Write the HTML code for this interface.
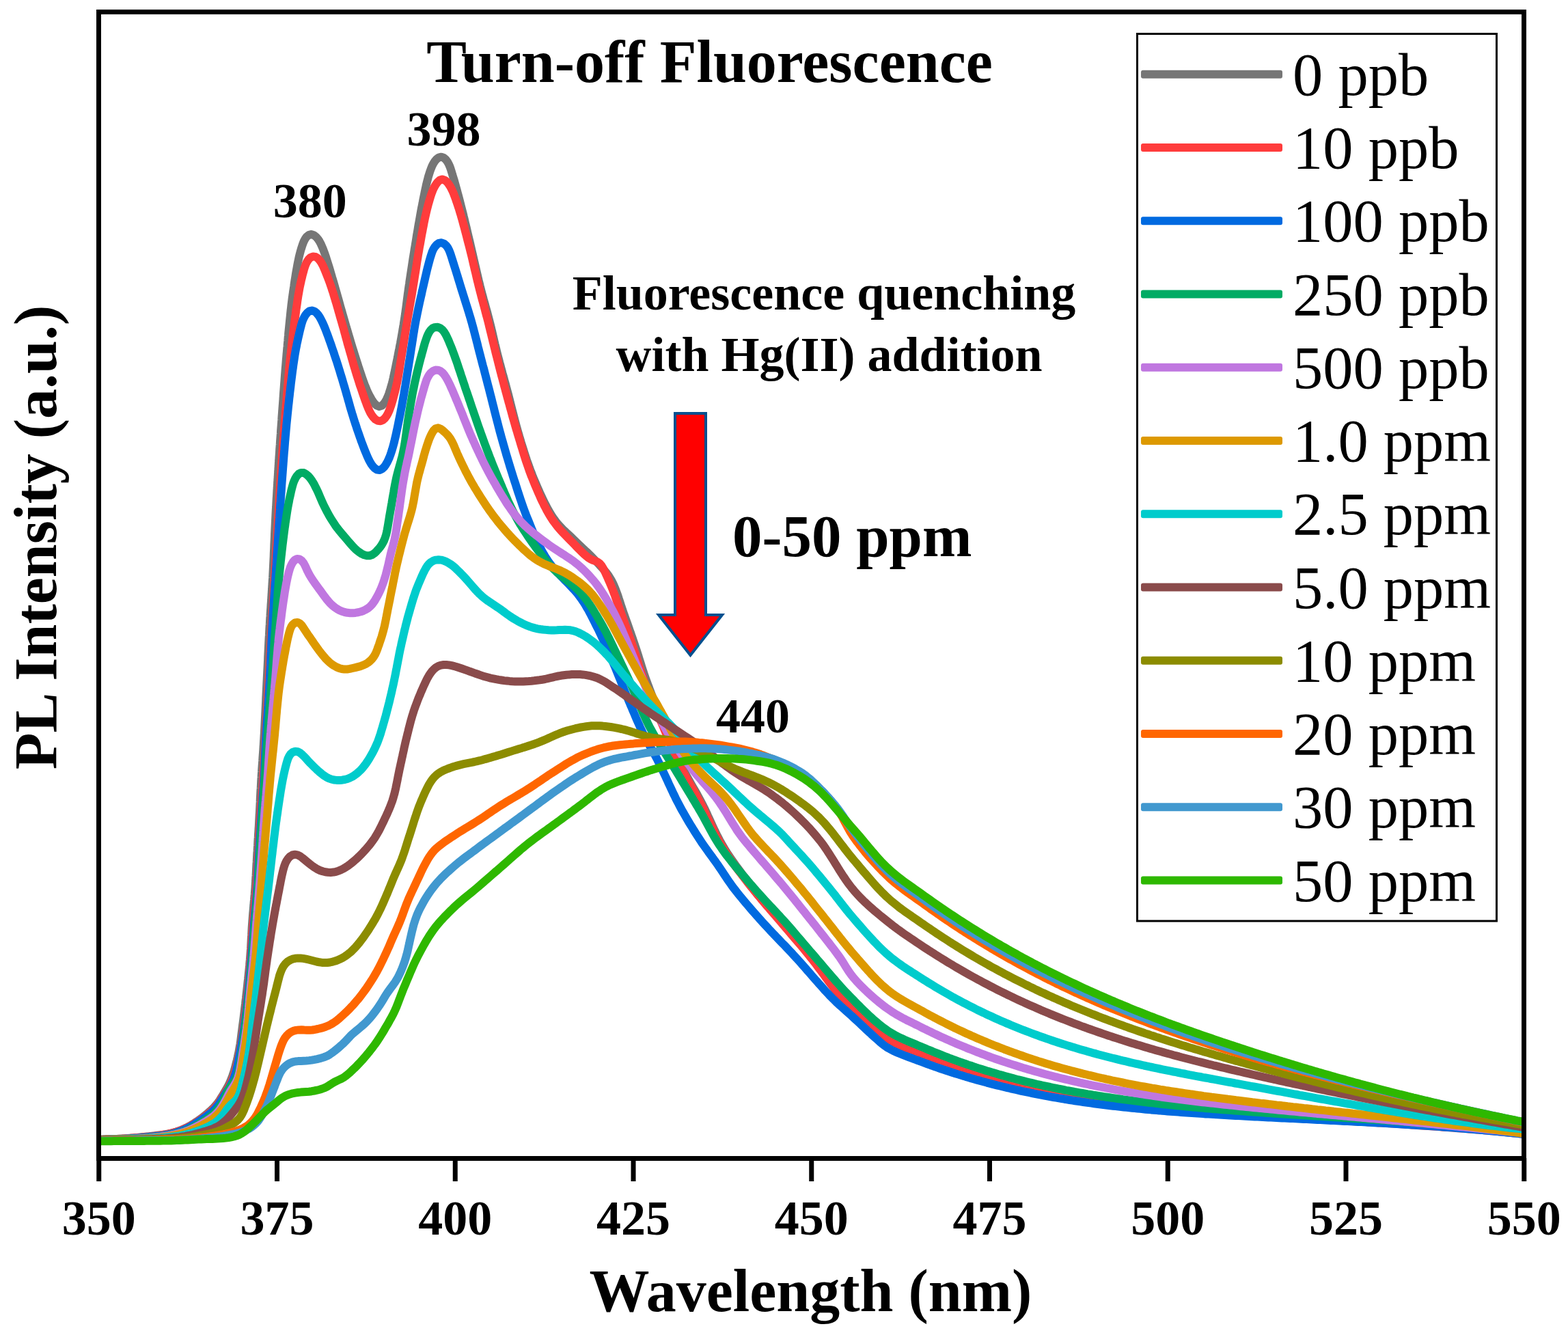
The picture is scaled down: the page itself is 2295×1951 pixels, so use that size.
<!DOCTYPE html>
<html><head><meta charset="utf-8"><title>Turn-off Fluorescence</title>
<style>
html,body{margin:0;padding:0;background:#fff;}
svg{display:block;}
text{font-family:'Liberation Serif','Times New Roman',serif;}
.b{font-weight:bold;}
</style></head><body>
<svg xmlns="http://www.w3.org/2000/svg" width="2295" height="1951" viewBox="0 0 2295 1951">
<rect x="0" y="0" width="2295" height="1951" fill="#fff"/>

<g fill="none" stroke-width="12" stroke-linejoin="round" stroke-linecap="butt" clip-path="url(#plotclip)">
<defs><clipPath id="plotclip"><rect x="144.75" y="17.5" width="2086" height="1678"/></clipPath></defs>
<path stroke="#767676" d="M146.7,1667.9 150.7,1667.7 154.7,1667.6 158.7,1667.4 162.7,1667.2 166.7,1667.1 170.7,1666.9 174.7,1666.7 178.7,1666.5 182.7,1666.3 186.7,1666.0 190.7,1665.7 194.6,1665.4 198.6,1665.1 202.6,1664.7 206.6,1664.3 210.6,1663.9 214.6,1663.5 218.5,1663.1 222.5,1662.6 226.5,1662.2 230.5,1661.7 234.4,1661.2 238.4,1660.7 242.3,1660.1 246.3,1659.4 250.2,1658.6 254.1,1657.6 257.9,1656.5 261.7,1655.2 265.4,1653.8 269.1,1652.2 272.7,1650.5 276.3,1648.7 279.8,1646.7 283.2,1644.6 286.6,1642.4 289.9,1640.2 293.1,1637.9 296.3,1635.5 299.5,1633.0 302.6,1630.5 305.6,1627.9 308.6,1625.2 311.5,1622.5 314.2,1619.6 316.8,1616.5 319.3,1613.4 321.6,1610.1 323.7,1606.7 325.8,1603.3 327.9,1599.9 329.9,1596.4 331.9,1593.0 333.9,1589.5 335.7,1585.9 337.3,1582.3 338.8,1578.6 340.2,1574.8 341.5,1571.0 342.7,1567.2 343.8,1563.3 344.8,1559.5 345.8,1555.6 346.8,1551.7 347.7,1547.8 348.5,1543.9 349.4,1540.0 350.1,1536.1 350.8,1532.1 351.5,1528.2 352.1,1524.2 352.6,1520.3 353.1,1516.3 353.6,1512.3 354.1,1508.4 354.6,1504.4 355.1,1500.4 355.7,1496.5 356.2,1492.5 356.7,1488.5 357.2,1484.6 357.7,1480.6 358.1,1476.6 358.6,1472.7 359.1,1468.7 359.5,1464.7 360.0,1460.7 360.4,1456.8 360.9,1452.8 361.3,1448.8 361.8,1444.8 362.2,1440.9 362.6,1436.9 363.1,1432.9 363.5,1428.9 363.9,1424.9 364.3,1421.0 364.7,1417.0 365.1,1413.0 365.4,1409.0 365.8,1405.0 366.1,1401.0 366.4,1397.1 366.7,1393.1 367.0,1389.1 367.2,1385.1 367.4,1381.1 367.6,1377.1 367.8,1373.1 368.1,1369.1 368.3,1365.1 368.5,1361.1 368.7,1357.1 369.0,1353.1 369.3,1349.1 369.6,1345.2 369.9,1341.2 370.2,1337.2 370.6,1333.2 370.9,1329.2 371.3,1325.2 371.6,1321.2 372.0,1317.3 372.3,1313.3 372.7,1309.3 373.0,1305.3 373.3,1301.3 373.6,1297.3 373.8,1293.3 374.1,1289.3 374.3,1285.3 374.6,1281.4 374.8,1277.4 375.0,1273.4 375.2,1269.4 375.4,1265.4 375.7,1261.4 375.9,1257.4 376.1,1253.4 376.3,1249.4 376.6,1245.4 376.8,1241.4 377.1,1237.4 377.3,1233.4 377.5,1229.4 377.8,1225.4 378.0,1221.5 378.3,1217.5 378.5,1213.5 378.8,1209.5 379.0,1205.5 379.2,1201.5 379.4,1197.5 379.6,1193.5 379.9,1189.5 380.1,1185.5 380.3,1181.5 380.5,1177.5 380.7,1173.5 380.8,1169.5 381.0,1165.5 381.2,1161.5 381.4,1157.5 381.7,1153.6 381.9,1149.6 382.1,1145.6 382.3,1141.6 382.6,1137.6 382.8,1133.6 383.1,1129.6 383.3,1125.6 383.6,1121.6 383.9,1117.6 384.2,1113.6 384.4,1109.6 384.7,1105.7 385.0,1101.7 385.3,1097.7 385.5,1093.7 385.8,1089.7 386.0,1085.7 386.3,1081.7 386.5,1077.7 386.8,1073.7 387.0,1069.7 387.2,1065.7 387.4,1061.7 387.6,1057.7 387.8,1053.7 388.0,1049.7 388.2,1045.8 388.4,1041.8 388.6,1037.8 388.8,1033.8 389.0,1029.8 389.2,1025.8 389.3,1021.8 389.5,1017.8 389.7,1013.8 389.9,1009.8 390.1,1005.8 390.3,1001.8 390.5,997.8 390.7,993.8 390.9,989.8 391.1,985.8 391.3,981.8 391.5,977.8 391.7,973.8 391.9,969.8 392.1,965.8 392.2,961.9 392.4,957.9 392.6,953.9 392.8,949.9 393.0,945.9 393.2,941.9 393.4,937.9 393.6,933.9 393.9,929.9 394.1,925.9 394.3,921.9 394.5,917.9 394.8,913.9 395.0,909.9 395.2,905.9 395.5,901.9 395.7,897.9 396.0,894.0 396.3,890.0 396.5,886.0 396.8,882.0 397.1,878.0 397.3,874.0 397.6,870.0 397.8,866.0 398.1,862.0 398.3,858.0 398.6,854.0 398.8,850.0 399.1,846.1 399.3,842.1 399.5,838.1 399.7,834.1 399.9,830.1 400.1,826.1 400.3,822.1 400.5,818.1 400.7,814.1 400.8,810.1 401.0,806.1 401.2,802.1 401.3,798.1 401.5,794.1 401.7,790.1 401.9,786.1 402.0,782.1 402.2,778.1 402.4,774.1 402.6,770.1 402.8,766.1 403.0,762.1 403.2,758.2 403.4,754.2 403.6,750.2 403.8,746.2 404.1,742.2 404.3,738.2 404.5,734.2 404.7,730.2 405.0,726.2 405.2,722.2 405.4,718.2 405.7,714.2 405.9,710.2 406.2,706.2 406.4,702.2 406.7,698.3 406.9,694.3 407.2,690.3 407.4,686.3 407.7,682.3 407.9,678.3 408.2,674.3 408.4,670.3 408.7,666.3 409.0,662.3 409.2,658.3 409.5,654.3 409.8,650.4 410.0,646.4 410.3,642.4 410.6,638.4 410.9,634.4 411.1,630.4 411.4,626.4 411.7,622.4 412.0,618.4 412.3,614.4 412.5,610.4 412.8,606.5 413.1,602.5 413.4,598.5 413.7,594.5 414.0,590.5 414.3,586.5 414.6,582.5 414.8,578.5 415.1,574.5 415.4,570.6 415.7,566.6 416.0,562.6 416.3,558.6 416.6,554.6 416.9,550.6 417.2,546.6 417.5,542.6 417.8,538.6 418.2,534.7 418.5,530.7 418.8,526.7 419.2,522.7 419.5,518.7 419.9,514.7 420.2,510.7 420.6,506.8 420.9,502.8 421.3,498.8 421.6,494.8 422.0,490.8 422.3,486.8 422.7,482.9 423.1,478.9 423.5,474.9 423.9,470.9 424.3,466.9 424.7,463.0 425.1,459.0 425.5,455.0 426.0,451.0 426.4,447.1 426.9,443.1 427.4,439.1 427.9,435.1 428.5,431.2 429.0,427.2 429.6,423.3 430.2,419.3 430.7,415.3 431.3,411.4 432.0,407.4 432.6,403.5 433.2,399.5 433.9,395.6 434.6,391.7 435.3,387.7 436.1,383.8 436.9,379.9 437.7,376.0 438.7,372.1 439.7,368.2 440.8,364.4 442.0,360.6 443.3,356.8 444.8,353.1 446.7,349.5 449.0,346.3 452.1,343.8 456.0,343.0 459.7,344.4 462.8,346.9 465.4,349.9 467.6,353.2 469.5,356.8 471.1,360.4 472.7,364.1 474.1,367.8 475.5,371.6 476.8,375.4 478.0,379.2 479.2,383.0 480.4,386.8 481.6,390.6 482.8,394.5 483.9,398.3 485.0,402.1 486.1,406.0 487.3,409.8 488.4,413.7 489.5,417.5 490.6,421.4 491.7,425.2 492.8,429.0 493.9,432.9 495.0,436.7 496.1,440.6 497.1,444.4 498.2,448.3 499.3,452.1 500.4,456.0 501.5,459.8 502.6,463.7 503.7,467.5 504.8,471.4 505.9,475.2 507.0,479.1 508.2,482.9 509.3,486.7 510.4,490.6 511.6,494.4 512.7,498.2 513.8,502.1 515.0,505.9 516.2,509.7 517.4,513.5 518.6,517.4 519.8,521.2 521.0,525.0 522.2,528.8 523.4,532.6 524.6,536.4 525.9,540.2 527.1,544.0 528.4,547.8 529.7,551.6 531.0,555.4 532.3,559.2 533.7,562.9 535.2,566.6 536.7,570.3 538.3,574.0 540.1,577.6 541.9,581.1 543.9,584.6 546.1,587.9 548.6,591.1 551.6,593.7 555.3,595.0 559.0,593.6 561.9,590.8 564.1,587.5 566.0,584.0 567.6,580.4 569.1,576.6 570.3,572.8 571.5,569.0 572.6,565.2 573.7,561.3 574.7,557.4 575.6,553.5 576.4,549.6 577.3,545.7 578.1,541.8 578.9,537.9 579.7,534.0 580.5,530.0 581.3,526.1 582.1,522.2 582.8,518.3 583.6,514.3 584.4,510.4 585.1,506.5 585.9,502.6 586.6,498.6 587.3,494.7 588.0,490.8 588.7,486.8 589.4,482.9 590.0,478.9 590.7,475.0 591.3,471.0 591.9,467.1 592.5,463.1 593.1,459.2 593.6,455.2 594.2,451.2 594.7,447.3 595.2,443.3 595.7,439.3 596.2,435.4 596.7,431.4 597.3,427.4 597.8,423.5 598.4,419.5 599.0,415.6 599.5,411.6 600.1,407.6 600.7,403.7 601.3,399.7 601.9,395.8 602.5,391.8 603.1,387.9 603.7,383.9 604.3,380.0 604.9,376.0 605.6,372.1 606.2,368.1 606.8,364.2 607.5,360.2 608.1,356.3 608.8,352.3 609.4,348.4 610.0,344.4 610.7,340.5 611.4,336.5 612.0,332.6 612.7,328.6 613.4,324.7 614.1,320.8 614.8,316.8 615.5,312.9 616.2,308.9 616.9,305.0 617.7,301.1 618.5,297.2 619.2,293.2 620.0,289.3 620.8,285.4 621.6,281.5 622.4,277.6 623.3,273.6 624.1,269.7 625.1,265.9 626.1,262.0 627.1,258.1 628.3,254.3 629.5,250.5 630.9,246.7 632.4,243.0 634.2,239.5 636.4,236.1 638.9,233.0 642.1,230.6 645.9,229.7 649.6,231.0 652.6,233.6 655.0,236.8 656.9,240.3 658.5,244.0 659.8,247.8 661.0,251.6 662.1,255.4 663.3,259.2 664.5,263.1 665.6,266.9 666.7,270.8 667.7,274.6 668.8,278.5 669.8,282.3 670.9,286.2 671.9,290.1 672.9,293.9 673.9,297.8 674.9,301.7 675.9,305.5 676.9,309.4 677.9,313.3 678.8,317.2 679.8,321.1 680.7,325.0 681.6,328.9 682.6,332.7 683.5,336.6 684.4,340.5 685.3,344.4 686.2,348.3 687.2,352.2 688.1,356.1 689.0,360.0 689.9,363.9 690.8,367.8 691.7,371.7 692.6,375.6 693.5,379.5 694.4,383.4 695.3,387.3 696.2,391.2 697.1,395.1 698.0,399.0 698.9,402.9 699.8,406.8 700.7,410.7 701.7,414.5 702.6,418.4 703.6,422.3 704.6,426.2 705.6,430.0 706.7,433.9 707.7,437.8 708.8,441.6 709.9,445.5 710.9,449.3 712.0,453.2 713.1,457.0 714.1,460.9 715.1,464.8 716.1,468.6 717.1,472.5 718.1,476.4 719.0,480.3 720.0,484.2 720.9,488.1 721.8,492.0 722.7,495.9 723.6,499.8 724.5,503.7 725.5,507.5 726.4,511.4 727.3,515.3 728.3,519.2 729.3,523.1 730.3,526.9 731.3,530.8 732.4,534.7 733.4,538.5 734.5,542.4 735.5,546.3 736.6,550.1 737.6,554.0 738.7,557.8 739.8,561.7 740.8,565.5 741.8,569.4 742.9,573.3 743.9,577.1 744.9,581.0 745.9,584.9 746.8,588.8 747.8,592.6 748.8,596.5 749.8,600.4 750.8,604.3 751.8,608.2 752.8,612.0 753.8,615.9 754.8,619.8 755.8,623.6 756.9,627.5 758.0,631.3 759.1,635.2 760.2,639.0 761.4,642.8 762.5,646.7 763.7,650.5 764.9,654.3 766.1,658.1 767.3,662.0 768.5,665.8 769.8,669.6 771.0,673.4 772.3,677.1 773.7,680.9 775.0,684.7 776.4,688.4 777.9,692.1 779.3,695.9 780.8,699.6 782.4,703.3 783.9,706.9 785.5,710.6 787.1,714.3 788.7,718.0 790.3,721.6 792.0,725.3 793.7,728.9 795.4,732.5 797.2,736.1 799.0,739.6 800.9,743.2 802.8,746.7 804.8,750.2 806.9,753.6 809.0,756.9 811.3,760.2 813.7,763.4 816.2,766.5 818.9,769.5 821.6,772.4 824.4,775.3 827.3,778.0 830.2,780.8 833.2,783.5 836.1,786.2 839.0,789.0 841.8,791.8 844.7,794.6 847.6,797.3 850.5,800.1 853.4,802.8 856.3,805.6 859.3,808.3 862.1,811.1 865.0,813.9 867.8,816.7 870.6,819.6 873.3,822.5 876.1,825.4 878.8,828.3 881.5,831.3 884.2,834.3 886.7,837.3 889.2,840.5 891.5,843.8 893.6,847.2 895.6,850.6 897.4,854.2 899.0,857.9 900.6,861.6 902.0,865.3 903.4,869.1 904.7,872.8 905.9,876.6 907.2,880.4 908.4,884.2 909.6,888.0 910.9,891.8 912.2,895.6 913.5,899.4 914.9,903.2 916.2,906.9 917.6,910.7 918.9,914.5 920.2,918.2 921.5,922.0 922.9,925.8 924.2,929.6 925.5,933.3 926.8,937.1 928.1,940.9 929.4,944.7 930.6,948.5 931.9,952.3 933.1,956.1 934.3,959.9 935.5,963.7 936.7,967.6 937.9,971.4 939.1,975.2 940.3,979.0 941.5,982.8 942.8,986.6 944.1,990.4 945.4,994.2 946.8,997.9 948.2,1001.7 949.6,1005.4 951.0,1009.2 952.4,1012.9 953.8,1016.6 955.3,1020.4 956.7,1024.1 958.2,1027.8 959.6,1031.6 961.1,1035.3 962.6,1039.0 964.0,1042.7 965.5,1046.4 967.0,1050.1 968.5,1053.8 970.0,1057.6 971.5,1061.3 973.0,1065.0 974.6,1068.7 976.1,1072.4 977.6,1076.0 979.2,1079.7 980.7,1083.4 982.3,1087.1 983.9,1090.8 985.5,1094.4 987.1,1098.1 988.7,1101.8 990.3,1105.4 991.9,1109.1 993.6,1112.7 995.3,1116.3 997.0,1120.0 998.8,1123.5 1000.5,1127.1 1002.4,1130.7 1004.2,1134.2 1006.1,1137.7 1008.1,1141.2 1010.0,1144.7 1012.0,1148.2 1014.0,1151.7 1016.0,1155.1 1018.0,1158.6 1020.0,1162.1 1021.9,1165.6 1023.8,1169.1 1025.7,1172.6 1027.6,1176.2 1029.4,1179.7 1031.1,1183.3 1032.9,1186.9 1034.6,1190.6 1036.2,1194.2 1037.9,1197.8 1039.6,1201.5 1041.2,1205.1 1042.9,1208.7 1044.6,1212.4 1046.3,1216.0 1048.1,1219.6 1049.8,1223.2 1051.7,1226.7 1053.5,1230.3 1055.5,1233.8 1057.4,1237.2 1059.5,1240.7 1061.6,1244.1 1063.7,1247.5 1065.9,1250.8 1068.1,1254.1 1070.4,1257.4 1072.7,1260.7 1075.0,1264.0 1077.3,1267.2 1079.7,1270.4 1082.1,1273.6 1084.5,1276.8 1086.9,1280.0 1089.4,1283.2 1091.8,1286.3 1094.3,1289.5 1096.7,1292.7 1099.2,1295.8 1101.7,1298.9 1104.2,1302.1 1106.7,1305.2 1109.2,1308.3 1111.7,1311.4 1114.3,1314.5 1116.9,1317.5 1119.5,1320.6 1122.1,1323.6 1124.7,1326.6 1127.3,1329.7 1129.9,1332.7 1132.5,1335.7 1135.1,1338.7 1137.8,1341.8 1140.4,1344.8 1143.0,1347.8 1145.6,1350.9 1148.1,1353.9 1150.7,1357.0 1153.3,1360.0 1155.9,1363.1 1158.6,1366.1 1161.2,1369.1 1163.8,1372.2 1166.4,1375.2 1169.0,1378.2 1171.5,1381.3 1174.1,1384.4 1176.7,1387.4 1179.2,1390.5 1181.8,1393.6 1184.3,1396.7 1186.8,1399.8 1189.3,1402.9 1191.8,1406.1 1194.2,1409.3 1196.6,1412.5 1199.0,1415.7 1201.4,1418.9 1203.8,1422.1 1206.1,1425.3 1208.5,1428.5 1210.9,1431.8 1213.3,1435.0 1215.6,1438.2 1218.0,1441.4 1220.4,1444.6 1222.8,1447.8 1225.3,1451.0 1227.7,1454.1 1230.3,1457.2 1232.8,1460.3 1235.4,1463.3 1238.1,1466.3 1240.8,1469.3 1243.5,1472.2 1246.4,1475.0 1249.2,1477.8 1252.1,1480.6 1255.0,1483.3 1257.9,1486.1 1260.8,1488.8 1263.7,1491.6 1266.7,1494.3 1269.6,1497.0 1272.6,1499.7 1275.6,1502.3 1278.6,1504.9 1281.7,1507.5 1284.8,1510.0 1287.9,1512.5 1291.1,1514.9 1294.4,1517.2 1297.7,1519.5 1301.1,1521.6 1304.5,1523.6 1308.0,1525.5 1311.6,1527.3 1315.2,1529.1 1318.9,1530.7 1322.5,1532.3 1326.3,1533.8 1330.0,1535.2 1333.7,1536.7 1337.4,1538.1 1341.2,1539.5 1344.9,1540.9 1348.7,1542.4 1352.4,1543.8 1356.1,1545.3 1359.8,1546.8 1363.6,1548.2 1367.3,1549.6 1371.0,1551.0 1374.8,1552.4 1378.6,1553.8 1382.3,1555.1 1386.1,1556.5 1389.9,1557.8 1393.6,1559.1 1397.4,1560.4 1401.2,1561.7 1405.0,1562.9 1408.8,1564.2 1412.6,1565.4 1416.4,1566.6 1420.3,1567.8 1424.1,1569.0 1427.9,1570.1 1431.7,1571.3 1435.6,1572.4 1439.4,1573.5 1443.3,1574.6 1447.1,1575.7 1451.0,1576.8 1454.8,1577.9 1458.7,1578.9 1462.5,1579.9 1466.4,1581.0 1470.3,1582.0 1474.2,1582.9 1478.0,1583.9 1481.9,1584.9 1485.8,1585.8 1489.7,1586.7 1493.6,1587.7 1497.5,1588.6 1501.4,1589.4 1505.3,1590.3 1509.2,1591.2 1513.1,1592.0 1517.0,1592.9 1520.9,1593.7 1524.9,1594.5 1528.8,1595.3 1532.7,1596.1 1536.6,1596.9 1540.5,1597.6 1544.5,1598.4 1548.4,1599.1 1552.3,1599.8 1556.3,1600.5 1560.2,1601.2 1564.2,1601.9 1568.1,1602.6 1572.0,1603.3 1576.0,1603.9 1579.9,1604.6 1583.9,1605.2 1587.8,1605.8 1591.8,1606.5 1595.7,1607.1 1599.7,1607.7 1603.7,1608.3 1607.6,1608.8 1611.6,1609.4 1615.5,1610.0 1619.5,1610.5 1623.5,1611.1 1627.4,1611.6 1631.4,1612.1 1635.4,1612.6 1639.3,1613.1 1643.3,1613.6 1647.3,1614.1 1651.2,1614.6 1655.2,1615.1 1659.2,1615.6 1663.1,1616.0 1667.1,1616.5 1671.1,1616.9 1675.1,1617.4 1679.0,1617.8 1683.0,1618.2 1687.0,1618.7 1691.0,1619.1 1695.0,1619.5 1698.9,1619.9 1702.9,1620.3 1706.9,1620.7 1710.9,1621.1 1714.9,1621.5 1718.8,1621.9 1722.8,1622.3 1726.8,1622.6 1730.8,1623.0 1734.8,1623.4 1738.8,1623.7 1742.7,1624.1 1746.7,1624.4 1750.7,1624.8 1754.7,1625.1 1758.7,1625.5 1762.7,1625.8 1766.6,1626.1 1770.6,1626.5 1774.6,1626.8 1778.6,1627.1 1782.6,1627.4 1786.6,1627.7 1790.6,1628.0 1794.6,1628.4 1798.5,1628.7 1802.5,1629.0 1806.5,1629.3 1810.5,1629.5 1814.5,1629.8 1818.5,1630.1 1822.5,1630.4 1826.5,1630.7 1830.5,1631.0 1834.5,1631.2 1838.4,1631.5 1842.4,1631.8 1846.4,1632.1 1850.4,1632.3 1854.4,1632.6 1858.4,1632.9 1862.4,1633.1 1866.4,1633.4 1870.4,1633.6 1874.4,1633.9 1878.4,1634.1 1882.4,1634.4 1886.3,1634.6 1890.3,1634.9 1894.3,1635.1 1898.3,1635.4 1902.3,1635.6 1906.3,1635.9 1910.3,1636.1 1914.3,1636.4 1918.3,1636.6 1922.3,1636.8 1926.3,1637.1 1930.3,1637.3 1934.3,1637.5 1938.2,1637.8 1942.2,1638.0 1946.2,1638.3 1950.2,1638.5 1954.2,1638.7 1958.2,1639.0 1962.2,1639.2 1966.2,1639.4 1970.2,1639.7 1974.2,1639.9 1978.2,1640.1 1982.2,1640.4 1986.2,1640.6 1990.2,1640.8 1994.2,1641.1 1998.1,1641.3 2002.1,1641.6 2006.1,1641.8 2010.1,1642.0 2014.1,1642.3 2018.1,1642.5 2022.1,1642.8 2026.1,1643.0 2030.1,1643.3 2034.1,1643.5 2038.1,1643.8 2042.1,1644.0 2046.1,1644.3 2050.0,1644.5 2054.0,1644.8 2058.0,1645.0 2062.0,1645.3 2066.0,1645.6 2070.0,1645.8 2074.0,1646.1 2078.0,1646.3 2082.0,1646.6 2086.0,1646.9 2090.0,1647.2 2093.9,1647.4 2097.9,1647.7 2101.9,1648.0 2105.9,1648.3 2109.9,1648.6 2113.9,1648.9 2117.9,1649.2 2121.9,1649.5 2125.9,1649.8 2129.9,1650.1 2133.8,1650.4 2137.8,1650.7 2141.8,1651.0 2145.8,1651.3 2149.8,1651.6 2153.8,1652.0 2157.8,1652.3 2161.8,1652.6 2165.7,1653.0 2169.7,1653.3 2173.7,1653.6 2177.7,1654.0 2181.7,1654.3 2185.7,1654.7 2189.6,1655.1 2193.6,1655.4 2197.6,1655.8 2201.6,1656.2 2205.6,1656.5 2209.6,1656.9 2213.5,1657.3 2217.5,1657.7 2221.5,1658.1 2225.5,1658.5 2227.4,1658.7"/>
<path stroke="#FF3C3C" d="M146.7,1667.9 150.7,1667.7 154.7,1667.6 158.7,1667.4 162.7,1667.2 166.7,1667.0 170.7,1666.9 174.7,1666.7 178.7,1666.5 182.7,1666.2 186.7,1666.0 190.7,1665.8 194.7,1665.5 198.6,1665.2 202.6,1665.0 206.6,1664.7 210.6,1664.3 214.6,1663.9 218.6,1663.5 222.5,1663.1 226.5,1662.6 230.5,1662.1 234.5,1661.6 238.4,1661.0 242.4,1660.4 246.3,1659.6 250.2,1658.8 254.1,1657.8 257.9,1656.7 261.7,1655.5 265.5,1654.1 269.2,1652.6 272.8,1651.0 276.4,1649.2 279.9,1647.3 283.4,1645.2 286.8,1643.1 290.1,1640.9 293.4,1638.7 296.7,1636.3 299.9,1634.0 303.1,1631.5 306.2,1629.0 309.2,1626.4 312.1,1623.7 314.9,1620.8 317.5,1617.7 319.9,1614.5 322.1,1611.2 324.3,1607.8 326.4,1604.5 328.5,1601.1 330.7,1597.7 332.8,1594.3 334.8,1590.9 336.8,1587.4 338.5,1583.8 340.2,1580.1 341.6,1576.4 343.0,1572.6 344.2,1568.8 345.3,1565.0 346.3,1561.1 347.2,1557.2 348.1,1553.3 349.0,1549.4 349.8,1545.5 350.6,1541.6 351.4,1537.7 352.2,1533.7 352.9,1529.8 353.6,1525.9 354.2,1521.9 354.9,1518.0 355.4,1514.0 356.0,1510.0 356.6,1506.1 357.1,1502.1 357.6,1498.2 358.2,1494.2 358.7,1490.2 359.2,1486.3 359.7,1482.3 360.2,1478.3 360.7,1474.4 361.1,1470.4 361.6,1466.4 362.0,1462.4 362.4,1458.4 362.8,1454.5 363.2,1450.5 363.6,1446.5 364.0,1442.5 364.3,1438.5 364.7,1434.6 365.0,1430.6 365.3,1426.6 365.6,1422.6 365.9,1418.6 366.2,1414.6 366.5,1410.6 366.8,1406.6 367.1,1402.6 367.4,1398.7 367.7,1394.7 368.0,1390.7 368.2,1386.7 368.5,1382.7 368.8,1378.7 369.0,1374.7 369.3,1370.7 369.6,1366.7 369.8,1362.7 370.1,1358.8 370.4,1354.8 370.8,1350.8 371.1,1346.8 371.4,1342.8 371.8,1338.8 372.2,1334.8 372.6,1330.9 373.0,1326.9 373.3,1322.9 373.7,1318.9 374.1,1314.9 374.5,1311.0 374.8,1307.0 375.2,1303.0 375.5,1299.0 375.7,1295.0 376.0,1291.0 376.3,1287.0 376.5,1283.0 376.7,1279.0 377.0,1275.0 377.2,1271.0 377.4,1267.1 377.6,1263.1 377.8,1259.1 378.0,1255.1 378.2,1251.1 378.5,1247.1 378.7,1243.1 378.9,1239.1 379.1,1235.1 379.3,1231.1 379.5,1227.1 379.7,1223.1 379.9,1219.1 380.1,1215.1 380.3,1211.1 380.6,1207.1 380.8,1203.1 381.1,1199.1 381.3,1195.2 381.6,1191.2 381.9,1187.2 382.2,1183.2 382.5,1179.2 382.8,1175.2 383.1,1171.2 383.4,1167.2 383.7,1163.2 384.0,1159.3 384.3,1155.3 384.5,1151.3 384.8,1147.3 385.1,1143.3 385.3,1139.3 385.6,1135.3 385.8,1131.3 386.0,1127.3 386.3,1123.3 386.5,1119.3 386.7,1115.3 386.9,1111.3 387.1,1107.4 387.3,1103.4 387.5,1099.4 387.7,1095.4 387.9,1091.4 388.1,1087.4 388.3,1083.4 388.5,1079.4 388.8,1075.4 389.0,1071.4 389.2,1067.4 389.5,1063.4 389.7,1059.4 390.0,1055.4 390.2,1051.4 390.4,1047.4 390.7,1043.5 390.9,1039.5 391.2,1035.5 391.4,1031.5 391.7,1027.5 391.9,1023.5 392.2,1019.5 392.4,1015.5 392.6,1011.5 392.9,1007.5 393.1,1003.5 393.3,999.5 393.5,995.5 393.8,991.5 394.0,987.5 394.2,983.6 394.4,979.6 394.6,975.6 394.8,971.6 395.0,967.6 395.2,963.6 395.4,959.6 395.6,955.6 395.8,951.6 396.0,947.6 396.2,943.6 396.4,939.6 396.7,935.6 396.9,931.6 397.1,927.6 397.3,923.6 397.5,919.6 397.7,915.6 398.0,911.7 398.2,907.7 398.4,903.7 398.7,899.7 398.9,895.7 399.2,891.7 399.4,887.7 399.6,883.7 399.9,879.7 400.1,875.7 400.4,871.7 400.6,867.7 400.9,863.7 401.1,859.7 401.3,855.8 401.6,851.8 401.8,847.8 402.1,843.8 402.3,839.8 402.6,835.8 402.8,831.8 403.0,827.8 403.3,823.8 403.5,819.8 403.7,815.8 404.0,811.8 404.2,807.8 404.5,803.8 404.7,799.9 404.9,795.9 405.2,791.9 405.4,787.9 405.7,783.9 405.9,779.9 406.1,775.9 406.4,771.9 406.6,767.9 406.9,763.9 407.1,759.9 407.3,755.9 407.6,751.9 407.8,748.0 408.1,744.0 408.3,740.0 408.6,736.0 408.8,732.0 409.0,728.0 409.3,724.0 409.5,720.0 409.8,716.0 410.0,712.0 410.3,708.0 410.5,704.0 410.8,700.0 411.0,696.0 411.3,692.1 411.6,688.1 411.8,684.1 412.1,680.1 412.4,676.1 412.7,672.1 412.9,668.1 413.2,664.1 413.5,660.1 413.8,656.1 414.1,652.2 414.4,648.2 414.7,644.2 415.0,640.2 415.3,636.2 415.6,632.2 415.9,628.2 416.2,624.2 416.6,620.3 416.9,616.3 417.2,612.3 417.5,608.3 417.8,604.3 418.2,600.3 418.5,596.3 418.8,592.3 419.2,588.4 419.5,584.4 419.8,580.4 420.1,576.4 420.5,572.4 420.8,568.4 421.1,564.4 421.5,560.5 421.8,556.5 422.2,552.5 422.5,548.5 422.9,544.5 423.2,540.5 423.6,536.6 424.0,532.6 424.4,528.6 424.8,524.6 425.2,520.6 425.7,516.7 426.1,512.7 426.6,508.7 427.0,504.7 427.5,500.8 428.0,496.8 428.4,492.8 428.9,488.8 429.4,484.9 429.9,480.9 430.4,476.9 430.9,473.0 431.4,469.0 431.9,465.0 432.5,461.1 433.0,457.1 433.5,453.1 434.1,449.2 434.7,445.2 435.2,441.3 435.8,437.3 436.4,433.4 437.1,429.4 437.8,425.5 438.5,421.5 439.3,417.6 440.2,413.7 441.0,409.8 442.0,405.9 442.9,402.0 444.0,398.2 445.0,394.3 446.2,390.5 447.6,386.7 449.3,383.1 451.5,379.8 454.3,377.0 458.0,375.4 461.9,375.9 465.2,378.1 467.9,381.0 470.2,384.3 472.1,387.8 473.8,391.4 475.3,395.1 476.8,398.8 478.3,402.5 479.8,406.3 481.2,410.0 482.6,413.8 483.9,417.5 485.2,421.3 486.4,425.1 487.7,428.9 488.8,432.8 490.0,436.6 491.1,440.4 492.3,444.2 493.4,448.1 494.5,451.9 495.6,455.8 496.7,459.6 497.8,463.5 498.9,467.3 500.0,471.2 501.1,475.0 502.2,478.9 503.3,482.7 504.3,486.6 505.4,490.4 506.4,494.3 507.5,498.1 508.5,502.0 509.6,505.9 510.7,509.7 511.8,513.6 512.9,517.4 514.0,521.2 515.1,525.1 516.2,528.9 517.3,532.8 518.4,536.6 519.6,540.4 520.7,544.3 521.9,548.1 523.1,551.9 524.3,555.7 525.5,559.6 526.7,563.4 528.0,567.1 529.3,570.9 530.6,574.7 531.9,578.5 533.2,582.3 534.5,586.0 535.9,589.8 537.3,593.6 538.8,597.3 540.4,600.9 542.2,604.5 544.3,607.9 546.7,611.1 549.5,613.9 553.0,615.9 556.9,616.3 560.6,614.7 563.5,612.0 565.8,608.8 567.8,605.3 569.5,601.6 570.9,597.9 572.2,594.1 573.4,590.3 574.5,586.5 575.6,582.6 576.6,578.8 577.6,574.9 578.6,571.0 579.6,567.1 580.4,563.2 581.3,559.3 582.0,555.4 582.8,551.4 583.5,547.5 584.1,543.6 584.8,539.6 585.4,535.7 586.0,531.7 586.6,527.8 587.3,523.8 587.9,519.9 588.6,515.9 589.2,512.0 589.9,508.0 590.5,504.1 591.2,500.1 591.8,496.2 592.4,492.2 593.0,488.3 593.7,484.3 594.3,480.4 594.9,476.4 595.6,472.5 596.3,468.5 596.9,464.6 597.6,460.7 598.3,456.7 599.0,452.8 599.6,448.8 600.3,444.9 601.0,440.9 601.7,437.0 602.4,433.1 603.1,429.1 603.7,425.2 604.4,421.2 605.0,417.3 605.7,413.3 606.3,409.4 606.9,405.4 607.5,401.5 608.2,397.5 608.8,393.6 609.4,389.6 610.0,385.7 610.6,381.7 611.3,377.8 611.9,373.8 612.6,369.9 613.3,365.9 613.9,362.0 614.7,358.1 615.4,354.1 616.1,350.2 616.8,346.3 617.5,342.3 618.3,338.4 619.0,334.5 619.8,330.5 620.5,326.6 621.3,322.7 622.1,318.8 623.0,314.9 623.9,311.0 624.8,307.1 625.8,303.2 626.8,299.3 627.9,295.5 629.0,291.6 630.2,287.8 631.4,284.0 632.8,280.3 634.3,276.6 636.1,273.0 638.2,269.6 640.6,266.4 643.6,263.7 647.3,262.4 651.0,263.6 654.1,266.2 656.6,269.3 658.8,272.6 660.7,276.1 662.4,279.7 664.0,283.4 665.4,287.2 666.8,290.9 668.1,294.7 669.4,298.5 670.6,302.3 671.9,306.1 673.0,309.9 674.2,313.7 675.3,317.6 676.4,321.4 677.5,325.3 678.5,329.1 679.6,333.0 680.6,336.9 681.6,340.7 682.6,344.6 683.6,348.5 684.6,352.4 685.6,356.2 686.6,360.1 687.6,364.0 688.6,367.9 689.5,371.7 690.5,375.6 691.4,379.5 692.3,383.4 693.2,387.3 694.1,391.2 695.0,395.1 696.0,399.0 696.9,402.9 697.8,406.8 698.7,410.7 699.7,414.6 700.6,418.4 701.6,422.3 702.6,426.2 703.6,430.1 704.6,433.9 705.6,437.8 706.7,441.7 707.7,445.5 708.8,449.4 709.8,453.3 710.8,457.1 711.8,461.0 712.9,464.9 713.9,468.7 714.9,472.6 715.8,476.5 716.8,480.4 717.7,484.3 718.7,488.1 719.6,492.0 720.6,495.9 721.5,499.8 722.5,503.7 723.4,507.6 724.4,511.5 725.3,515.3 726.3,519.2 727.3,523.1 728.3,527.0 729.3,530.9 730.2,534.7 731.2,538.6 732.2,542.5 733.2,546.3 734.2,550.2 735.3,554.1 736.3,558.0 737.3,561.8 738.3,565.7 739.4,569.5 740.4,573.4 741.5,577.3 742.5,581.1 743.6,585.0 744.6,588.9 745.7,592.7 746.7,596.6 747.8,600.4 748.9,604.3 749.9,608.1 751.0,612.0 752.1,615.8 753.2,619.7 754.3,623.5 755.4,627.4 756.6,631.2 757.7,635.0 758.9,638.9 760.0,642.7 761.2,646.5 762.3,650.3 763.5,654.2 764.7,658.0 765.8,661.8 767.0,665.6 768.2,669.5 769.4,673.3 770.7,677.1 772.0,680.9 773.3,684.6 774.6,688.4 776.0,692.2 777.4,695.9 778.9,699.6 780.4,703.3 781.9,707.0 783.4,710.7 785.0,714.4 786.6,718.1 788.2,721.8 789.8,725.4 791.4,729.1 793.1,732.7 794.9,736.3 796.6,739.9 798.5,743.4 800.3,747.0 802.3,750.5 804.3,753.9 806.4,757.3 808.6,760.7 810.9,764.0 813.3,767.2 815.7,770.3 818.3,773.4 821.0,776.4 823.7,779.3 826.4,782.2 829.2,785.1 832.0,787.9 834.8,790.8 837.6,793.7 840.4,796.5 843.1,799.4 845.9,802.3 848.7,805.1 851.6,807.9 854.5,810.7 857.5,813.4 860.6,815.9 863.9,818.1 867.5,819.8 871.3,821.1 875.0,822.7 878.1,825.1 880.7,828.2 882.7,831.6 884.6,835.2 886.3,838.8 887.9,842.4 889.6,846.1 891.2,849.8 892.8,853.4 894.3,857.1 895.8,860.8 897.3,864.6 898.7,868.3 900.1,872.0 901.4,875.8 902.8,879.6 904.1,883.3 905.4,887.1 906.8,890.9 908.1,894.7 909.4,898.4 910.8,902.2 912.1,906.0 913.5,909.7 914.8,913.5 916.2,917.3 917.5,921.0 918.8,924.8 920.1,928.6 921.5,932.4 922.8,936.1 924.1,939.9 925.4,943.7 926.6,947.5 927.9,951.3 929.2,955.1 930.4,958.9 931.6,962.7 932.8,966.5 934.0,970.4 935.2,974.2 936.4,978.0 937.6,981.8 938.8,985.6 940.1,989.4 941.4,993.2 942.7,997.0 944.1,1000.7 945.5,1004.4 947.0,1008.2 948.5,1011.9 950.0,1015.6 951.5,1019.3 953.1,1023.0 954.6,1026.6 956.2,1030.3 957.8,1034.0 959.4,1037.7 961.0,1041.3 962.6,1045.0 964.2,1048.7 965.8,1052.3 967.4,1056.0 969.0,1059.7 970.6,1063.3 972.1,1067.0 973.7,1070.7 975.2,1074.4 976.7,1078.1 978.3,1081.8 979.8,1085.5 981.3,1089.2 982.9,1092.9 984.4,1096.6 986.0,1100.2 987.6,1103.9 989.2,1107.6 990.9,1111.2 992.6,1114.8 994.3,1118.4 996.0,1122.0 997.8,1125.6 999.7,1129.2 1001.6,1132.7 1003.5,1136.2 1005.4,1139.7 1007.3,1143.2 1009.3,1146.7 1011.3,1150.2 1013.2,1153.7 1015.2,1157.1 1017.2,1160.6 1019.1,1164.1 1021.0,1167.6 1022.9,1171.2 1024.8,1174.7 1026.6,1178.2 1028.4,1181.8 1030.2,1185.4 1031.9,1189.0 1033.6,1192.6 1035.3,1196.2 1037.0,1199.9 1038.7,1203.5 1040.4,1207.1 1042.1,1210.7 1043.9,1214.3 1045.6,1217.9 1047.4,1221.5 1049.2,1225.1 1051.1,1228.6 1053.0,1232.1 1055.0,1235.6 1057.0,1239.1 1059.1,1242.5 1061.2,1245.9 1063.4,1249.2 1065.6,1252.6 1067.8,1255.9 1070.1,1259.2 1072.4,1262.4 1074.8,1265.7 1077.1,1268.9 1079.5,1272.1 1081.9,1275.3 1084.3,1278.5 1086.7,1281.7 1089.2,1284.8 1091.6,1288.0 1094.1,1291.2 1096.5,1294.3 1099.0,1297.5 1101.5,1300.6 1104.0,1303.7 1106.5,1306.8 1109.0,1309.9 1111.6,1313.0 1114.1,1316.1 1116.7,1319.1 1119.3,1322.2 1121.9,1325.2 1124.6,1328.2 1127.2,1331.3 1129.8,1334.3 1132.4,1337.3 1135.0,1340.3 1137.6,1343.4 1140.2,1346.4 1142.8,1349.5 1145.4,1352.5 1148.0,1355.5 1150.6,1358.6 1153.2,1361.6 1155.8,1364.7 1158.4,1367.7 1161.0,1370.7 1163.6,1373.8 1166.2,1376.8 1168.8,1379.9 1171.4,1382.9 1174.0,1386.0 1176.5,1389.0 1179.1,1392.1 1181.6,1395.2 1184.1,1398.3 1186.6,1401.5 1189.1,1404.6 1191.6,1407.8 1194.0,1410.9 1196.4,1414.1 1198.8,1417.3 1201.2,1420.5 1203.6,1423.8 1206.0,1427.0 1208.3,1430.2 1210.7,1433.4 1213.1,1436.6 1215.5,1439.8 1217.9,1443.0 1220.3,1446.2 1222.7,1449.4 1225.1,1452.6 1227.6,1455.7 1230.1,1458.9 1232.6,1461.9 1235.2,1465.0 1237.8,1468.1 1240.4,1471.1 1243.1,1474.0 1245.9,1476.9 1248.7,1479.7 1251.6,1482.5 1254.5,1485.2 1257.5,1488.0 1260.4,1490.7 1263.4,1493.3 1266.4,1496.0 1269.4,1498.6 1272.4,1501.2 1275.5,1503.8 1278.6,1506.3 1281.7,1508.8 1284.9,1511.3 1288.1,1513.7 1291.3,1516.0 1294.6,1518.3 1298.0,1520.5 1301.4,1522.6 1304.8,1524.6 1308.4,1526.5 1311.9,1528.2 1315.6,1529.9 1319.2,1531.6 1322.9,1533.1 1326.6,1534.6 1330.3,1536.1 1334.1,1537.6 1337.8,1539.0 1341.5,1540.4 1345.3,1541.9 1349.0,1543.3 1352.7,1544.8 1356.4,1546.2 1360.2,1547.7 1363.9,1549.1 1367.6,1550.5 1371.4,1551.9 1375.1,1553.3 1378.9,1554.7 1382.7,1556.0 1386.4,1557.4 1390.2,1558.7 1394.0,1560.0 1397.8,1561.3 1401.6,1562.6 1405.4,1563.8 1409.2,1565.1 1413.0,1566.3 1416.8,1567.5 1420.6,1568.7 1424.4,1569.9 1428.2,1571.0 1432.1,1572.2 1435.9,1573.3 1439.8,1574.4 1443.6,1575.5 1447.4,1576.6 1451.3,1577.7 1455.2,1578.8 1459.0,1579.8 1462.9,1580.8 1466.8,1581.8 1470.6,1582.8 1474.5,1583.8 1478.4,1584.8 1482.3,1585.7 1486.2,1586.7 1490.0,1587.6 1493.9,1588.5 1497.8,1589.4 1501.7,1590.3 1505.6,1591.2 1509.5,1592.1 1513.5,1592.9 1517.4,1593.7 1521.3,1594.6 1525.2,1595.4 1529.1,1596.2 1533.0,1597.0 1537.0,1597.7 1540.9,1598.5 1544.8,1599.2 1548.8,1600.0 1552.7,1600.7 1556.6,1601.4 1560.6,1602.1 1564.5,1602.8 1568.4,1603.5 1572.4,1604.1 1576.3,1604.8 1580.3,1605.4 1584.2,1606.1 1588.2,1606.7 1592.1,1607.3 1596.1,1607.9 1600.0,1608.5 1604.0,1609.1 1608.0,1609.7 1611.9,1610.3 1615.9,1610.8 1619.8,1611.4 1623.8,1611.9 1627.8,1612.4 1631.7,1613.0 1635.7,1613.5 1639.7,1614.0 1643.6,1614.5 1647.6,1615.0 1651.6,1615.5 1655.6,1615.9 1659.5,1616.4 1663.5,1616.9 1667.5,1617.3 1671.4,1617.8 1675.4,1618.2 1679.4,1618.7 1683.4,1619.1 1687.4,1619.5 1691.3,1619.9 1695.3,1620.3 1699.3,1620.7 1703.3,1621.2 1707.2,1621.6 1711.2,1621.9 1715.2,1622.3 1719.2,1622.7 1723.2,1623.1 1727.2,1623.5 1731.1,1623.8 1735.1,1624.2 1739.1,1624.6 1743.1,1624.9 1747.1,1625.3 1751.1,1625.6 1755.0,1626.0 1759.0,1626.3 1763.0,1626.6 1767.0,1627.0 1771.0,1627.3 1775.0,1627.6 1779.0,1627.9 1783.0,1628.2 1786.9,1628.6 1790.9,1628.9 1794.9,1629.2 1798.9,1629.5 1802.9,1629.8 1806.9,1630.1 1810.9,1630.4 1814.9,1630.7 1818.8,1630.9 1822.8,1631.2 1826.8,1631.5 1830.8,1631.8 1834.8,1632.1 1838.8,1632.3 1842.8,1632.6 1846.8,1632.9 1850.8,1633.2 1854.8,1633.4 1858.8,1633.7 1862.7,1633.9 1866.7,1634.2 1870.7,1634.5 1874.7,1634.7 1878.7,1635.0 1882.7,1635.2 1886.7,1635.5 1890.7,1635.7 1894.7,1636.0 1898.7,1636.2 1902.7,1636.5 1906.7,1636.7 1910.7,1636.9 1914.6,1637.2 1918.6,1637.4 1922.6,1637.7 1926.6,1637.9 1930.6,1638.1 1934.6,1638.4 1938.6,1638.6 1942.6,1638.8 1946.6,1639.1 1950.6,1639.3 1954.6,1639.6 1958.6,1639.8 1962.6,1640.0 1966.6,1640.3 1970.5,1640.5 1974.5,1640.7 1978.5,1641.0 1982.5,1641.2 1986.5,1641.4 1990.5,1641.7 1994.5,1641.9 1998.5,1642.1 2002.5,1642.4 2006.5,1642.6 2010.5,1642.9 2014.5,1643.1 2018.5,1643.4 2022.5,1643.6 2026.4,1643.8 2030.4,1644.1 2034.4,1644.3 2038.4,1644.6 2042.4,1644.8 2046.4,1645.1 2050.4,1645.3 2054.4,1645.6 2058.4,1645.9 2062.4,1646.1 2066.4,1646.4 2070.4,1646.6 2074.3,1646.9 2078.3,1647.2 2082.3,1647.4 2086.3,1647.7 2090.3,1648.0 2094.3,1648.3 2098.3,1648.5 2102.3,1648.8 2106.3,1649.1 2110.3,1649.4 2114.3,1649.7 2118.2,1650.0 2122.2,1650.3 2126.2,1650.6 2130.2,1650.9 2134.2,1651.2 2138.2,1651.5 2142.2,1651.8 2146.2,1652.1 2150.1,1652.5 2154.1,1652.8 2158.1,1653.1 2162.1,1653.4 2166.1,1653.8 2170.1,1654.1 2174.1,1654.5 2178.0,1654.8 2182.0,1655.2 2186.0,1655.5 2190.0,1655.9 2194.0,1656.3 2198.0,1656.6 2201.9,1657.0 2205.9,1657.4 2209.9,1657.8 2213.9,1658.2 2217.9,1658.6 2221.9,1659.0 2225.8,1659.4 2227.2,1659.5"/>
<path stroke="#006AE0" d="M146.7,1667.9 150.7,1667.8 154.7,1667.7 158.7,1667.6 162.7,1667.4 166.7,1667.3 170.7,1667.2 174.7,1667.0 178.7,1666.9 182.7,1666.7 186.7,1666.5 190.7,1666.3 194.7,1666.0 198.7,1665.7 202.7,1665.5 206.6,1665.1 210.6,1664.8 214.6,1664.4 218.6,1664.0 222.6,1663.6 226.6,1663.2 230.5,1662.8 234.5,1662.4 238.5,1661.9 242.4,1661.3 246.4,1660.6 250.3,1659.8 254.2,1658.9 258.0,1657.8 261.8,1656.5 265.6,1655.1 269.3,1653.6 272.9,1651.9 276.5,1650.1 280.0,1648.2 283.4,1646.2 286.8,1644.0 290.2,1641.9 293.5,1639.6 296.8,1637.4 300.1,1635.1 303.3,1632.8 306.5,1630.3 309.6,1627.8 312.6,1625.1 315.3,1622.3 317.9,1619.2 320.3,1616.0 322.5,1612.6 324.6,1609.3 326.8,1605.9 328.9,1602.5 331.1,1599.2 333.3,1595.8 335.4,1592.4 337.3,1588.9 339.2,1585.4 340.9,1581.7 342.4,1578.0 343.7,1574.3 344.9,1570.4 346.0,1566.6 346.9,1562.7 347.8,1558.8 348.6,1554.9 349.4,1551.0 350.2,1547.0 351.0,1543.1 351.8,1539.2 352.5,1535.3 353.3,1531.3 354.0,1527.4 354.6,1523.4 355.3,1519.5 355.9,1515.5 356.5,1511.6 357.1,1507.6 357.7,1503.7 358.2,1499.7 358.8,1495.8 359.3,1491.8 359.8,1487.8 360.3,1483.8 360.8,1479.9 361.2,1475.9 361.7,1471.9 362.1,1468.0 362.5,1464.0 363.0,1460.0 363.4,1456.0 363.8,1452.0 364.2,1448.1 364.6,1444.1 364.9,1440.1 365.3,1436.1 365.7,1432.1 366.0,1428.1 366.3,1424.2 366.7,1420.2 367.0,1416.2 367.3,1412.2 367.6,1408.2 368.0,1404.2 368.3,1400.2 368.6,1396.2 368.9,1392.3 369.2,1388.3 369.5,1384.3 369.8,1380.3 370.1,1376.3 370.4,1372.3 370.7,1368.3 371.0,1364.3 371.3,1360.4 371.6,1356.4 371.9,1352.4 372.2,1348.4 372.6,1344.4 373.0,1340.4 373.3,1336.4 373.7,1332.5 374.1,1328.5 374.5,1324.5 374.8,1320.5 375.2,1316.5 375.6,1312.5 375.9,1308.6 376.2,1304.6 376.5,1300.6 376.8,1296.6 377.1,1292.6 377.3,1288.6 377.5,1284.6 377.7,1280.6 377.9,1276.6 378.1,1272.6 378.3,1268.6 378.5,1264.6 378.7,1260.6 378.9,1256.6 379.1,1252.6 379.3,1248.7 379.5,1244.7 379.7,1240.7 380.0,1236.7 380.2,1232.7 380.5,1228.7 380.7,1224.7 381.0,1220.7 381.2,1216.7 381.5,1212.7 381.7,1208.7 382.0,1204.7 382.3,1200.7 382.5,1196.8 382.8,1192.8 383.1,1188.8 383.4,1184.8 383.7,1180.8 384.0,1176.8 384.3,1172.8 384.5,1168.8 384.8,1164.8 385.1,1160.9 385.4,1156.9 385.7,1152.9 385.9,1148.9 386.2,1144.9 386.4,1140.9 386.7,1136.9 386.9,1132.9 387.1,1128.9 387.3,1124.9 387.4,1120.9 387.6,1116.9 387.8,1112.9 388.0,1108.9 388.1,1104.9 388.3,1100.9 388.5,1096.9 388.7,1092.9 388.8,1089.0 389.0,1085.0 389.3,1081.0 389.5,1077.0 389.7,1073.0 390.0,1069.0 390.2,1065.0 390.5,1061.0 390.7,1057.0 391.0,1053.0 391.3,1049.0 391.6,1045.0 391.8,1041.0 392.1,1037.1 392.4,1033.1 392.6,1029.1 392.9,1025.1 393.2,1021.1 393.4,1017.1 393.7,1013.1 394.0,1009.1 394.2,1005.1 394.4,1001.1 394.7,997.1 394.9,993.1 395.1,989.1 395.3,985.2 395.5,981.2 395.7,977.2 395.9,973.2 396.0,969.2 396.2,965.2 396.4,961.2 396.6,957.2 396.8,953.2 396.9,949.2 397.1,945.2 397.3,941.2 397.5,937.2 397.7,933.2 397.9,929.2 398.1,925.2 398.3,921.2 398.6,917.2 398.8,913.2 399.0,909.2 399.3,905.3 399.5,901.3 399.8,897.3 400.0,893.3 400.3,889.3 400.6,885.3 400.8,881.3 401.1,877.3 401.4,873.3 401.6,869.3 401.9,865.3 402.2,861.3 402.4,857.4 402.7,853.4 403.0,849.4 403.2,845.4 403.5,841.4 403.8,837.4 404.0,833.4 404.3,829.4 404.6,825.4 404.8,821.4 405.1,817.4 405.3,813.5 405.6,809.5 405.9,805.5 406.1,801.5 406.4,797.5 406.7,793.5 406.9,789.5 407.2,785.5 407.5,781.5 407.7,777.5 408.0,773.5 408.3,769.5 408.5,765.6 408.8,761.6 409.1,757.6 409.3,753.6 409.6,749.6 409.9,745.6 410.1,741.6 410.4,737.6 410.7,733.6 410.9,729.6 411.2,725.6 411.5,721.7 411.8,717.7 412.0,713.7 412.3,709.7 412.6,705.7 412.9,701.7 413.2,697.7 413.5,693.7 413.8,689.7 414.1,685.8 414.4,681.8 414.7,677.8 415.0,673.8 415.3,669.8 415.6,665.8 415.9,661.8 416.3,657.8 416.6,653.9 416.9,649.9 417.2,645.9 417.6,641.9 417.9,637.9 418.3,633.9 418.6,629.9 419.0,626.0 419.3,622.0 419.7,618.0 420.1,614.0 420.5,610.0 420.9,606.0 421.3,602.1 421.7,598.1 422.1,594.1 422.6,590.1 423.0,586.2 423.4,582.2 423.9,578.2 424.3,574.2 424.8,570.3 425.3,566.3 425.7,562.3 426.2,558.3 426.7,554.4 427.2,550.4 427.7,546.4 428.2,542.5 428.8,538.5 429.3,534.5 429.9,530.6 430.5,526.6 431.1,522.7 431.7,518.7 432.4,514.8 433.1,510.8 433.9,506.9 434.6,503.0 435.5,499.1 436.3,495.2 437.2,491.3 438.1,487.4 439.0,483.5 440.0,479.6 441.0,475.7 442.1,471.9 443.4,468.1 445.1,464.5 447.1,461.0 449.6,457.9 452.7,455.4 456.5,454.5 460.3,455.7 463.4,458.2 466.0,461.2 468.2,464.6 470.1,468.1 471.9,471.7 473.5,475.3 475.1,479.0 476.6,482.7 478.0,486.5 479.4,490.2 480.8,494.0 482.1,497.7 483.5,501.5 484.8,505.3 486.1,509.1 487.4,512.9 488.7,516.6 489.9,520.4 491.2,524.2 492.5,528.0 493.7,531.8 494.9,535.6 496.1,539.5 497.3,543.3 498.4,547.1 499.6,550.9 500.8,554.8 501.9,558.6 503.0,562.4 504.2,566.3 505.3,570.1 506.4,573.9 507.5,577.8 508.6,581.6 509.7,585.5 510.8,589.3 511.8,593.2 512.9,597.0 514.1,600.9 515.2,604.7 516.4,608.5 517.6,612.4 518.8,616.2 520.0,620.0 521.3,623.8 522.5,627.6 523.8,631.4 525.1,635.1 526.4,638.9 527.8,642.7 529.1,646.5 530.5,650.2 531.9,653.9 533.4,657.7 534.9,661.4 536.4,665.1 538.0,668.8 539.6,672.4 541.5,676.0 543.5,679.4 545.9,682.6 548.7,685.5 552.0,687.6 555.9,688.0 559.4,686.2 562.3,683.4 564.6,680.2 566.7,676.7 568.4,673.2 570.0,669.5 571.4,665.7 572.7,661.9 573.9,658.1 575.0,654.3 576.1,650.4 577.1,646.6 578.0,642.7 578.9,638.8 579.8,634.9 580.6,631.0 581.5,627.0 582.3,623.1 583.1,619.2 583.9,615.3 584.7,611.4 585.5,607.5 586.3,603.5 587.0,599.6 587.8,595.7 588.5,591.7 589.2,587.8 589.9,583.9 590.6,579.9 591.3,576.0 591.9,572.0 592.6,568.1 593.3,564.2 593.9,560.2 594.6,556.3 595.2,552.3 595.9,548.4 596.5,544.4 597.1,540.5 597.8,536.5 598.4,532.6 599.0,528.6 599.7,524.7 600.3,520.7 600.9,516.8 601.5,512.8 602.1,508.9 602.8,504.9 603.4,500.9 604.0,497.0 604.6,493.0 605.2,489.1 605.9,485.1 606.5,481.2 607.2,477.3 607.9,473.3 608.6,469.4 609.4,465.5 610.2,461.5 611.0,457.6 611.8,453.7 612.6,449.8 613.5,445.9 614.3,442.0 615.2,438.1 616.1,434.2 617.0,430.3 617.8,426.4 618.7,422.5 619.6,418.6 620.5,414.7 621.4,410.8 622.3,406.9 623.2,403.0 624.1,399.1 625.0,395.2 626.0,391.3 627.0,387.4 628.0,383.6 629.1,379.7 630.2,375.9 631.4,372.1 632.7,368.3 634.4,364.6 636.5,361.2 639.1,358.2 642.3,355.9 646.2,355.3 649.9,356.6 652.9,359.2 655.3,362.4 657.2,366.0 658.7,369.7 660.0,373.5 661.2,377.3 662.4,381.1 663.6,384.9 664.8,388.7 666.0,392.5 667.2,396.3 668.4,400.2 669.6,404.0 670.7,407.8 671.9,411.6 673.1,415.5 674.2,419.3 675.4,423.1 676.6,426.9 677.8,430.7 679.0,434.6 680.2,438.4 681.4,442.2 682.6,446.0 683.8,449.8 685.0,453.6 686.2,457.5 687.3,461.3 688.5,465.1 689.6,469.0 690.7,472.8 691.7,476.7 692.8,480.5 693.8,484.4 694.8,488.3 695.8,492.2 696.8,496.0 697.8,499.9 698.8,503.8 699.7,507.7 700.7,511.5 701.7,515.4 702.7,519.3 703.7,523.2 704.7,527.0 705.7,530.9 706.7,534.8 707.8,538.6 708.8,542.5 709.8,546.4 710.8,550.3 711.8,554.1 712.8,558.0 713.8,561.9 714.8,565.7 715.8,569.6 716.8,573.5 717.8,577.4 718.8,581.2 719.7,585.1 720.7,589.0 721.7,592.9 722.7,596.8 723.6,600.6 724.6,604.5 725.6,608.4 726.6,612.3 727.6,616.1 728.6,620.0 729.6,623.9 730.6,627.8 731.6,631.6 732.7,635.5 733.7,639.3 734.8,643.2 735.9,647.0 737.0,650.9 738.1,654.7 739.2,658.6 740.3,662.4 741.4,666.3 742.6,670.1 743.7,673.9 744.9,677.8 746.0,681.6 747.2,685.4 748.4,689.2 749.6,693.0 750.8,696.9 752.0,700.7 753.2,704.5 754.5,708.3 755.7,712.1 756.9,715.9 758.1,719.7 759.4,723.5 760.6,727.3 761.9,731.1 763.2,734.9 764.5,738.7 765.8,742.4 767.2,746.2 768.6,750.0 770.0,753.7 771.5,757.4 773.0,761.1 774.5,764.8 776.0,768.5 777.5,772.2 779.0,775.9 780.6,779.6 782.2,783.3 783.8,787.0 785.4,790.6 787.1,794.2 788.8,797.8 790.6,801.4 792.5,805.0 794.4,808.5 796.4,811.9 798.4,815.4 800.6,818.7 802.8,822.0 805.2,825.3 807.7,828.4 810.2,831.5 812.9,834.5 815.5,837.5 818.3,840.4 821.0,843.3 823.8,846.1 826.6,849.0 829.4,851.8 832.2,854.7 835.0,857.6 837.8,860.5 840.5,863.4 843.1,866.4 845.7,869.5 848.1,872.7 850.5,875.9 852.8,879.2 855.0,882.5 857.1,885.9 859.1,889.4 861.1,892.8 863.0,896.4 864.9,899.9 866.7,903.4 868.5,907.0 870.3,910.6 872.1,914.2 873.9,917.8 875.7,921.3 877.4,924.9 879.1,928.5 880.8,932.2 882.5,935.8 884.2,939.4 885.8,943.1 887.4,946.7 889.0,950.4 890.6,954.1 892.2,957.7 893.8,961.4 895.4,965.1 897.0,968.8 898.5,972.4 900.1,976.1 901.6,979.8 903.1,983.5 904.6,987.2 906.1,990.9 907.6,994.6 909.1,998.4 910.6,1002.1 912.1,1005.8 913.6,1009.5 915.1,1013.2 916.6,1016.9 918.2,1020.6 919.7,1024.3 921.3,1028.0 922.8,1031.7 924.4,1035.3 925.9,1039.0 927.5,1042.7 929.1,1046.4 930.6,1050.1 932.2,1053.7 933.9,1057.4 935.5,1061.0 937.1,1064.7 938.8,1068.3 940.5,1071.9 942.3,1075.5 944.1,1079.1 946.0,1082.6 947.9,1086.1 949.8,1089.6 951.8,1093.1 953.8,1096.6 955.7,1100.1 957.7,1103.6 959.6,1107.1 961.5,1110.6 963.3,1114.2 965.1,1117.7 966.9,1121.3 968.6,1124.9 970.3,1128.6 972.0,1132.2 973.7,1135.8 975.4,1139.4 977.1,1143.1 978.7,1146.7 980.4,1150.3 982.1,1153.9 983.8,1157.6 985.5,1161.2 987.3,1164.8 989.0,1168.4 990.8,1171.9 992.7,1175.5 994.5,1179.0 996.4,1182.6 998.3,1186.1 1000.3,1189.6 1002.3,1193.0 1004.3,1196.5 1006.3,1200.0 1008.3,1203.4 1010.4,1206.8 1012.5,1210.2 1014.6,1213.6 1016.7,1217.0 1018.8,1220.4 1021.0,1223.8 1023.2,1227.1 1025.4,1230.5 1027.6,1233.8 1029.9,1237.1 1032.2,1240.4 1034.5,1243.6 1036.8,1246.9 1039.2,1250.1 1041.6,1253.3 1043.9,1256.6 1046.3,1259.8 1048.6,1263.1 1050.9,1266.3 1053.1,1269.6 1055.4,1272.9 1057.6,1276.3 1059.8,1279.6 1062.0,1282.9 1064.2,1286.3 1066.5,1289.6 1068.8,1292.8 1071.1,1296.1 1073.5,1299.3 1076.0,1302.5 1078.4,1305.6 1080.9,1308.7 1083.4,1311.9 1086.0,1314.9 1088.5,1318.0 1091.1,1321.1 1093.7,1324.1 1096.3,1327.2 1098.9,1330.2 1101.5,1333.2 1104.2,1336.2 1106.8,1339.2 1109.5,1342.2 1112.1,1345.2 1114.8,1348.2 1117.5,1351.2 1120.2,1354.1 1122.9,1357.1 1125.6,1360.0 1128.3,1362.9 1131.1,1365.8 1133.8,1368.7 1136.6,1371.6 1139.4,1374.5 1142.1,1377.4 1144.9,1380.3 1147.7,1383.1 1150.5,1386.0 1153.2,1388.9 1156.0,1391.8 1158.7,1394.7 1161.4,1397.7 1164.1,1400.6 1166.8,1403.6 1169.5,1406.5 1172.2,1409.5 1174.8,1412.5 1177.5,1415.5 1180.1,1418.5 1182.7,1421.6 1185.4,1424.6 1188.0,1427.6 1190.6,1430.6 1193.2,1433.6 1195.9,1436.6 1198.5,1439.6 1201.2,1442.6 1203.9,1445.6 1206.5,1448.6 1209.2,1451.5 1212.0,1454.4 1214.7,1457.3 1217.5,1460.2 1220.4,1463.0 1223.2,1465.8 1226.1,1468.5 1229.1,1471.3 1232.0,1473.9 1235.0,1476.6 1238.0,1479.3 1241.0,1481.9 1244.0,1484.6 1247.0,1487.3 1249.9,1490.0 1252.9,1492.7 1255.8,1495.4 1258.7,1498.1 1261.6,1500.9 1264.5,1503.6 1267.4,1506.4 1270.3,1509.1 1273.3,1511.8 1276.2,1514.5 1279.2,1517.2 1282.2,1519.9 1285.2,1522.5 1288.2,1525.2 1291.2,1527.8 1294.4,1530.2 1297.6,1532.5 1301.1,1534.6 1304.6,1536.5 1308.2,1538.3 1311.8,1539.9 1315.5,1541.5 1319.2,1543.0 1322.9,1544.5 1326.6,1545.9 1330.4,1547.3 1334.1,1548.7 1337.9,1550.1 1341.6,1551.5 1345.4,1552.8 1349.1,1554.2 1352.9,1555.6 1356.7,1557.0 1360.4,1558.4 1364.2,1559.7 1367.9,1561.1 1371.7,1562.4 1375.5,1563.7 1379.3,1565.0 1383.1,1566.2 1386.9,1567.5 1390.7,1568.7 1394.5,1570.0 1398.3,1571.2 1402.1,1572.4 1405.9,1573.6 1409.8,1574.7 1413.6,1575.9 1417.4,1577.0 1421.3,1578.2 1425.1,1579.3 1429.0,1580.4 1432.8,1581.4 1436.7,1582.5 1440.5,1583.5 1444.4,1584.6 1448.3,1585.6 1452.1,1586.6 1456.0,1587.6 1459.9,1588.6 1463.8,1589.5 1467.6,1590.5 1471.5,1591.4 1475.4,1592.3 1479.3,1593.3 1483.2,1594.1 1487.1,1595.0 1491.0,1595.9 1494.9,1596.8 1498.9,1597.6 1502.8,1598.4 1506.7,1599.2 1510.6,1600.0 1514.5,1600.8 1518.4,1601.6 1522.4,1602.4 1526.3,1603.1 1530.2,1603.9 1534.2,1604.6 1538.1,1605.3 1542.0,1606.0 1546.0,1606.7 1549.9,1607.4 1553.9,1608.0 1557.8,1608.7 1561.8,1609.3 1565.7,1610.0 1569.7,1610.6 1573.6,1611.2 1577.6,1611.8 1581.5,1612.4 1585.5,1613.0 1589.4,1613.5 1593.4,1614.1 1597.4,1614.6 1601.3,1615.2 1605.3,1615.7 1609.3,1616.2 1613.2,1616.7 1617.2,1617.2 1621.2,1617.7 1625.1,1618.2 1629.1,1618.7 1633.1,1619.1 1637.1,1619.6 1641.0,1620.0 1645.0,1620.5 1649.0,1620.9 1653.0,1621.3 1656.9,1621.7 1660.9,1622.1 1664.9,1622.5 1668.9,1622.9 1672.9,1623.3 1676.8,1623.7 1680.8,1624.0 1684.8,1624.4 1688.8,1624.7 1692.8,1625.1 1696.8,1625.4 1700.8,1625.8 1704.7,1626.1 1708.7,1626.4 1712.7,1626.7 1716.7,1627.0 1720.7,1627.3 1724.7,1627.6 1728.7,1627.9 1732.7,1628.2 1736.6,1628.5 1740.6,1628.8 1744.6,1629.0 1748.6,1629.3 1752.6,1629.6 1756.6,1629.8 1760.6,1630.1 1764.6,1630.4 1768.6,1630.6 1772.6,1630.8 1776.6,1631.1 1780.6,1631.3 1784.6,1631.5 1788.5,1631.8 1792.5,1632.0 1796.5,1632.2 1800.5,1632.5 1804.5,1632.7 1808.5,1632.9 1812.5,1633.1 1816.5,1633.3 1820.5,1633.5 1824.5,1633.8 1828.5,1634.0 1832.5,1634.2 1836.5,1634.4 1840.5,1634.6 1844.5,1634.8 1848.5,1635.0 1852.5,1635.2 1856.4,1635.4 1860.4,1635.6 1864.4,1635.8 1868.4,1636.0 1872.4,1636.2 1876.4,1636.4 1880.4,1636.6 1884.4,1636.8 1888.4,1637.0 1892.4,1637.1 1896.4,1637.3 1900.4,1637.5 1904.4,1637.7 1908.4,1637.9 1912.4,1638.1 1916.4,1638.3 1920.4,1638.5 1924.4,1638.7 1928.4,1638.9 1932.4,1639.1 1936.4,1639.3 1940.4,1639.5 1944.3,1639.7 1948.3,1639.9 1952.3,1640.1 1956.3,1640.3 1960.3,1640.5 1964.3,1640.7 1968.3,1640.9 1972.3,1641.1 1976.3,1641.3 1980.3,1641.5 1984.3,1641.7 1988.3,1641.9 1992.3,1642.1 1996.3,1642.3 2000.3,1642.5 2004.3,1642.7 2008.3,1642.9 2012.3,1643.2 2016.2,1643.4 2020.2,1643.6 2024.2,1643.8 2028.2,1644.0 2032.2,1644.3 2036.2,1644.5 2040.2,1644.7 2044.2,1645.0 2048.2,1645.2 2052.2,1645.4 2056.2,1645.7 2060.2,1645.9 2064.2,1646.2 2068.2,1646.4 2072.2,1646.7 2076.1,1646.9 2080.1,1647.2 2084.1,1647.5 2088.1,1647.7 2092.1,1648.0 2096.1,1648.3 2100.1,1648.6 2104.1,1648.8 2108.1,1649.1 2112.1,1649.4 2116.0,1649.7 2120.0,1650.0 2124.0,1650.3 2128.0,1650.6 2132.0,1650.9 2136.0,1651.2 2140.0,1651.5 2144.0,1651.9 2148.0,1652.2 2151.9,1652.5 2155.9,1652.9 2159.9,1653.2 2163.9,1653.6 2167.9,1653.9 2171.9,1654.3 2175.8,1654.6 2179.8,1655.0 2183.8,1655.3 2187.8,1655.7 2191.8,1656.1 2195.8,1656.5 2199.7,1656.9 2203.7,1657.3 2207.7,1657.7 2211.7,1658.1 2215.7,1658.5 2219.6,1658.9 2223.6,1659.3 2227.6,1659.8 2228.0,1659.8"/>
<path stroke="#00AB64" d="M146.7,1668.0 150.7,1667.9 154.7,1667.8 158.7,1667.7 162.7,1667.6 166.7,1667.6 170.7,1667.5 174.7,1667.4 178.7,1667.3 182.7,1667.1 186.7,1667.0 190.7,1666.8 194.7,1666.6 198.7,1666.4 202.7,1666.2 206.7,1666.0 210.7,1665.7 214.7,1665.4 218.6,1665.0 222.6,1664.6 226.6,1664.2 230.6,1663.8 234.6,1663.4 238.5,1662.9 242.5,1662.3 246.4,1661.7 250.4,1660.9 254.3,1660.1 258.2,1659.2 262.0,1658.2 265.9,1657.1 269.7,1655.8 273.4,1654.3 277.0,1652.7 280.6,1650.9 284.2,1649.1 287.7,1647.1 291.1,1645.1 294.5,1643.0 297.9,1640.9 301.2,1638.7 304.5,1636.4 307.7,1634.0 310.9,1631.5 313.8,1628.8 316.6,1626.0 319.2,1622.9 321.6,1619.7 323.8,1616.4 325.9,1612.9 327.8,1609.4 329.5,1605.8 331.1,1602.2 332.8,1598.5 334.6,1594.9 336.6,1591.5 338.9,1588.2 341.4,1585.1 343.8,1581.9 345.8,1578.4 347.4,1574.8 348.6,1570.9 349.5,1567.1 350.4,1563.2 351.1,1559.2 351.8,1555.3 352.5,1551.3 353.1,1547.4 353.7,1543.4 354.4,1539.5 355.0,1535.5 355.6,1531.6 356.1,1527.6 356.6,1523.6 357.1,1519.7 357.5,1515.7 358.0,1511.7 358.4,1507.8 358.9,1503.8 359.3,1499.8 359.8,1495.8 360.3,1491.9 360.8,1487.9 361.3,1483.9 361.8,1480.0 362.3,1476.0 362.7,1472.0 363.2,1468.0 363.7,1464.1 364.1,1460.1 364.5,1456.1 365.0,1452.1 365.4,1448.2 365.8,1444.2 366.1,1440.2 366.5,1436.2 366.8,1432.2 367.2,1428.2 367.5,1424.2 367.8,1420.3 368.1,1416.3 368.4,1412.3 368.7,1408.3 369.1,1404.3 369.4,1400.3 369.7,1396.3 370.0,1392.3 370.3,1388.4 370.6,1384.4 370.9,1380.4 371.2,1376.4 371.5,1372.4 371.9,1368.4 372.2,1364.4 372.5,1360.4 372.8,1356.5 373.1,1352.5 373.4,1348.5 373.8,1344.5 374.1,1340.5 374.4,1336.5 374.8,1332.5 375.1,1328.6 375.5,1324.6 375.8,1320.6 376.2,1316.6 376.5,1312.6 376.8,1308.6 377.1,1304.6 377.4,1300.7 377.7,1296.7 378.0,1292.7 378.2,1288.7 378.5,1284.7 378.7,1280.7 378.9,1276.7 379.1,1272.7 379.4,1268.7 379.6,1264.7 379.8,1260.7 380.0,1256.7 380.2,1252.7 380.5,1248.7 380.7,1244.7 380.9,1240.8 381.2,1236.8 381.4,1232.8 381.6,1228.8 381.9,1224.8 382.1,1220.8 382.4,1216.8 382.6,1212.8 382.8,1208.8 383.1,1204.8 383.4,1200.8 383.6,1196.8 383.9,1192.8 384.2,1188.9 384.4,1184.9 384.7,1180.9 385.0,1176.9 385.3,1172.9 385.6,1168.9 385.8,1164.9 386.1,1160.9 386.4,1156.9 386.7,1152.9 387.0,1149.0 387.3,1145.0 387.5,1141.0 387.8,1137.0 388.1,1133.0 388.3,1129.0 388.6,1125.0 388.8,1121.0 389.1,1117.0 389.3,1113.0 389.6,1109.0 389.8,1105.0 390.1,1101.1 390.4,1097.1 390.6,1093.1 390.9,1089.1 391.2,1085.1 391.4,1081.1 391.7,1077.1 392.0,1073.1 392.3,1069.1 392.6,1065.1 392.9,1061.2 393.2,1057.2 393.5,1053.2 393.8,1049.2 394.1,1045.2 394.4,1041.2 394.7,1037.2 395.0,1033.2 395.3,1029.2 395.6,1025.3 395.9,1021.3 396.2,1017.3 396.5,1013.3 396.8,1009.3 397.1,1005.3 397.4,1001.3 397.7,997.3 398.0,993.3 398.3,989.4 398.5,985.4 398.8,981.4 399.1,977.4 399.4,973.4 399.7,969.4 399.9,965.4 400.2,961.4 400.5,957.4 400.8,953.4 401.0,949.5 401.3,945.5 401.6,941.5 401.9,937.5 402.1,933.5 402.4,929.5 402.7,925.5 403.0,921.5 403.3,917.5 403.6,913.5 403.8,909.5 404.1,905.6 404.4,901.6 404.6,897.6 404.9,893.6 405.2,889.6 405.4,885.6 405.7,881.6 406.0,877.6 406.3,873.6 406.5,869.6 406.8,865.7 407.1,861.7 407.5,857.7 407.8,853.7 408.1,849.7 408.5,845.7 408.8,841.7 409.2,837.8 409.6,833.8 410.0,829.8 410.4,825.8 410.8,821.8 411.3,817.9 411.7,813.9 412.2,809.9 412.6,805.9 413.1,802.0 413.5,798.0 414.0,794.0 414.5,790.0 415.0,786.1 415.5,782.1 416.0,778.1 416.5,774.2 417.1,770.2 417.6,766.2 418.2,762.3 418.8,758.3 419.4,754.4 420.0,750.4 420.6,746.5 421.3,742.5 422.0,738.6 422.8,734.7 423.5,730.7 424.4,726.8 425.3,722.9 426.1,719.0 427.1,715.1 428.1,711.3 429.2,707.4 430.6,703.7 432.3,700.1 434.4,696.7 437.1,693.7 440.6,691.9 444.5,692.1 448.0,694.0 451.1,696.6 453.7,699.5 456.1,702.8 458.2,706.1 460.2,709.6 462.0,713.2 463.8,716.8 465.5,720.4 467.1,724.1 468.6,727.7 470.2,731.4 471.8,735.1 473.5,738.7 475.2,742.3 477.1,745.9 478.9,749.4 480.8,752.9 482.8,756.4 484.9,759.8 487.0,763.2 489.2,766.6 491.4,769.9 493.8,773.1 496.3,776.2 498.8,779.3 501.4,782.4 504.0,785.4 506.6,788.4 509.2,791.5 511.8,794.5 514.4,797.5 517.1,800.5 519.9,803.4 522.9,806.0 526.1,808.4 529.5,810.6 533.1,812.3 536.9,813.3 540.9,813.3 544.7,812.0 548.0,809.8 550.9,807.1 553.6,804.1 556.2,801.0 558.5,797.8 560.5,794.3 562.3,790.7 563.7,787.0 564.9,783.2 565.9,779.3 566.7,775.4 567.4,771.5 568.1,767.5 568.7,763.6 569.4,759.6 570.0,755.7 570.7,751.7 571.4,747.8 572.1,743.9 572.8,739.9 573.5,736.0 574.1,732.0 574.8,728.1 575.5,724.1 576.2,720.2 576.8,716.3 577.6,712.3 578.3,708.4 579.1,704.5 579.9,700.6 580.8,696.7 581.8,692.8 582.8,688.9 583.9,685.1 585.0,681.2 586.1,677.4 587.1,673.5 588.2,669.6 589.1,665.8 590.0,661.9 590.8,657.9 591.6,654.0 592.3,650.1 592.9,646.1 593.5,642.2 594.0,638.2 594.6,634.2 595.1,630.3 595.6,626.3 596.2,622.4 596.7,618.4 597.3,614.4 597.9,610.5 598.6,606.5 599.2,602.6 599.9,598.6 600.5,594.7 601.2,590.7 601.9,586.8 602.6,582.9 603.3,578.9 604.0,575.0 604.8,571.1 605.6,567.2 606.4,563.2 607.2,559.3 608.1,555.4 609.0,551.5 609.9,547.6 610.8,543.7 611.8,539.8 612.7,536.0 613.7,532.1 614.7,528.2 615.7,524.3 616.8,520.5 617.8,516.6 618.9,512.8 619.9,508.9 621.0,505.0 622.1,501.2 623.4,497.4 624.7,493.6 626.2,489.9 628.0,486.4 630.3,483.1 633.2,480.4 636.9,478.9 640.8,478.8 644.6,480.3 647.7,482.8 650.1,485.9 652.2,489.3 654.0,492.9 655.7,496.5 657.3,500.2 658.8,503.9 660.3,507.6 661.8,511.3 663.2,515.1 664.6,518.8 665.9,522.6 667.3,526.4 668.6,530.1 669.9,533.9 671.1,537.7 672.4,541.5 673.7,545.3 674.9,549.1 676.2,552.9 677.4,556.7 678.7,560.5 680.0,564.3 681.2,568.1 682.5,571.9 683.8,575.6 685.1,579.4 686.4,583.2 687.7,587.0 688.9,590.8 690.2,594.6 691.5,598.4 692.8,602.2 694.1,606.0 695.4,609.7 696.7,613.5 698.0,617.3 699.3,621.1 700.6,624.9 701.9,628.6 703.3,632.4 704.6,636.2 706.0,639.9 707.4,643.7 708.7,647.4 710.1,651.2 711.5,654.9 712.9,658.7 714.4,662.4 715.8,666.2 717.2,669.9 718.7,673.6 720.1,677.3 721.6,681.1 723.1,684.8 724.6,688.5 726.1,692.2 727.7,695.9 729.2,699.6 730.8,703.2 732.3,706.9 733.9,710.6 735.4,714.3 737.0,718.0 738.5,721.7 740.1,725.3 741.7,729.0 743.3,732.7 745.0,736.3 746.7,739.9 748.4,743.5 750.2,747.1 752.0,750.7 753.9,754.2 755.8,757.7 757.8,761.2 759.8,764.7 761.8,768.1 764.0,771.5 766.1,774.9 768.3,778.2 770.5,781.6 772.7,784.9 775.0,788.2 777.2,791.5 779.5,794.7 781.9,798.0 784.2,801.2 786.6,804.5 789.0,807.7 791.4,810.9 793.8,814.0 796.3,817.2 798.8,820.3 801.4,823.4 804.0,826.4 806.7,829.3 809.5,832.2 812.4,834.9 815.3,837.7 818.3,840.3 821.4,842.9 824.5,845.4 827.6,847.9 830.8,850.4 833.9,852.9 837.0,855.4 840.0,858.0 843.0,860.7 845.9,863.4 848.7,866.3 851.4,869.3 853.9,872.3 856.4,875.5 858.8,878.7 861.1,881.9 863.4,885.2 865.6,888.6 867.7,892.0 869.8,895.4 871.9,898.8 874.0,902.2 876.0,905.7 878.0,909.1 880.0,912.6 882.0,916.1 883.9,919.6 885.8,923.1 887.6,926.6 889.4,930.2 891.2,933.8 893.0,937.4 894.7,941.0 896.5,944.6 898.2,948.2 899.9,951.8 901.6,955.4 903.3,959.0 905.1,962.6 906.8,966.2 908.5,969.8 910.3,973.5 912.0,977.1 913.7,980.7 915.4,984.3 917.1,987.9 918.8,991.5 920.5,995.2 922.2,998.8 923.8,1002.4 925.5,1006.1 927.1,1009.8 928.6,1013.4 930.2,1017.1 931.7,1020.8 933.2,1024.5 934.8,1028.2 936.3,1031.9 937.8,1035.6 939.4,1039.3 940.9,1043.0 942.5,1046.6 944.2,1050.3 945.8,1053.9 947.6,1057.5 949.3,1061.1 951.2,1064.7 953.1,1068.2 955.0,1071.7 957.0,1075.2 959.0,1078.6 961.0,1082.1 963.1,1085.5 965.1,1088.9 967.2,1092.3 969.3,1095.7 971.5,1099.1 973.6,1102.5 975.7,1105.9 977.8,1109.3 979.9,1112.7 982.1,1116.1 984.2,1119.5 986.2,1122.9 988.3,1126.3 990.4,1129.8 992.4,1133.2 994.5,1136.6 996.6,1140.0 998.6,1143.5 1000.7,1146.9 1002.8,1150.3 1004.8,1153.7 1006.9,1157.2 1009.0,1160.6 1011.0,1164.0 1013.1,1167.4 1015.1,1170.9 1017.2,1174.3 1019.2,1177.8 1021.3,1181.2 1023.3,1184.6 1025.3,1188.1 1027.3,1191.6 1029.3,1195.1 1031.2,1198.6 1033.1,1202.1 1035.0,1205.6 1036.9,1209.1 1038.8,1212.7 1040.7,1216.2 1042.6,1219.7 1044.6,1223.2 1046.6,1226.6 1048.6,1230.0 1050.8,1233.4 1052.9,1236.8 1055.2,1240.1 1057.4,1243.4 1059.8,1246.7 1062.1,1249.9 1064.5,1253.1 1067.0,1256.2 1069.5,1259.4 1071.9,1262.5 1074.5,1265.6 1077.0,1268.7 1079.6,1271.8 1082.1,1274.9 1084.7,1277.9 1087.3,1281.0 1089.9,1284.0 1092.5,1287.0 1095.1,1290.1 1097.7,1293.1 1100.4,1296.1 1103.0,1299.1 1105.6,1302.2 1108.2,1305.2 1110.9,1308.1 1113.6,1311.1 1116.3,1314.1 1119.0,1317.0 1121.7,1320.0 1124.4,1322.9 1127.2,1325.8 1129.9,1328.7 1132.6,1331.6 1135.4,1334.6 1138.1,1337.5 1140.8,1340.4 1143.5,1343.4 1146.2,1346.3 1148.9,1349.3 1151.5,1352.3 1154.2,1355.3 1156.8,1358.3 1159.4,1361.3 1162.0,1364.4 1164.6,1367.4 1167.2,1370.5 1169.8,1373.5 1172.4,1376.5 1175.0,1379.6 1177.6,1382.6 1180.2,1385.7 1182.8,1388.7 1185.4,1391.8 1188.0,1394.8 1190.6,1397.8 1193.2,1400.8 1195.8,1403.9 1198.5,1406.9 1201.1,1409.9 1203.7,1413.0 1206.2,1416.0 1208.8,1419.1 1211.4,1422.1 1214.0,1425.2 1216.6,1428.2 1219.3,1431.2 1221.9,1434.2 1224.5,1437.3 1227.2,1440.3 1229.8,1443.2 1232.5,1446.2 1235.2,1449.2 1237.9,1452.1 1240.7,1455.0 1243.5,1457.9 1246.2,1460.7 1249.1,1463.6 1251.9,1466.4 1254.7,1469.3 1257.5,1472.1 1260.3,1474.9 1263.2,1477.7 1266.0,1480.5 1268.9,1483.3 1271.8,1486.1 1274.8,1488.8 1277.7,1491.5 1280.7,1494.1 1283.8,1496.7 1286.8,1499.3 1290.0,1501.8 1293.1,1504.2 1296.4,1506.5 1299.7,1508.8 1303.0,1511.0 1306.5,1513.0 1309.9,1515.0 1313.5,1516.9 1317.1,1518.6 1320.7,1520.3 1324.3,1522.0 1328.0,1523.6 1331.7,1525.1 1335.4,1526.6 1339.1,1528.1 1342.8,1529.7 1346.5,1531.2 1350.2,1532.8 1353.9,1534.3 1357.6,1535.9 1361.2,1537.4 1364.9,1538.9 1368.6,1540.5 1372.4,1541.9 1376.1,1543.4 1379.8,1544.9 1383.5,1546.3 1387.3,1547.7 1391.0,1549.2 1394.8,1550.6 1398.5,1551.9 1402.3,1553.3 1406.0,1554.6 1409.8,1556.0 1413.6,1557.3 1417.4,1558.6 1421.2,1559.8 1425.0,1561.1 1428.8,1562.4 1432.6,1563.6 1436.4,1564.8 1440.2,1566.0 1444.0,1567.2 1447.8,1568.3 1451.7,1569.5 1455.5,1570.6 1459.4,1571.8 1463.2,1572.9 1467.0,1573.9 1470.9,1575.0 1474.8,1576.1 1478.6,1577.1 1482.5,1578.1 1486.4,1579.2 1490.2,1580.2 1494.1,1581.1 1498.0,1582.1 1501.9,1583.1 1505.8,1584.0 1509.6,1584.9 1513.5,1585.9 1517.4,1586.8 1521.3,1587.6 1525.2,1588.5 1529.2,1589.4 1533.1,1590.2 1537.0,1591.0 1540.9,1591.9 1544.8,1592.7 1548.7,1593.5 1552.7,1594.2 1556.6,1595.0 1560.5,1595.8 1564.4,1596.5 1568.4,1597.2 1572.3,1598.0 1576.2,1598.7 1580.2,1599.4 1584.1,1600.0 1588.1,1600.7 1592.0,1601.4 1596.0,1602.0 1599.9,1602.7 1603.9,1603.3 1607.8,1603.9 1611.8,1604.5 1615.7,1605.1 1619.7,1605.7 1623.6,1606.3 1627.6,1606.9 1631.5,1607.4 1635.5,1608.0 1639.5,1608.5 1643.4,1609.1 1647.4,1609.6 1651.4,1610.1 1655.3,1610.6 1659.3,1611.1 1663.3,1611.6 1667.2,1612.1 1671.2,1612.6 1675.2,1613.1 1679.2,1613.5 1683.1,1614.0 1687.1,1614.4 1691.1,1614.9 1695.1,1615.3 1699.0,1615.7 1703.0,1616.2 1707.0,1616.6 1711.0,1617.0 1714.9,1617.4 1718.9,1617.8 1722.9,1618.2 1726.9,1618.6 1730.9,1619.0 1734.9,1619.4 1738.8,1619.7 1742.8,1620.1 1746.8,1620.5 1750.8,1620.8 1754.8,1621.2 1758.8,1621.5 1762.7,1621.9 1766.7,1622.2 1770.7,1622.6 1774.7,1622.9 1778.7,1623.2 1782.7,1623.6 1786.7,1623.9 1790.6,1624.2 1794.6,1624.5 1798.6,1624.8 1802.6,1625.1 1806.6,1625.5 1810.6,1625.8 1814.6,1626.0 1818.6,1626.3 1822.5,1626.6 1826.5,1626.9 1830.5,1627.2 1834.5,1627.5 1838.5,1627.8 1842.5,1628.0 1846.5,1628.3 1850.5,1628.6 1854.5,1628.9 1858.5,1629.1 1862.5,1629.4 1866.4,1629.7 1870.4,1629.9 1874.4,1630.2 1878.4,1630.5 1882.4,1630.7 1886.4,1631.0 1890.4,1631.2 1894.4,1631.5 1898.4,1631.7 1902.4,1632.0 1906.4,1632.2 1910.4,1632.5 1914.3,1632.7 1918.3,1633.0 1922.3,1633.2 1926.3,1633.5 1930.3,1633.7 1934.3,1634.0 1938.3,1634.2 1942.3,1634.5 1946.3,1634.7 1950.3,1635.0 1954.3,1635.2 1958.3,1635.5 1962.3,1635.7 1966.2,1636.0 1970.2,1636.2 1974.2,1636.5 1978.2,1636.7 1982.2,1637.0 1986.2,1637.2 1990.2,1637.5 1994.2,1637.7 1998.2,1638.0 2002.2,1638.2 2006.2,1638.5 2010.2,1638.8 2014.1,1639.0 2018.1,1639.3 2022.1,1639.6 2026.1,1639.8 2030.1,1640.1 2034.1,1640.4 2038.1,1640.6 2042.1,1640.9 2046.1,1641.2 2050.1,1641.5 2054.1,1641.8 2058.0,1642.1 2062.0,1642.4 2066.0,1642.7 2070.0,1643.0 2074.0,1643.3 2078.0,1643.6 2082.0,1643.9 2086.0,1644.2 2090.0,1644.5 2093.9,1644.8 2097.9,1645.1 2101.9,1645.5 2105.9,1645.8 2109.9,1646.1 2113.9,1646.5 2117.9,1646.8 2121.8,1647.2 2125.8,1647.5 2129.8,1647.9 2133.8,1648.2 2137.8,1648.6 2141.8,1649.0 2145.7,1649.4 2149.7,1649.7 2153.7,1650.1 2157.7,1650.5 2161.7,1650.9 2165.6,1651.3 2169.6,1651.7 2173.6,1652.2 2177.6,1652.6 2181.6,1653.0 2185.5,1653.4 2189.5,1653.9 2193.5,1654.3 2197.5,1654.8 2201.4,1655.2 2205.4,1655.7 2209.4,1656.1 2213.3,1656.6 2217.3,1657.1 2221.3,1657.6 2225.3,1658.1 2229.0,1658.6"/>
<path stroke="#C077E0" d="M146.7,1668.0 150.7,1667.9 154.7,1667.8 158.7,1667.7 162.7,1667.6 166.7,1667.5 170.7,1667.4 174.7,1667.4 178.7,1667.2 182.7,1667.1 186.7,1667.0 190.7,1666.9 194.7,1666.7 198.7,1666.6 202.7,1666.5 206.7,1666.3 210.7,1666.1 214.7,1665.8 218.7,1665.5 222.7,1665.1 226.6,1664.7 230.6,1664.3 234.6,1663.9 238.5,1663.3 242.5,1662.8 246.5,1662.2 250.4,1661.5 254.3,1660.7 258.2,1659.8 262.1,1658.9 266.0,1657.8 269.8,1656.6 273.6,1655.3 277.3,1653.8 280.9,1652.2 284.5,1650.4 288.1,1648.6 291.6,1646.7 295.1,1644.8 298.6,1642.8 302.0,1640.8 305.4,1638.6 308.7,1636.4 311.9,1634.0 315.0,1631.4 317.8,1628.6 320.4,1625.6 322.9,1622.4 325.1,1619.1 327.2,1615.7 329.2,1612.2 331.1,1608.7 332.9,1605.1 334.7,1601.5 336.6,1598.0 338.7,1594.6 340.9,1591.3 343.1,1587.9 345.1,1584.5 346.9,1580.9 348.4,1577.2 349.5,1573.4 350.5,1569.5 351.3,1565.6 352.1,1561.6 352.7,1557.7 353.4,1553.7 354.0,1549.8 354.6,1545.8 355.2,1541.9 355.9,1537.9 356.5,1534.0 357.2,1530.0 357.8,1526.1 358.4,1522.1 359.0,1518.2 359.6,1514.2 360.1,1510.3 360.7,1506.3 361.2,1502.3 361.7,1498.4 362.1,1494.4 362.6,1490.4 363.0,1486.4 363.4,1482.4 363.7,1478.5 364.1,1474.5 364.4,1470.5 364.8,1466.5 365.1,1462.5 365.5,1458.5 365.9,1454.6 366.3,1450.6 366.6,1446.6 367.0,1442.6 367.4,1438.6 367.9,1434.7 368.3,1430.7 368.7,1426.7 369.1,1422.7 369.5,1418.7 369.9,1414.8 370.3,1410.8 370.7,1406.8 371.0,1402.8 371.4,1398.8 371.7,1394.9 372.1,1390.9 372.4,1386.9 372.7,1382.9 373.0,1378.9 373.4,1374.9 373.7,1370.9 374.0,1366.9 374.3,1363.0 374.6,1359.0 374.9,1355.0 375.2,1351.0 375.6,1347.0 375.9,1343.0 376.2,1339.0 376.6,1335.0 376.9,1331.1 377.2,1327.1 377.6,1323.1 377.9,1319.1 378.3,1315.1 378.6,1311.1 378.9,1307.1 379.2,1303.2 379.6,1299.2 379.9,1295.2 380.2,1291.2 380.5,1287.2 380.8,1283.2 381.1,1279.2 381.4,1275.2 381.7,1271.3 382.0,1267.3 382.3,1263.3 382.6,1259.3 382.9,1255.3 383.2,1251.3 383.5,1247.3 383.7,1243.3 384.0,1239.3 384.2,1235.3 384.5,1231.4 384.7,1227.4 385.0,1223.4 385.2,1219.4 385.5,1215.4 385.7,1211.4 386.0,1207.4 386.3,1203.4 386.6,1199.4 386.9,1195.4 387.2,1191.4 387.5,1187.5 387.8,1183.5 388.2,1179.5 388.5,1175.5 388.9,1171.5 389.2,1167.5 389.6,1163.5 389.9,1159.6 390.2,1155.6 390.6,1151.6 390.9,1147.6 391.2,1143.6 391.5,1139.6 391.8,1135.6 392.1,1131.6 392.4,1127.7 392.6,1123.7 392.9,1119.7 393.1,1115.7 393.4,1111.7 393.6,1107.7 393.9,1103.7 394.1,1099.7 394.4,1095.7 394.7,1091.7 394.9,1087.7 395.2,1083.7 395.5,1079.8 395.8,1075.8 396.2,1071.8 396.5,1067.8 396.8,1063.8 397.2,1059.8 397.5,1055.8 397.9,1051.9 398.2,1047.9 398.6,1043.9 398.9,1039.9 399.3,1035.9 399.6,1031.9 400.0,1028.0 400.4,1024.0 400.7,1020.0 401.1,1016.0 401.4,1012.0 401.8,1008.0 402.1,1004.0 402.5,1000.1 402.8,996.1 403.2,992.1 403.5,988.1 403.8,984.1 404.1,980.1 404.4,976.1 404.7,972.2 405.0,968.2 405.3,964.2 405.6,960.2 406.0,956.2 406.3,952.2 406.6,948.2 407.0,944.2 407.4,940.3 407.7,936.3 408.1,932.3 408.6,928.3 409.0,924.3 409.5,920.4 409.9,916.4 410.4,912.4 410.9,908.5 411.5,904.5 412.0,900.5 412.5,896.6 413.0,892.6 413.6,888.6 414.1,884.7 414.7,880.7 415.3,876.8 415.9,872.8 416.5,868.9 417.1,864.9 417.8,861.0 418.5,857.0 419.2,853.1 420.0,849.2 420.8,845.3 421.7,841.4 422.7,837.5 423.8,833.6 425.1,829.8 426.7,826.2 428.7,822.7 431.3,819.7 434.8,818.0 438.7,818.5 441.9,820.9 444.4,824.0 446.3,827.5 448.0,831.1 449.6,834.8 451.4,838.4 453.3,841.9 455.4,845.3 457.6,848.7 459.8,852.0 462.1,855.2 464.5,858.5 466.8,861.7 469.2,864.9 471.6,868.2 473.9,871.4 476.3,874.6 478.7,877.8 481.3,880.8 484.1,883.8 487.0,886.5 490.1,889.0 493.4,891.2 496.9,893.2 500.5,894.8 504.4,896.0 508.3,896.8 512.3,897.2 516.3,897.2 520.2,896.9 524.2,896.3 528.1,895.3 531.8,894.0 535.4,892.2 538.8,890.1 541.9,887.5 544.6,884.6 547.0,881.4 549.2,878.1 551.2,874.6 553.1,871.1 554.9,867.5 556.6,863.9 558.2,860.2 559.6,856.5 561.0,852.7 562.3,848.9 563.5,845.1 564.6,841.3 565.6,837.4 566.6,833.5 567.6,829.6 568.5,825.8 569.4,821.9 570.2,818.0 571.1,814.1 572.0,810.2 573.0,806.3 574.1,802.4 575.2,798.6 576.2,794.7 577.2,790.8 578.0,786.9 578.8,783.0 579.5,779.1 580.1,775.1 580.7,771.1 581.2,767.2 581.8,763.2 582.4,759.3 583.0,755.3 583.5,751.4 584.1,747.4 584.7,743.4 585.2,739.5 585.7,735.5 586.3,731.5 586.8,727.6 587.4,723.6 587.9,719.7 588.5,715.7 589.1,711.7 589.7,707.8 590.4,703.8 591.1,699.9 591.8,696.0 592.5,692.0 593.3,688.1 594.1,684.2 595.0,680.3 595.8,676.4 596.7,672.5 597.6,668.6 598.4,664.7 599.2,660.7 600.0,656.8 600.8,652.9 601.6,649.0 602.4,645.1 603.2,641.1 603.9,637.2 604.7,633.3 605.5,629.4 606.3,625.4 607.1,621.5 607.9,617.6 608.8,613.7 609.7,609.8 610.6,605.9 611.5,602.0 612.4,598.1 613.4,594.2 614.4,590.4 615.4,586.5 616.4,582.6 617.5,578.8 618.6,574.9 619.7,571.1 620.8,567.2 621.9,563.4 623.1,559.6 624.4,555.8 626.1,552.2 628.1,548.7 630.6,545.6 633.7,543.1 637.4,541.6 641.4,541.7 645.0,543.3 648.1,545.9 650.6,548.9 652.8,552.3 654.8,555.8 656.6,559.3 658.4,562.9 660.0,566.5 661.7,570.2 663.3,573.9 664.8,577.5 666.4,581.2 667.9,584.9 669.5,588.6 671.0,592.3 672.5,596.0 674.0,599.7 675.6,603.4 677.1,607.1 678.5,610.8 680.0,614.6 681.5,618.3 683.0,622.0 684.5,625.7 686.0,629.4 687.5,633.1 689.1,636.8 690.7,640.4 692.3,644.1 694.0,647.7 695.7,651.4 697.3,655.0 699.0,658.6 700.7,662.2 702.4,665.9 704.2,669.5 705.9,673.1 707.7,676.7 709.5,680.2 711.3,683.8 713.1,687.3 715.0,690.9 716.9,694.4 718.8,697.9 720.8,701.4 722.8,704.9 724.8,708.3 726.7,711.8 728.8,715.3 730.8,718.7 732.8,722.2 734.9,725.6 737.0,729.0 739.1,732.4 741.2,735.8 743.4,739.1 745.7,742.4 748.0,745.7 750.3,748.9 752.7,752.1 755.2,755.3 757.8,758.3 760.4,761.3 763.1,764.3 765.9,767.1 768.8,769.9 771.8,772.6 774.8,775.2 777.8,777.8 780.9,780.4 784.0,782.9 787.2,785.3 790.4,787.7 793.6,790.2 796.8,792.6 800.0,794.9 803.2,797.3 806.5,799.6 809.8,801.9 813.1,804.1 816.5,806.3 819.8,808.4 823.2,810.6 826.6,812.7 829.9,814.9 833.3,817.1 836.5,819.4 839.8,821.7 843.0,824.2 846.1,826.7 849.1,829.3 852.0,832.0 854.9,834.8 857.7,837.6 860.5,840.5 863.2,843.4 865.9,846.4 868.5,849.4 871.1,852.5 873.5,855.7 875.9,858.9 878.2,862.2 880.4,865.5 882.6,868.9 884.7,872.3 886.8,875.7 888.8,879.2 890.7,882.6 892.7,886.1 894.6,889.7 896.4,893.2 898.3,896.7 900.1,900.3 901.9,903.9 903.6,907.5 905.4,911.1 907.0,914.7 908.6,918.4 910.3,922.0 911.8,925.7 913.4,929.4 915.0,933.1 916.5,936.8 918.1,940.4 919.6,944.1 921.2,947.8 922.7,951.5 924.3,955.2 925.8,958.9 927.3,962.6 928.8,966.3 930.3,970.0 931.8,973.7 933.3,977.4 934.9,981.1 936.4,984.8 937.9,988.5 939.5,992.2 941.0,995.9 942.5,999.6 944.0,1003.3 945.5,1007.0 947.1,1010.7 948.6,1014.4 950.1,1018.1 951.7,1021.8 953.3,1025.4 954.9,1029.1 956.6,1032.7 958.3,1036.4 960.0,1040.0 961.8,1043.5 963.6,1047.1 965.4,1050.7 967.3,1054.2 969.2,1057.7 971.1,1061.2 973.0,1064.7 975.0,1068.2 977.0,1071.7 979.0,1075.1 981.1,1078.6 983.2,1082.0 985.3,1085.4 987.4,1088.8 989.5,1092.2 991.7,1095.5 993.9,1098.9 996.1,1102.2 998.4,1105.5 1000.7,1108.8 1003.0,1112.0 1005.3,1115.3 1007.7,1118.5 1010.1,1121.7 1012.5,1124.9 1014.9,1128.1 1017.4,1131.2 1020.0,1134.3 1022.6,1137.3 1025.2,1140.3 1027.8,1143.4 1030.5,1146.4 1033.1,1149.4 1035.7,1152.4 1038.3,1155.4 1040.9,1158.5 1043.4,1161.6 1045.9,1164.7 1048.4,1167.9 1050.7,1171.1 1053.0,1174.4 1055.3,1177.7 1057.5,1181.0 1059.6,1184.4 1061.8,1187.8 1063.9,1191.2 1066.0,1194.6 1068.0,1198.0 1070.1,1201.4 1072.2,1204.8 1074.3,1208.2 1076.5,1211.6 1078.6,1215.0 1080.9,1218.3 1083.2,1221.5 1085.6,1224.8 1088.0,1227.9 1090.5,1231.0 1093.1,1234.1 1095.7,1237.2 1098.2,1240.3 1100.8,1243.3 1103.4,1246.4 1106.0,1249.4 1108.6,1252.4 1111.2,1255.5 1113.8,1258.5 1116.4,1261.5 1119.1,1264.5 1121.7,1267.6 1124.3,1270.6 1126.9,1273.6 1129.5,1276.6 1132.1,1279.7 1134.7,1282.7 1137.3,1285.8 1139.9,1288.8 1142.5,1291.9 1145.1,1294.9 1147.6,1298.0 1150.2,1301.1 1152.7,1304.2 1155.2,1307.3 1157.8,1310.4 1160.3,1313.5 1162.8,1316.6 1165.3,1319.7 1167.8,1322.8 1170.3,1325.9 1172.8,1329.1 1175.3,1332.2 1177.8,1335.3 1180.3,1338.4 1182.8,1341.6 1185.3,1344.7 1187.8,1347.8 1190.3,1351.0 1192.8,1354.1 1195.2,1357.2 1197.7,1360.4 1200.2,1363.5 1202.7,1366.7 1205.2,1369.8 1207.6,1372.9 1210.1,1376.1 1212.6,1379.2 1215.0,1382.4 1217.5,1385.6 1219.9,1388.7 1222.3,1391.9 1224.7,1395.1 1227.1,1398.4 1229.4,1401.6 1231.6,1404.9 1233.8,1408.3 1235.9,1411.7 1238.0,1415.1 1240.2,1418.5 1242.4,1421.8 1244.7,1425.1 1247.1,1428.3 1249.6,1431.4 1252.2,1434.4 1254.9,1437.4 1257.7,1440.3 1260.4,1443.1 1263.3,1446.0 1266.1,1448.7 1269.0,1451.5 1272.0,1454.2 1274.9,1456.9 1277.9,1459.5 1281.0,1462.2 1284.0,1464.7 1287.1,1467.3 1290.3,1469.8 1293.4,1472.2 1296.6,1474.6 1299.9,1476.9 1303.2,1479.2 1306.5,1481.4 1309.9,1483.5 1313.3,1485.6 1316.8,1487.5 1320.3,1489.5 1323.9,1491.3 1327.4,1493.2 1331.0,1494.9 1334.6,1496.7 1338.2,1498.5 1341.8,1500.2 1345.4,1502.0 1348.9,1503.8 1352.5,1505.6 1356.1,1507.3 1359.7,1509.1 1363.3,1510.8 1366.9,1512.6 1370.5,1514.3 1374.1,1516.0 1377.8,1517.7 1381.4,1519.3 1385.1,1521.0 1388.7,1522.6 1392.4,1524.2 1396.0,1525.8 1399.7,1527.4 1403.4,1529.0 1407.1,1530.5 1410.8,1532.0 1414.5,1533.6 1418.2,1535.1 1421.9,1536.5 1425.6,1538.0 1429.3,1539.5 1433.1,1540.9 1436.8,1542.3 1440.6,1543.7 1444.3,1545.1 1448.1,1546.5 1451.8,1547.8 1455.6,1549.2 1459.4,1550.5 1463.2,1551.8 1466.9,1553.1 1470.7,1554.4 1474.5,1555.6 1478.3,1556.9 1482.1,1558.1 1485.9,1559.3 1489.8,1560.5 1493.6,1561.7 1497.4,1562.9 1501.2,1564.0 1505.1,1565.2 1508.9,1566.3 1512.8,1567.4 1516.6,1568.5 1520.5,1569.6 1524.3,1570.6 1528.2,1571.7 1532.0,1572.7 1535.9,1573.8 1539.8,1574.8 1543.6,1575.8 1547.5,1576.7 1551.4,1577.7 1555.3,1578.7 1559.2,1579.6 1563.1,1580.5 1567.0,1581.4 1570.9,1582.3 1574.8,1583.2 1578.7,1584.1 1582.6,1585.0 1586.5,1585.8 1590.4,1586.6 1594.3,1587.5 1598.2,1588.3 1602.1,1589.1 1606.1,1589.9 1610.0,1590.7 1613.9,1591.4 1617.8,1592.2 1621.8,1592.9 1625.7,1593.6 1629.6,1594.4 1633.6,1595.1 1637.5,1595.8 1641.5,1596.5 1645.4,1597.1 1649.3,1597.8 1653.3,1598.5 1657.2,1599.1 1661.2,1599.8 1665.1,1600.4 1669.1,1601.0 1673.0,1601.6 1677.0,1602.2 1680.9,1602.8 1684.9,1603.4 1688.9,1604.0 1692.8,1604.5 1696.8,1605.1 1700.7,1605.7 1704.7,1606.2 1708.7,1606.8 1712.6,1607.3 1716.6,1607.8 1720.6,1608.3 1724.5,1608.8 1728.5,1609.3 1732.5,1609.8 1736.4,1610.3 1740.4,1610.8 1744.4,1611.3 1748.4,1611.8 1752.3,1612.2 1756.3,1612.7 1760.3,1613.2 1764.2,1613.6 1768.2,1614.1 1772.2,1614.5 1776.2,1614.9 1780.1,1615.4 1784.1,1615.8 1788.1,1616.2 1792.1,1616.7 1796.1,1617.1 1800.0,1617.5 1804.0,1617.9 1808.0,1618.3 1812.0,1618.7 1815.9,1619.2 1819.9,1619.6 1823.9,1620.0 1827.9,1620.4 1831.9,1620.8 1835.8,1621.2 1839.8,1621.6 1843.8,1621.9 1847.8,1622.3 1851.8,1622.7 1855.8,1623.1 1859.7,1623.5 1863.7,1623.9 1867.7,1624.3 1871.7,1624.7 1875.7,1625.0 1879.6,1625.4 1883.6,1625.8 1887.6,1626.2 1891.6,1626.5 1895.6,1626.9 1899.6,1627.3 1903.5,1627.7 1907.5,1628.0 1911.5,1628.4 1915.5,1628.8 1919.5,1629.1 1923.5,1629.5 1927.4,1629.9 1931.4,1630.2 1935.4,1630.6 1939.4,1630.9 1943.4,1631.3 1947.4,1631.7 1951.3,1632.0 1955.3,1632.4 1959.3,1632.8 1963.3,1633.1 1967.3,1633.5 1971.3,1633.8 1975.2,1634.2 1979.2,1634.5 1983.2,1634.9 1987.2,1635.3 1991.2,1635.6 1995.2,1636.0 1999.1,1636.3 2003.1,1636.7 2007.1,1637.0 2011.1,1637.4 2015.1,1637.8 2019.1,1638.1 2023.0,1638.5 2027.0,1638.8 2031.0,1639.2 2035.0,1639.6 2039.0,1639.9 2043.0,1640.3 2047.0,1640.6 2050.9,1641.0 2054.9,1641.4 2058.9,1641.7 2062.9,1642.1 2066.9,1642.5 2070.9,1642.8 2074.8,1643.2 2078.8,1643.5 2082.8,1643.9 2086.8,1644.3 2090.8,1644.7 2094.7,1645.0 2098.7,1645.4 2102.7,1645.8 2106.7,1646.2 2110.7,1646.5 2114.7,1646.9 2118.6,1647.3 2122.6,1647.7 2126.6,1648.1 2130.6,1648.4 2134.6,1648.8 2138.6,1649.2 2142.5,1649.6 2146.5,1650.0 2150.5,1650.4 2154.5,1650.8 2158.5,1651.2 2162.4,1651.6 2166.4,1652.0 2170.4,1652.4 2174.4,1652.8 2178.4,1653.2 2182.3,1653.6 2186.3,1654.0 2190.3,1654.4 2194.3,1654.8 2198.2,1655.3 2202.2,1655.7 2206.2,1656.1 2210.2,1656.5 2214.2,1657.0 2218.1,1657.4 2222.1,1657.8 2226.1,1658.3 2228.3,1658.5"/>
<path stroke="#DD9900" d="M146.7,1668.0 150.7,1667.9 154.7,1667.8 158.7,1667.8 162.7,1667.7 166.7,1667.6 170.7,1667.6 174.7,1667.5 178.7,1667.4 182.7,1667.3 186.7,1667.2 190.7,1667.1 194.7,1667.0 198.7,1666.9 202.7,1666.8 206.7,1666.6 210.7,1666.5 214.7,1666.2 218.7,1666.0 222.7,1665.7 226.7,1665.4 230.6,1665.0 234.6,1664.6 238.6,1664.1 242.6,1663.6 246.5,1663.1 250.5,1662.4 254.4,1661.7 258.3,1661.0 262.2,1660.1 266.1,1659.1 270.0,1658.0 273.8,1656.8 277.5,1655.4 281.2,1653.9 284.9,1652.3 288.5,1650.7 292.1,1648.9 295.7,1647.0 299.2,1645.1 302.7,1643.2 306.1,1641.1 309.4,1638.9 312.7,1636.5 315.7,1633.9 318.6,1631.1 321.2,1628.2 323.7,1625.0 326.0,1621.8 328.2,1618.4 330.3,1615.0 332.3,1611.5 334.2,1608.0 336.2,1604.5 338.2,1601.1 340.2,1597.6 342.3,1594.2 344.3,1590.8 346.2,1587.2 347.9,1583.6 349.4,1579.9 350.7,1576.1 351.8,1572.3 352.7,1568.4 353.5,1564.5 354.2,1560.5 354.9,1556.6 355.5,1552.6 356.1,1548.7 356.8,1544.7 357.4,1540.8 358.0,1536.8 358.7,1532.9 359.3,1528.9 359.9,1525.0 360.4,1521.0 361.0,1517.0 361.5,1513.1 362.0,1509.1 362.6,1505.2 363.0,1501.2 363.5,1497.2 364.0,1493.2 364.4,1489.3 364.8,1485.3 365.2,1481.3 365.6,1477.3 366.0,1473.3 366.4,1469.4 366.7,1465.4 367.1,1461.4 367.5,1457.4 367.9,1453.4 368.4,1449.5 368.8,1445.5 369.3,1441.5 369.8,1437.5 370.3,1433.6 370.7,1429.6 371.2,1425.6 371.7,1421.7 372.2,1417.7 372.7,1413.7 373.1,1409.7 373.6,1405.8 374.0,1401.8 374.4,1397.8 374.8,1393.8 375.1,1389.8 375.5,1385.9 375.8,1381.9 376.1,1377.9 376.4,1373.9 376.7,1369.9 377.0,1365.9 377.3,1361.9 377.6,1357.9 377.9,1353.9 378.2,1350.0 378.5,1346.0 378.9,1342.0 379.2,1338.0 379.5,1334.0 379.9,1330.0 380.2,1326.0 380.6,1322.1 380.9,1318.1 381.2,1314.1 381.6,1310.1 381.9,1306.1 382.2,1302.1 382.5,1298.1 382.9,1294.2 383.2,1290.2 383.5,1286.2 383.8,1282.2 384.1,1278.2 384.4,1274.2 384.6,1270.2 384.9,1266.2 385.2,1262.2 385.6,1258.3 385.9,1254.3 386.2,1250.3 386.5,1246.3 386.8,1242.3 387.2,1238.3 387.5,1234.3 387.9,1230.3 388.2,1226.4 388.6,1222.4 388.9,1218.4 389.3,1214.4 389.6,1210.4 389.9,1206.4 390.3,1202.5 390.6,1198.5 391.0,1194.5 391.3,1190.5 391.6,1186.5 391.9,1182.5 392.3,1178.5 392.6,1174.5 392.9,1170.6 393.2,1166.6 393.5,1162.6 393.9,1158.6 394.2,1154.6 394.6,1150.6 394.9,1146.6 395.3,1142.7 395.6,1138.7 396.0,1134.7 396.4,1130.7 396.8,1126.7 397.2,1122.8 397.6,1118.8 398.0,1114.8 398.4,1110.8 398.8,1106.8 399.2,1102.9 399.7,1098.9 400.1,1094.9 400.5,1090.9 400.9,1086.9 401.3,1083.0 401.7,1079.0 402.1,1075.0 402.4,1071.0 402.8,1067.0 403.2,1063.1 403.5,1059.1 403.8,1055.1 404.2,1051.1 404.5,1047.1 404.9,1043.1 405.2,1039.1 405.6,1035.2 406.0,1031.2 406.4,1027.2 406.8,1023.2 407.2,1019.2 407.6,1015.3 408.1,1011.3 408.6,1007.3 409.1,1003.4 409.7,999.4 410.3,995.4 410.9,991.5 411.5,987.5 412.1,983.6 412.8,979.6 413.4,975.7 414.1,971.7 414.7,967.8 415.4,963.9 416.1,959.9 416.9,956.0 417.6,952.1 418.3,948.1 419.1,944.2 419.9,940.3 420.7,936.4 421.6,932.5 422.6,928.6 423.6,924.7 424.8,920.9 426.4,917.2 428.6,913.9 431.7,911.5 435.6,910.9 439.1,912.6 441.9,915.5 444.1,918.8 446.3,922.2 448.5,925.6 450.7,928.9 453.0,932.1 455.3,935.4 457.6,938.7 459.8,942.0 462.1,945.3 464.4,948.5 466.8,951.8 469.2,954.9 471.7,958.1 474.3,961.2 476.9,964.2 479.7,967.0 482.6,969.8 485.8,972.2 489.1,974.4 492.6,976.4 496.3,977.9 500.1,979.0 504.1,979.6 508.1,979.5 512.0,978.9 515.9,978.0 519.8,977.1 523.7,976.1 527.6,975.1 531.3,973.7 535.0,972.1 538.4,970.0 541.5,967.5 544.3,964.7 546.8,961.5 548.9,958.1 550.6,954.5 552.1,950.8 553.4,947.0 554.8,943.3 556.0,939.5 557.3,935.7 558.6,931.9 559.7,928.0 560.8,924.2 561.8,920.3 562.8,916.4 563.6,912.5 564.4,908.6 565.2,904.7 565.9,900.8 566.7,896.8 567.4,892.9 568.2,889.0 569.0,885.1 569.8,881.1 570.6,877.2 571.3,873.3 572.1,869.4 572.9,865.4 573.7,861.5 574.5,857.6 575.2,853.7 576.0,849.7 576.8,845.8 577.6,841.9 578.3,838.0 579.2,834.1 580.0,830.1 580.9,826.2 581.8,822.3 582.7,818.5 583.6,814.6 584.6,810.7 585.6,806.8 586.5,802.9 587.5,799.0 588.5,795.2 589.5,791.3 590.5,787.4 591.5,783.6 592.6,779.7 593.8,775.9 594.9,772.0 596.1,768.2 597.3,764.4 598.5,760.6 599.7,756.8 600.8,752.9 601.9,749.1 602.9,745.2 603.8,741.3 604.6,737.4 605.4,733.5 606.1,729.5 606.7,725.6 607.4,721.6 608.1,717.7 608.8,713.8 609.5,709.8 610.2,705.9 611.1,702.0 612.0,698.1 613.0,694.2 614.1,690.4 615.1,686.5 616.2,682.7 617.3,678.8 618.4,674.9 619.4,671.1 620.4,667.2 621.5,663.4 622.6,659.5 623.8,655.7 625.0,651.9 626.3,648.1 627.6,644.3 629.1,640.6 630.7,637.0 632.6,633.4 634.7,630.0 637.5,627.2 641.3,626.2 645.0,627.7 648.1,630.1 651.1,632.7 654.0,635.5 656.6,638.5 659.0,641.8 661.0,645.2 662.8,648.8 664.5,652.4 666.0,656.1 667.6,659.8 669.1,663.5 670.8,667.1 672.4,670.8 674.1,674.4 675.8,678.0 677.6,681.6 679.4,685.2 681.1,688.8 683.0,692.3 684.8,695.9 686.7,699.4 688.6,702.9 690.6,706.4 692.6,709.8 694.6,713.3 696.7,716.7 698.8,720.1 700.9,723.5 703.0,726.9 705.2,730.3 707.4,733.6 709.6,737.0 711.8,740.3 714.1,743.6 716.3,746.9 718.7,750.1 721.0,753.4 723.4,756.6 725.9,759.7 728.3,762.9 730.8,766.0 733.4,769.1 736.0,772.2 738.6,775.2 741.2,778.2 743.8,781.2 746.5,784.1 749.3,787.1 752.0,790.0 754.8,792.8 757.7,795.6 760.5,798.5 763.4,801.3 766.3,804.0 769.2,806.7 772.2,809.4 775.2,812.0 778.4,814.5 781.6,816.8 784.9,819.1 788.3,821.2 791.8,823.1 795.4,824.9 799.0,826.5 802.7,828.1 806.4,829.6 810.2,831.0 813.9,832.5 817.6,834.0 821.2,835.6 824.9,837.4 828.4,839.2 831.9,841.2 835.3,843.3 838.6,845.5 841.9,847.8 845.2,850.1 848.4,852.5 851.5,855.0 854.5,857.6 857.5,860.3 860.4,863.0 863.2,865.9 865.9,868.9 868.4,871.9 870.9,875.1 873.3,878.3 875.6,881.6 877.8,884.9 880.0,888.2 882.2,891.6 884.3,895.0 886.4,898.4 888.6,901.8 890.6,905.2 892.7,908.6 894.6,912.1 896.6,915.6 898.5,919.1 900.4,922.6 902.3,926.1 904.2,929.7 906.1,933.2 908.0,936.7 909.9,940.2 911.8,943.7 913.7,947.2 915.7,950.7 917.6,954.2 919.5,957.7 921.5,961.2 923.4,964.8 925.3,968.3 927.3,971.8 929.2,975.3 931.2,978.7 933.1,982.2 935.1,985.7 937.1,989.2 939.0,992.7 941.1,996.1 943.1,999.6 945.1,1003.0 947.1,1006.5 949.2,1009.9 951.2,1013.3 953.3,1016.8 955.3,1020.2 957.3,1023.7 959.4,1027.1 961.4,1030.6 963.4,1034.0 965.3,1037.5 967.3,1041.0 969.2,1044.5 971.2,1048.0 973.1,1051.5 975.0,1055.0 976.9,1058.6 978.8,1062.1 980.6,1065.6 982.5,1069.2 984.4,1072.7 986.2,1076.3 988.1,1079.8 990.0,1083.3 992.0,1086.8 994.0,1090.3 996.0,1093.7 998.2,1097.1 1000.4,1100.4 1002.7,1103.7 1005.1,1106.9 1007.5,1110.0 1010.1,1113.1 1012.6,1116.2 1015.3,1119.2 1017.9,1122.2 1020.6,1125.2 1023.3,1128.1 1026.0,1131.0 1028.8,1133.9 1031.6,1136.8 1034.5,1139.6 1037.4,1142.3 1040.3,1145.1 1043.2,1147.8 1046.1,1150.6 1049.0,1153.3 1051.8,1156.1 1054.6,1159.0 1057.4,1161.9 1060.1,1164.8 1062.7,1167.9 1065.3,1170.9 1067.7,1174.1 1070.2,1177.3 1072.5,1180.5 1074.9,1183.7 1077.2,1187.0 1079.4,1190.3 1081.7,1193.6 1084.0,1196.9 1086.2,1200.2 1088.5,1203.5 1090.8,1206.8 1093.1,1210.1 1095.4,1213.3 1097.8,1216.5 1100.2,1219.7 1102.8,1222.8 1105.4,1225.8 1108.0,1228.8 1110.7,1231.8 1113.4,1234.7 1116.2,1237.6 1118.9,1240.5 1121.7,1243.4 1124.4,1246.3 1127.2,1249.2 1130.0,1252.1 1132.8,1255.0 1135.5,1257.9 1138.2,1260.8 1140.9,1263.8 1143.5,1266.8 1146.2,1269.8 1148.8,1272.8 1151.4,1275.8 1154.1,1278.8 1156.7,1281.9 1159.3,1284.9 1161.9,1287.9 1164.4,1291.0 1167.0,1294.1 1169.6,1297.1 1172.2,1300.2 1174.7,1303.3 1177.2,1306.4 1179.8,1309.5 1182.3,1312.6 1184.8,1315.7 1187.3,1318.8 1189.8,1322.0 1192.2,1325.1 1194.7,1328.2 1197.2,1331.4 1199.7,1334.5 1202.2,1337.6 1204.7,1340.8 1207.2,1343.9 1209.7,1347.0 1212.2,1350.2 1214.6,1353.3 1217.1,1356.5 1219.6,1359.6 1222.0,1362.8 1224.5,1365.9 1227.0,1369.0 1229.4,1372.2 1231.9,1375.3 1234.4,1378.4 1236.9,1381.5 1239.5,1384.7 1242.0,1387.7 1244.6,1390.8 1247.1,1393.9 1249.7,1396.9 1252.4,1399.9 1255.0,1403.0 1257.6,1406.0 1260.2,1409.0 1262.9,1412.0 1265.5,1415.0 1268.2,1418.0 1270.8,1421.0 1273.5,1423.9 1276.2,1426.9 1279.0,1429.8 1281.7,1432.7 1284.5,1435.5 1287.4,1438.3 1290.3,1441.1 1293.3,1443.8 1296.3,1446.4 1299.4,1449.0 1302.5,1451.4 1305.7,1453.8 1309.0,1456.1 1312.3,1458.4 1315.7,1460.5 1319.1,1462.6 1322.5,1464.6 1326.0,1466.6 1329.5,1468.6 1333.0,1470.5 1336.5,1472.4 1340.0,1474.4 1343.5,1476.3 1347.0,1478.2 1350.5,1480.1 1354.0,1482.1 1357.5,1484.0 1361.0,1485.9 1364.6,1487.8 1368.1,1489.7 1371.6,1491.5 1375.2,1493.4 1378.7,1495.2 1382.3,1497.0 1385.9,1498.8 1389.5,1500.6 1393.0,1502.4 1396.6,1504.2 1400.2,1505.9 1403.8,1507.6 1407.5,1509.3 1411.1,1511.0 1414.7,1512.7 1418.4,1514.3 1422.0,1516.0 1425.7,1517.6 1429.3,1519.2 1433.0,1520.8 1436.7,1522.3 1440.4,1523.9 1444.1,1525.4 1447.8,1527.0 1451.5,1528.5 1455.2,1530.0 1458.9,1531.4 1462.6,1532.9 1466.4,1534.3 1470.1,1535.8 1473.8,1537.2 1477.6,1538.6 1481.3,1539.9 1485.1,1541.3 1488.9,1542.6 1492.6,1544.0 1496.4,1545.3 1500.2,1546.6 1504.0,1547.9 1507.8,1549.1 1511.6,1550.4 1515.4,1551.6 1519.2,1552.9 1523.0,1554.1 1526.8,1555.2 1530.7,1556.4 1534.5,1557.6 1538.3,1558.7 1542.2,1559.9 1546.0,1561.0 1549.8,1562.1 1553.7,1563.2 1557.5,1564.2 1561.4,1565.3 1565.3,1566.3 1569.1,1567.4 1573.0,1568.4 1576.9,1569.4 1580.7,1570.4 1584.6,1571.4 1588.5,1572.3 1592.4,1573.3 1596.3,1574.2 1600.2,1575.1 1604.1,1576.1 1608.0,1577.0 1611.9,1577.9 1615.8,1578.7 1619.7,1579.6 1623.6,1580.4 1627.5,1581.3 1631.4,1582.1 1635.3,1582.9 1639.2,1583.7 1643.2,1584.5 1647.1,1585.3 1651.0,1586.1 1654.9,1586.8 1658.9,1587.6 1662.8,1588.3 1666.7,1589.1 1670.7,1589.8 1674.6,1590.5 1678.5,1591.2 1682.5,1591.9 1686.4,1592.6 1690.4,1593.2 1694.3,1593.9 1698.2,1594.6 1702.2,1595.2 1706.1,1595.9 1710.1,1596.5 1714.0,1597.1 1718.0,1597.7 1721.9,1598.3 1725.9,1598.9 1729.9,1599.5 1733.8,1600.1 1737.8,1600.7 1741.7,1601.3 1745.7,1601.8 1749.6,1602.4 1753.6,1603.0 1757.6,1603.5 1761.5,1604.1 1765.5,1604.6 1769.5,1605.1 1773.4,1605.7 1777.4,1606.2 1781.4,1606.7 1785.3,1607.2 1789.3,1607.7 1793.3,1608.2 1797.2,1608.8 1801.2,1609.3 1805.2,1609.8 1809.1,1610.3 1813.1,1610.7 1817.1,1611.2 1821.0,1611.7 1825.0,1612.2 1829.0,1612.7 1833.0,1613.2 1836.9,1613.6 1840.9,1614.1 1844.9,1614.6 1848.8,1615.0 1852.8,1615.5 1856.8,1616.0 1860.8,1616.4 1864.7,1616.9 1868.7,1617.4 1872.7,1617.8 1876.7,1618.3 1880.6,1618.7 1884.6,1619.2 1888.6,1619.6 1892.6,1620.1 1896.5,1620.5 1900.5,1621.0 1904.5,1621.4 1908.5,1621.9 1912.4,1622.3 1916.4,1622.7 1920.4,1623.2 1924.4,1623.6 1928.3,1624.1 1932.3,1624.5 1936.3,1624.9 1940.3,1625.4 1944.2,1625.8 1948.2,1626.2 1952.2,1626.7 1956.2,1627.1 1960.1,1627.5 1964.1,1628.0 1968.1,1628.4 1972.1,1628.8 1976.1,1629.2 1980.0,1629.7 1984.0,1630.1 1988.0,1630.5 1992.0,1631.0 1995.9,1631.4 1999.9,1631.8 2003.9,1632.3 2007.9,1632.7 2011.8,1633.1 2015.8,1633.6 2019.8,1634.0 2023.8,1634.4 2027.8,1634.9 2031.7,1635.3 2035.7,1635.7 2039.7,1636.2 2043.7,1636.6 2047.6,1637.0 2051.6,1637.5 2055.6,1637.9 2059.6,1638.3 2063.5,1638.8 2067.5,1639.2 2071.5,1639.7 2075.5,1640.1 2079.4,1640.6 2083.4,1641.0 2087.4,1641.4 2091.4,1641.9 2095.3,1642.3 2099.3,1642.8 2103.3,1643.3 2107.3,1643.7 2111.2,1644.2 2115.2,1644.6 2119.2,1645.1 2123.2,1645.6 2127.1,1646.0 2131.1,1646.5 2135.1,1647.0 2139.0,1647.4 2143.0,1647.9 2147.0,1648.4 2151.0,1648.9 2154.9,1649.3 2158.9,1649.8 2162.9,1650.3 2166.8,1650.8 2170.8,1651.3 2174.8,1651.8 2178.7,1652.3 2182.7,1652.8 2186.7,1653.3 2190.6,1653.8 2194.6,1654.3 2198.6,1654.8 2202.6,1655.3 2206.5,1655.9 2210.5,1656.4 2214.4,1656.9 2218.4,1657.4 2222.4,1658.0 2226.3,1658.5 2227.6,1658.7"/>
<path stroke="#00CCCC" d="M146.7,1668.0 150.7,1667.9 154.7,1667.9 158.7,1667.9 162.7,1667.8 166.7,1667.8 170.7,1667.7 174.7,1667.7 178.7,1667.6 182.7,1667.6 186.7,1667.5 190.7,1667.4 194.7,1667.3 198.7,1667.2 202.7,1667.1 206.7,1667.0 210.7,1666.9 214.7,1666.7 218.7,1666.5 222.7,1666.3 226.7,1666.0 230.7,1665.8 234.7,1665.5 238.7,1665.2 242.6,1664.8 246.6,1664.4 250.6,1664.0 254.6,1663.5 258.5,1663.0 262.5,1662.3 266.4,1661.6 270.3,1660.8 274.2,1659.9 278.1,1658.9 281.9,1657.8 285.7,1656.5 289.5,1655.2 293.3,1653.8 297.0,1652.3 300.7,1650.8 304.3,1649.1 307.9,1647.3 311.4,1645.3 314.7,1643.2 317.9,1640.8 320.9,1638.1 323.7,1635.3 326.3,1632.2 328.7,1629.0 330.9,1625.7 333.2,1622.4 335.7,1619.3 338.5,1616.4 341.5,1613.8 344.5,1611.1 347.0,1608.1 349.0,1604.6 350.5,1600.9 351.8,1597.1 352.9,1593.3 353.9,1589.4 354.9,1585.5 355.9,1581.6 356.9,1577.8 357.8,1573.9 358.7,1570.0 359.6,1566.1 360.4,1562.2 361.2,1558.2 362.0,1554.3 362.7,1550.4 363.4,1546.4 364.1,1542.5 364.7,1538.5 365.3,1534.6 365.8,1530.6 366.3,1526.7 366.8,1522.7 367.2,1518.7 367.7,1514.7 368.1,1510.7 368.5,1506.8 369.0,1502.8 369.5,1498.8 369.9,1494.9 370.4,1490.9 370.9,1486.9 371.5,1483.0 372.0,1479.0 372.5,1475.0 373.0,1471.1 373.5,1467.1 374.0,1463.1 374.5,1459.1 375.0,1455.2 375.4,1451.2 375.9,1447.2 376.4,1443.3 376.8,1439.3 377.3,1435.3 377.8,1431.3 378.2,1427.4 378.6,1423.4 379.1,1419.4 379.5,1415.4 380.0,1411.5 380.4,1407.5 380.8,1403.5 381.2,1399.5 381.7,1395.6 382.1,1391.6 382.5,1387.6 382.9,1383.6 383.3,1379.6 383.8,1375.7 384.2,1371.7 384.6,1367.7 385.0,1363.7 385.4,1359.7 385.9,1355.8 386.3,1351.8 386.8,1347.8 387.2,1343.8 387.7,1339.9 388.2,1335.9 388.7,1331.9 389.2,1328.0 389.6,1324.0 390.1,1320.0 390.6,1316.1 391.1,1312.1 391.6,1308.1 392.1,1304.1 392.6,1300.2 393.0,1296.2 393.5,1292.2 394.0,1288.3 394.4,1284.3 394.9,1280.3 395.3,1276.3 395.8,1272.4 396.3,1268.4 396.7,1264.4 397.2,1260.4 397.6,1256.5 398.1,1252.5 398.6,1248.5 399.0,1244.6 399.5,1240.6 400.0,1236.6 400.5,1232.6 400.9,1228.7 401.4,1224.7 401.9,1220.7 402.4,1216.8 402.9,1212.8 403.4,1208.8 403.9,1204.9 404.5,1200.9 405.0,1196.9 405.6,1193.0 406.2,1189.0 406.7,1185.0 407.3,1181.1 407.9,1177.1 408.5,1173.2 409.1,1169.2 409.7,1165.3 410.3,1161.3 410.9,1157.4 411.6,1153.4 412.3,1149.5 413.0,1145.5 413.7,1141.6 414.5,1137.7 415.3,1133.8 416.2,1129.9 417.1,1126.0 418.1,1122.1 419.1,1118.2 420.2,1114.4 421.4,1110.6 423.1,1106.9 425.3,1103.6 428.3,1101.0 432.1,1099.7 436.0,1100.2 439.4,1102.1 442.5,1104.7 445.4,1107.5 448.1,1110.4 450.8,1113.4 453.5,1116.3 456.3,1119.2 459.1,1122.0 462.0,1124.8 464.9,1127.5 467.9,1130.1 471.0,1132.7 474.2,1135.1 477.6,1137.3 481.1,1139.1 484.8,1140.5 488.7,1141.5 492.7,1141.9 496.7,1142.0 500.7,1141.7 504.6,1141.0 508.5,1140.0 512.2,1138.5 515.8,1136.7 519.1,1134.5 522.3,1132.1 525.3,1129.5 528.2,1126.7 530.9,1123.7 533.4,1120.6 535.8,1117.4 538.0,1114.1 540.2,1110.7 542.2,1107.3 544.2,1103.8 546.1,1100.3 547.9,1096.7 549.6,1093.1 551.2,1089.5 552.8,1085.8 554.2,1082.0 555.5,1078.3 556.8,1074.5 557.9,1070.6 559.1,1066.8 560.2,1063.0 561.3,1059.1 562.4,1055.3 563.5,1051.4 564.6,1047.6 565.6,1043.7 566.6,1039.8 567.6,1036.0 568.6,1032.1 569.6,1028.2 570.5,1024.3 571.4,1020.4 572.4,1016.5 573.3,1012.6 574.1,1008.7 575.0,1004.8 575.9,1000.9 576.7,997.0 577.5,993.1 578.3,989.2 579.1,985.2 579.8,981.3 580.6,977.4 581.3,973.5 582.1,969.5 582.8,965.6 583.6,961.7 584.3,957.7 585.1,953.8 585.9,949.9 586.8,946.0 587.6,942.1 588.5,938.2 589.4,934.3 590.3,930.4 591.2,926.5 592.1,922.6 593.1,918.7 594.0,914.8 595.0,910.9 596.0,907.1 597.0,903.2 598.1,899.4 599.2,895.5 600.3,891.7 601.4,887.8 602.5,884.0 603.7,880.1 604.8,876.3 606.1,872.5 607.3,868.7 608.6,864.9 610.0,861.2 611.5,857.5 613.0,853.8 614.6,850.1 616.2,846.4 617.8,842.7 619.4,839.1 621.2,835.5 623.1,832.0 625.2,828.6 627.7,825.5 630.7,822.8 634.1,820.8 638.0,819.6 641.9,819.2 645.9,819.6 649.8,820.7 653.4,822.3 656.9,824.2 660.3,826.4 663.5,828.8 666.5,831.4 669.4,834.2 672.3,837.0 675.1,839.9 677.8,842.7 680.6,845.7 683.3,848.6 685.9,851.6 688.5,854.6 691.1,857.6 693.8,860.7 696.4,863.7 699.1,866.6 701.9,869.4 704.9,872.2 707.9,874.8 711.1,877.2 714.3,879.6 717.6,881.8 721.0,884.0 724.3,886.2 727.6,888.4 730.9,890.7 734.2,893.0 737.4,895.4 740.6,897.8 743.9,900.1 747.1,902.4 750.5,904.6 753.9,906.7 757.3,908.7 760.9,910.6 764.4,912.4 768.1,914.1 771.7,915.7 775.5,917.1 779.3,918.4 783.1,919.4 787.0,920.3 791.0,921.0 794.9,921.5 798.9,921.9 802.9,922.3 806.9,922.4 810.9,922.4 814.9,922.3 818.9,922.1 822.9,921.9 826.9,921.8 830.9,921.9 834.9,922.3 838.8,923.1 842.6,924.3 846.3,925.8 849.9,927.5 853.5,929.4 856.9,931.4 860.3,933.6 863.5,935.9 866.8,938.3 869.9,940.7 872.9,943.3 875.9,946.0 878.8,948.8 881.6,951.6 884.5,954.4 887.2,957.3 890.0,960.2 892.6,963.2 895.2,966.3 897.8,969.4 900.3,972.5 902.8,975.6 905.3,978.7 907.8,981.8 910.3,984.9 912.9,988.0 915.5,991.0 918.1,994.0 920.7,997.1 923.3,1000.1 926.0,1003.1 928.6,1006.1 931.2,1009.2 933.8,1012.2 936.5,1015.2 939.2,1018.1 941.8,1021.1 944.5,1024.1 947.2,1027.0 950.0,1029.9 952.7,1032.8 955.5,1035.7 958.4,1038.5 961.2,1041.3 964.1,1044.1 967.0,1046.9 969.8,1049.7 972.7,1052.5 975.6,1055.3 978.4,1058.1 981.2,1060.9 984.0,1063.8 986.7,1066.7 989.4,1069.7 992.0,1072.7 994.6,1075.8 997.2,1078.8 999.7,1081.9 1002.2,1085.1 1004.7,1088.2 1007.2,1091.3 1009.7,1094.5 1012.2,1097.6 1014.7,1100.7 1017.3,1103.7 1019.9,1106.8 1022.5,1109.7 1025.3,1112.7 1028.0,1115.6 1030.9,1118.4 1033.7,1121.2 1036.6,1124.0 1039.5,1126.7 1042.5,1129.4 1045.4,1132.1 1048.4,1134.7 1051.4,1137.4 1054.4,1140.1 1057.3,1142.8 1060.3,1145.5 1063.2,1148.2 1066.1,1150.9 1069.1,1153.7 1072.0,1156.4 1074.9,1159.2 1077.8,1161.9 1080.7,1164.7 1083.6,1167.4 1086.5,1170.1 1089.4,1172.9 1092.4,1175.6 1095.3,1178.3 1098.3,1181.0 1101.3,1183.6 1104.3,1186.2 1107.4,1188.8 1110.4,1191.4 1113.5,1194.0 1116.6,1196.5 1119.6,1199.1 1122.7,1201.6 1125.8,1204.2 1128.9,1206.8 1131.9,1209.4 1134.9,1212.0 1137.9,1214.7 1140.8,1217.4 1143.7,1220.2 1146.5,1223.1 1149.2,1226.0 1151.9,1228.9 1154.6,1231.9 1157.3,1234.8 1160.0,1237.8 1162.7,1240.7 1165.4,1243.7 1168.2,1246.6 1170.9,1249.5 1173.6,1252.4 1176.3,1255.4 1179.0,1258.4 1181.6,1261.3 1184.3,1264.4 1186.9,1267.4 1189.5,1270.4 1192.1,1273.5 1194.6,1276.6 1197.2,1279.6 1199.8,1282.7 1202.3,1285.8 1204.9,1288.9 1207.4,1292.0 1209.9,1295.0 1212.5,1298.1 1215.0,1301.2 1217.5,1304.4 1220.0,1307.5 1222.5,1310.6 1224.9,1313.8 1227.4,1316.9 1229.8,1320.1 1232.3,1323.3 1234.8,1326.4 1237.2,1329.5 1239.7,1332.7 1242.3,1335.8 1244.8,1338.9 1247.4,1341.9 1250.0,1345.0 1252.6,1348.0 1255.2,1351.0 1257.8,1354.0 1260.5,1357.0 1263.1,1360.1 1265.7,1363.1 1268.4,1366.1 1271.1,1369.0 1273.8,1372.0 1276.5,1374.9 1279.2,1377.8 1282.0,1380.7 1284.8,1383.6 1287.6,1386.4 1290.5,1389.2 1293.4,1392.0 1296.3,1394.7 1299.3,1397.3 1302.3,1399.9 1305.4,1402.5 1308.6,1404.9 1311.8,1407.3 1315.0,1409.7 1318.3,1412.0 1321.6,1414.3 1324.9,1416.5 1328.2,1418.7 1331.6,1420.9 1334.9,1423.1 1338.3,1425.2 1341.7,1427.4 1345.1,1429.5 1348.4,1431.7 1351.8,1433.8 1355.2,1435.9 1358.6,1438.1 1362.0,1440.2 1365.4,1442.2 1368.8,1444.3 1372.3,1446.4 1375.7,1448.4 1379.1,1450.4 1382.6,1452.4 1386.1,1454.4 1389.6,1456.4 1393.0,1458.4 1396.5,1460.3 1400.0,1462.2 1403.6,1464.1 1407.1,1466.0 1410.6,1467.9 1414.2,1469.7 1417.7,1471.6 1421.3,1473.4 1424.9,1475.2 1428.4,1477.0 1432.0,1478.8 1435.6,1480.5 1439.2,1482.2 1442.8,1484.0 1446.5,1485.7 1450.1,1487.3 1453.7,1489.0 1457.4,1490.7 1461.0,1492.3 1464.7,1493.9 1468.4,1495.5 1472.0,1497.1 1475.7,1498.6 1479.4,1500.2 1483.1,1501.7 1486.8,1503.2 1490.5,1504.7 1494.2,1506.2 1497.9,1507.7 1501.7,1509.1 1505.4,1510.5 1509.2,1512.0 1512.9,1513.4 1516.7,1514.7 1520.4,1516.1 1524.2,1517.5 1528.0,1518.8 1531.7,1520.1 1535.5,1521.4 1539.3,1522.7 1543.1,1524.0 1546.9,1525.2 1550.7,1526.5 1554.5,1527.7 1558.3,1528.9 1562.1,1530.1 1565.9,1531.3 1569.8,1532.5 1573.6,1533.6 1577.4,1534.8 1581.3,1535.9 1585.1,1537.0 1588.9,1538.1 1592.8,1539.2 1596.6,1540.3 1600.5,1541.4 1604.4,1542.4 1608.2,1543.5 1612.1,1544.5 1616.0,1545.5 1619.8,1546.5 1623.7,1547.5 1627.6,1548.5 1631.5,1549.4 1635.3,1550.4 1639.2,1551.4 1643.1,1552.3 1647.0,1553.2 1650.9,1554.1 1654.8,1555.1 1658.7,1556.0 1662.6,1556.9 1666.5,1557.7 1670.4,1558.6 1674.3,1559.5 1678.2,1560.3 1682.1,1561.2 1686.0,1562.0 1689.9,1562.8 1693.9,1563.7 1697.8,1564.5 1701.7,1565.3 1705.6,1566.1 1709.5,1566.9 1713.5,1567.7 1717.4,1568.5 1721.3,1569.2 1725.2,1570.0 1729.2,1570.8 1733.1,1571.5 1737.0,1572.3 1740.9,1573.1 1744.9,1573.8 1748.8,1574.6 1752.7,1575.3 1756.7,1576.0 1760.6,1576.8 1764.5,1577.5 1768.4,1578.2 1772.4,1579.0 1776.3,1579.7 1780.3,1580.4 1784.2,1581.1 1788.1,1581.9 1792.1,1582.6 1796.0,1583.3 1799.9,1584.0 1803.9,1584.7 1807.8,1585.5 1811.7,1586.2 1815.7,1586.9 1819.6,1587.6 1823.5,1588.3 1827.5,1589.1 1831.4,1589.8 1835.3,1590.5 1839.3,1591.2 1843.2,1591.9 1847.1,1592.7 1851.1,1593.4 1855.0,1594.1 1858.9,1594.8 1862.9,1595.6 1866.8,1596.3 1870.7,1597.0 1874.7,1597.7 1878.6,1598.4 1882.5,1599.2 1886.5,1599.9 1890.4,1600.6 1894.3,1601.3 1898.3,1602.0 1902.2,1602.8 1906.2,1603.5 1910.1,1604.2 1914.0,1604.9 1918.0,1605.6 1921.9,1606.3 1925.8,1607.1 1929.8,1607.8 1933.7,1608.5 1937.6,1609.2 1941.6,1609.9 1945.5,1610.6 1949.5,1611.3 1953.4,1612.0 1957.3,1612.7 1961.3,1613.4 1965.2,1614.1 1969.1,1614.8 1973.1,1615.5 1977.0,1616.2 1981.0,1616.9 1984.9,1617.6 1988.8,1618.3 1992.8,1618.9 1996.7,1619.6 2000.7,1620.3 2004.6,1621.0 2008.6,1621.6 2012.5,1622.3 2016.4,1623.0 2020.4,1623.6 2024.3,1624.3 2028.3,1625.0 2032.2,1625.6 2036.2,1626.3 2040.1,1626.9 2044.1,1627.6 2048.0,1628.2 2052.0,1628.8 2055.9,1629.5 2059.9,1630.1 2063.8,1630.7 2067.8,1631.3 2071.7,1632.0 2075.7,1632.6 2079.6,1633.2 2083.6,1633.8 2087.5,1634.4 2091.5,1635.0 2095.4,1635.6 2099.4,1636.2 2103.4,1636.8 2107.3,1637.4 2111.3,1637.9 2115.2,1638.5 2119.2,1639.1 2123.1,1639.6 2127.1,1640.2 2131.1,1640.8 2135.0,1641.3 2139.0,1641.9 2143.0,1642.4 2146.9,1642.9 2150.9,1643.4 2154.9,1644.0 2158.8,1644.5 2162.8,1645.0 2166.8,1645.5 2170.7,1646.0 2174.7,1646.5 2178.7,1647.0 2182.6,1647.5 2186.6,1647.9 2190.6,1648.4 2194.6,1648.9 2198.5,1649.3 2202.5,1649.8 2206.5,1650.2 2210.4,1650.7 2214.4,1651.1 2218.4,1651.5 2222.4,1651.9 2226.4,1652.4 2227.7,1652.5"/>
<path stroke="#8A4B4B" d="M146.7,1668.0 150.7,1668.0 154.7,1668.0 158.7,1668.0 162.7,1668.0 166.7,1668.1 170.7,1668.1 174.7,1668.1 178.7,1668.1 182.7,1668.0 186.7,1668.0 190.7,1667.9 194.7,1667.9 198.7,1667.8 202.7,1667.7 206.7,1667.6 210.7,1667.5 214.7,1667.3 218.7,1667.2 222.7,1667.1 226.7,1666.9 230.7,1666.7 234.7,1666.6 238.7,1666.4 242.7,1666.2 246.7,1665.9 250.7,1665.6 254.6,1665.2 258.6,1664.8 262.6,1664.4 266.6,1663.8 270.5,1663.2 274.4,1662.5 278.4,1661.7 282.3,1660.8 286.1,1659.8 290.0,1658.8 293.9,1657.7 297.7,1656.6 301.6,1655.5 305.4,1654.3 309.2,1653.0 312.9,1651.5 316.5,1649.8 320.0,1647.9 323.3,1645.7 326.5,1643.3 329.6,1640.7 332.4,1637.9 335.2,1635.0 337.8,1632.0 340.4,1628.9 342.9,1625.8 345.3,1622.6 347.7,1619.4 349.9,1616.0 351.9,1612.6 353.7,1609.0 355.3,1605.4 356.7,1601.6 358.0,1597.8 359.1,1594.0 360.1,1590.1 361.1,1586.2 362.0,1582.4 363.0,1578.5 363.9,1574.6 364.7,1570.7 365.6,1566.8 366.4,1562.8 367.1,1558.9 367.9,1555.0 368.6,1551.0 369.3,1547.1 370.0,1543.2 370.7,1539.2 371.4,1535.3 372.0,1531.3 372.6,1527.4 373.2,1523.4 373.8,1519.5 374.4,1515.5 375.0,1511.6 375.6,1507.6 376.2,1503.6 376.8,1499.7 377.4,1495.7 378.0,1491.8 378.6,1487.8 379.3,1483.9 379.9,1479.9 380.5,1476.0 381.2,1472.0 381.8,1468.1 382.4,1464.1 383.0,1460.2 383.7,1456.2 384.2,1452.3 384.8,1448.3 385.4,1444.4 386.0,1440.4 386.5,1436.4 387.0,1432.5 387.6,1428.5 388.1,1424.5 388.6,1420.6 389.2,1416.6 389.7,1412.7 390.3,1408.7 390.8,1404.7 391.4,1400.8 392.0,1396.8 392.6,1392.9 393.2,1388.9 393.8,1385.0 394.4,1381.0 395.0,1377.1 395.7,1373.1 396.3,1369.2 396.9,1365.2 397.6,1361.3 398.3,1357.3 398.9,1353.4 399.6,1349.4 400.3,1345.5 401.0,1341.6 401.7,1337.6 402.4,1333.7 403.2,1329.8 403.9,1325.8 404.7,1321.9 405.4,1318.0 406.2,1314.0 406.9,1310.1 407.7,1306.2 408.5,1302.3 409.2,1298.3 410.0,1294.4 410.7,1290.5 411.5,1286.5 412.3,1282.6 413.2,1278.7 414.1,1274.8 415.1,1271.0 416.3,1267.1 417.7,1263.4 419.5,1259.8 421.7,1256.5 424.4,1253.6 427.8,1251.5 431.7,1250.7 435.6,1251.4 439.2,1253.2 442.4,1255.5 445.5,1258.0 448.6,1260.6 451.7,1263.2 454.8,1265.7 458.0,1268.0 461.3,1270.2 464.8,1272.3 468.4,1274.0 472.2,1275.3 476.1,1276.3 480.0,1276.8 484.0,1276.9 488.0,1276.6 491.9,1275.8 495.7,1274.6 499.4,1273.0 503.0,1271.2 506.4,1269.1 509.7,1266.9 512.9,1264.5 516.0,1262.0 519.1,1259.4 522.1,1256.7 525.0,1254.0 527.8,1251.2 530.6,1248.3 533.3,1245.4 536.0,1242.4 538.6,1239.4 541.2,1236.3 543.6,1233.1 546.0,1229.9 548.3,1226.6 550.4,1223.2 552.4,1219.8 554.4,1216.3 556.2,1212.7 558.0,1209.1 559.7,1205.6 561.5,1202.0 563.2,1198.3 564.9,1194.7 566.6,1191.1 568.2,1187.4 569.8,1183.8 571.3,1180.1 572.7,1176.3 574.1,1172.6 575.3,1168.8 576.4,1164.9 577.5,1161.0 578.4,1157.2 579.3,1153.3 580.1,1149.3 580.9,1145.4 581.7,1141.5 582.4,1137.6 583.2,1133.7 584.0,1129.7 584.8,1125.8 585.7,1121.9 586.5,1118.0 587.4,1114.1 588.2,1110.2 589.1,1106.3 589.9,1102.4 590.8,1098.5 591.6,1094.5 592.5,1090.6 593.4,1086.7 594.3,1082.9 595.3,1079.0 596.2,1075.1 597.2,1071.2 598.1,1067.3 599.1,1063.4 600.1,1059.6 601.1,1055.7 602.2,1051.8 603.3,1048.0 604.5,1044.2 605.7,1040.4 607.0,1036.6 608.4,1032.8 609.8,1029.1 611.2,1025.3 612.6,1021.6 614.2,1017.9 615.7,1014.2 617.3,1010.5 618.9,1006.9 620.5,1003.2 622.2,999.6 623.9,996.0 625.7,992.4 627.7,988.9 629.9,985.6 632.3,982.4 635.0,979.5 638.1,976.9 641.6,974.9 645.3,973.6 649.3,973.0 653.3,973.0 657.2,973.4 661.2,974.2 665.1,975.1 668.9,976.3 672.7,977.5 676.5,978.8 680.3,980.1 684.0,981.4 687.8,982.8 691.6,984.1 695.3,985.5 699.1,986.8 702.9,988.1 706.7,989.4 710.5,990.5 714.4,991.6 718.2,992.6 722.2,993.4 726.1,994.2 730.0,994.9 734.0,995.5 737.9,996.1 741.9,996.5 745.9,996.9 749.9,997.2 753.9,997.4 757.9,997.5 761.9,997.5 765.9,997.4 769.9,997.2 773.9,997.0 777.8,996.7 781.8,996.3 785.8,995.8 789.8,995.3 793.7,994.7 797.7,994.0 801.6,993.1 805.5,992.2 809.3,991.3 813.2,990.3 817.1,989.5 821.1,988.8 825.0,988.3 829.0,987.8 833.0,987.4 837.0,987.1 841.0,986.9 845.0,986.9 849.0,987.1 853.0,987.4 856.9,987.9 860.9,988.6 864.8,989.4 868.6,990.5 872.4,991.7 876.2,993.2 879.8,994.9 883.3,996.8 886.8,998.8 890.1,1001.0 893.5,1003.2 896.8,1005.4 900.1,1007.6 903.5,1009.8 906.8,1012.1 910.0,1014.4 913.3,1016.7 916.6,1019.0 919.8,1021.3 923.1,1023.6 926.3,1025.9 929.6,1028.2 932.9,1030.6 936.2,1032.9 939.4,1035.2 942.7,1037.4 946.0,1039.7 949.3,1042.0 952.6,1044.3 955.9,1046.5 959.2,1048.7 962.6,1050.9 965.9,1053.2 969.2,1055.4 972.6,1057.6 975.9,1059.8 979.2,1062.0 982.6,1064.2 985.9,1066.4 989.2,1068.6 992.6,1070.8 995.9,1073.0 999.3,1075.2 1002.6,1077.4 1005.9,1079.6 1009.3,1081.8 1012.6,1084.0 1015.9,1086.3 1019.2,1088.5 1022.5,1090.8 1025.8,1093.1 1029.0,1095.4 1032.2,1097.8 1035.4,1100.2 1038.6,1102.7 1041.8,1105.1 1044.9,1107.6 1048.1,1110.0 1051.3,1112.5 1054.4,1114.9 1057.6,1117.4 1060.8,1119.8 1064.0,1122.2 1067.2,1124.5 1070.5,1126.8 1073.8,1129.1 1077.1,1131.3 1080.5,1133.5 1083.9,1135.6 1087.3,1137.6 1090.8,1139.7 1094.2,1141.7 1097.7,1143.6 1101.2,1145.6 1104.7,1147.6 1108.1,1149.6 1111.6,1151.6 1115.0,1153.6 1118.4,1155.7 1121.8,1157.9 1125.1,1160.1 1128.4,1162.4 1131.6,1164.8 1134.9,1167.1 1138.1,1169.5 1141.2,1172.0 1144.4,1174.4 1147.5,1177.0 1150.6,1179.5 1153.6,1182.1 1156.6,1184.7 1159.6,1187.4 1162.6,1190.1 1165.5,1192.8 1168.4,1195.6 1171.3,1198.4 1174.1,1201.2 1176.9,1204.0 1179.7,1206.9 1182.5,1209.8 1185.2,1212.7 1187.9,1215.7 1190.5,1218.7 1193.1,1221.7 1195.7,1224.8 1198.2,1227.9 1200.7,1231.0 1203.1,1234.2 1205.5,1237.4 1207.8,1240.7 1210.0,1244.0 1212.2,1247.3 1214.4,1250.7 1216.5,1254.1 1218.7,1257.5 1220.8,1260.9 1222.9,1264.3 1225.0,1267.7 1227.1,1271.1 1229.2,1274.5 1231.4,1277.8 1233.5,1281.2 1235.8,1284.5 1238.0,1287.8 1240.3,1291.1 1242.7,1294.3 1245.1,1297.5 1247.6,1300.7 1250.1,1303.7 1252.8,1306.7 1255.5,1309.7 1258.2,1312.6 1261.0,1315.5 1263.8,1318.3 1266.7,1321.0 1269.6,1323.8 1272.6,1326.5 1275.6,1329.1 1278.6,1331.8 1281.7,1334.4 1284.7,1336.9 1287.8,1339.5 1290.9,1342.0 1294.0,1344.5 1297.1,1347.0 1300.2,1349.5 1303.4,1352.0 1306.5,1354.5 1309.7,1356.9 1312.9,1359.3 1316.2,1361.6 1319.4,1364.0 1322.7,1366.3 1326.0,1368.6 1329.3,1370.8 1332.6,1373.1 1335.9,1375.3 1339.2,1377.5 1342.5,1379.8 1345.9,1382.0 1349.2,1384.2 1352.5,1386.4 1355.9,1388.6 1359.2,1390.8 1362.6,1392.9 1365.9,1395.1 1369.3,1397.3 1372.7,1399.4 1376.1,1401.5 1379.5,1403.6 1382.9,1405.7 1386.3,1407.8 1389.7,1409.9 1393.2,1411.9 1396.6,1414.0 1400.0,1416.0 1403.5,1418.0 1407.0,1420.0 1410.4,1422.0 1413.9,1424.0 1417.4,1426.0 1420.9,1427.9 1424.4,1429.9 1427.9,1431.8 1431.4,1433.7 1434.9,1435.6 1438.4,1437.5 1442.0,1439.4 1445.5,1441.2 1449.1,1443.1 1452.6,1444.9 1456.2,1446.8 1459.7,1448.6 1463.3,1450.4 1466.9,1452.1 1470.5,1453.9 1474.1,1455.7 1477.7,1457.4 1481.3,1459.1 1484.9,1460.9 1488.5,1462.6 1492.1,1464.3 1495.8,1465.9 1499.4,1467.6 1503.0,1469.3 1506.7,1470.9 1510.3,1472.5 1514.0,1474.1 1517.7,1475.7 1521.3,1477.3 1525.0,1478.9 1528.7,1480.5 1532.4,1482.0 1536.1,1483.6 1539.8,1485.1 1543.5,1486.6 1547.2,1488.1 1550.9,1489.6 1554.6,1491.1 1558.3,1492.5 1562.1,1494.0 1565.8,1495.4 1569.5,1496.9 1573.3,1498.3 1577.0,1499.7 1580.8,1501.1 1584.5,1502.5 1588.3,1503.8 1592.0,1505.2 1595.8,1506.5 1599.6,1507.9 1603.3,1509.2 1607.1,1510.5 1610.9,1511.8 1614.7,1513.1 1618.5,1514.4 1622.3,1515.7 1626.1,1516.9 1629.9,1518.2 1633.7,1519.4 1637.5,1520.6 1641.3,1521.9 1645.1,1523.1 1648.9,1524.3 1652.7,1525.5 1656.6,1526.7 1660.4,1527.8 1664.2,1529.0 1668.0,1530.1 1671.9,1531.3 1675.7,1532.4 1679.5,1533.5 1683.4,1534.7 1687.2,1535.8 1691.1,1536.9 1694.9,1538.0 1698.8,1539.1 1702.6,1540.1 1706.5,1541.2 1710.3,1542.3 1714.2,1543.3 1718.1,1544.4 1721.9,1545.4 1725.8,1546.4 1729.6,1547.5 1733.5,1548.5 1737.4,1549.5 1741.3,1550.5 1745.1,1551.5 1749.0,1552.5 1752.9,1553.5 1756.8,1554.4 1760.6,1555.4 1764.5,1556.4 1768.4,1557.4 1772.3,1558.3 1776.2,1559.3 1780.1,1560.2 1783.9,1561.1 1787.8,1562.1 1791.7,1563.0 1795.6,1563.9 1799.5,1564.9 1803.4,1565.8 1807.3,1566.7 1811.2,1567.6 1815.1,1568.5 1819.0,1569.4 1822.9,1570.3 1826.8,1571.2 1830.7,1572.1 1834.6,1573.0 1838.5,1573.9 1842.4,1574.8 1846.3,1575.7 1850.2,1576.6 1854.1,1577.4 1858.0,1578.3 1861.9,1579.2 1865.8,1580.0 1869.7,1580.9 1873.6,1581.8 1877.5,1582.6 1881.4,1583.5 1885.3,1584.3 1889.2,1585.2 1893.1,1586.0 1897.1,1586.9 1901.0,1587.7 1904.9,1588.5 1908.8,1589.4 1912.7,1590.2 1916.6,1591.0 1920.5,1591.9 1924.4,1592.7 1928.4,1593.5 1932.3,1594.3 1936.2,1595.1 1940.1,1595.9 1944.0,1596.8 1947.9,1597.6 1951.9,1598.4 1955.8,1599.2 1959.7,1600.0 1963.6,1600.8 1967.5,1601.6 1971.5,1602.3 1975.4,1603.1 1979.3,1603.9 1983.2,1604.7 1987.2,1605.5 1991.1,1606.3 1995.0,1607.0 1998.9,1607.8 2002.8,1608.6 2006.8,1609.4 2010.7,1610.1 2014.6,1610.9 2018.6,1611.6 2022.5,1612.4 2026.4,1613.2 2030.3,1613.9 2034.3,1614.7 2038.2,1615.4 2042.1,1616.2 2046.1,1616.9 2050.0,1617.7 2053.9,1618.4 2057.8,1619.2 2061.8,1619.9 2065.7,1620.6 2069.6,1621.4 2073.6,1622.1 2077.5,1622.8 2081.4,1623.6 2085.4,1624.3 2089.3,1625.0 2093.2,1625.7 2097.2,1626.5 2101.1,1627.2 2105.0,1627.9 2109.0,1628.6 2112.9,1629.3 2116.8,1630.1 2120.8,1630.8 2124.7,1631.5 2128.6,1632.2 2132.6,1632.9 2136.5,1633.6 2140.5,1634.3 2144.4,1635.0 2148.3,1635.7 2152.3,1636.4 2156.2,1637.1 2160.1,1637.8 2164.1,1638.5 2168.0,1639.2 2172.0,1639.9 2175.9,1640.6 2179.8,1641.3 2183.8,1642.0 2187.7,1642.7 2191.7,1643.4 2195.6,1644.1 2199.5,1644.8 2203.5,1645.5 2207.4,1646.1 2211.4,1646.8 2215.3,1647.5 2219.2,1648.2 2223.2,1648.9 2227.1,1649.6 2228.1,1649.7"/>
<path stroke="#8C8C00" d="M146.7,1668.5 150.7,1668.5 154.7,1668.5 158.7,1668.5 162.7,1668.5 166.7,1668.5 170.7,1668.5 174.7,1668.5 178.7,1668.5 182.7,1668.5 186.7,1668.5 190.7,1668.5 194.7,1668.4 198.7,1668.4 202.7,1668.3 206.7,1668.3 210.7,1668.2 214.7,1668.1 218.7,1668.0 222.7,1667.9 226.7,1667.8 230.7,1667.6 234.7,1667.5 238.7,1667.3 242.7,1667.1 246.7,1666.9 250.7,1666.7 254.7,1666.5 258.7,1666.2 262.7,1665.9 266.6,1665.5 270.6,1665.1 274.6,1664.7 278.6,1664.2 282.5,1663.6 286.5,1663.1 290.4,1662.4 294.4,1661.7 298.3,1661.0 302.2,1660.2 306.1,1659.3 310.0,1658.4 313.9,1657.3 317.7,1656.1 321.5,1654.8 325.1,1653.2 328.8,1651.5 332.3,1649.7 335.8,1647.7 339.3,1645.7 342.7,1643.6 345.9,1641.2 348.8,1638.5 351.4,1635.4 353.5,1632.1 355.3,1628.5 357.0,1624.9 358.4,1621.1 359.9,1617.4 361.3,1613.6 362.6,1609.9 364.0,1606.1 365.3,1602.3 366.5,1598.5 367.7,1594.7 368.8,1590.9 369.9,1587.0 371.0,1583.2 372.1,1579.3 373.1,1575.5 374.1,1571.6 375.1,1567.7 376.0,1563.8 376.9,1559.9 377.9,1556.0 378.8,1552.1 379.7,1548.2 380.6,1544.4 381.5,1540.5 382.4,1536.6 383.3,1532.7 384.2,1528.8 385.1,1524.9 386.0,1521.0 386.9,1517.1 387.8,1513.2 388.7,1509.3 389.6,1505.4 390.5,1501.5 391.5,1497.6 392.4,1493.7 393.4,1489.8 394.3,1485.9 395.3,1482.1 396.3,1478.2 397.2,1474.3 398.2,1470.4 399.2,1466.5 400.2,1462.7 401.2,1458.8 402.2,1454.9 403.2,1451.1 404.2,1447.2 405.2,1443.3 406.1,1439.4 407.1,1435.5 408.1,1431.7 409.1,1427.8 410.4,1424.0 411.8,1420.3 413.5,1416.7 415.6,1413.2 418.1,1410.1 421.0,1407.4 424.4,1405.3 428.1,1403.7 432.0,1402.8 436.0,1402.4 439.9,1402.5 443.9,1402.9 447.9,1403.6 451.8,1404.5 455.6,1405.5 459.5,1406.5 463.4,1407.5 467.3,1408.3 471.3,1408.9 475.2,1409.1 479.2,1409.0 483.2,1408.5 487.1,1407.6 490.9,1406.5 494.7,1405.1 498.3,1403.5 501.9,1401.6 505.3,1399.5 508.6,1397.2 511.7,1394.7 514.7,1392.1 517.5,1389.3 520.3,1386.4 522.9,1383.3 525.5,1380.3 527.9,1377.1 530.4,1373.9 532.7,1370.7 535.0,1367.4 537.3,1364.1 539.5,1360.8 541.6,1357.4 543.8,1354.0 545.8,1350.6 547.9,1347.2 549.9,1343.7 551.8,1340.2 553.6,1336.7 555.4,1333.1 557.2,1329.5 558.9,1325.8 560.5,1322.2 562.1,1318.5 563.7,1314.9 565.3,1311.2 566.9,1307.5 568.4,1303.8 569.9,1300.1 571.4,1296.4 572.9,1292.7 574.4,1289.0 575.9,1285.3 577.5,1281.6 579.1,1278.0 580.8,1274.3 582.4,1270.7 584.1,1267.0 585.6,1263.4 587.2,1259.7 588.6,1255.9 589.9,1252.1 591.2,1248.4 592.5,1244.6 593.7,1240.8 594.9,1236.9 596.1,1233.1 597.3,1229.3 598.5,1225.5 599.8,1221.7 601.0,1217.9 602.2,1214.1 603.4,1210.3 604.6,1206.5 605.8,1202.6 607.0,1198.8 608.3,1195.0 609.5,1191.2 610.8,1187.4 612.1,1183.7 613.5,1179.9 615.0,1176.2 616.5,1172.5 618.1,1168.8 619.7,1165.1 621.3,1161.5 623.0,1157.9 624.8,1154.3 626.6,1150.7 628.5,1147.2 630.7,1143.8 633.0,1140.6 635.5,1137.5 638.4,1134.7 641.5,1132.2 644.8,1130.0 648.4,1128.1 652.0,1126.5 655.7,1125.0 659.5,1123.6 663.3,1122.3 667.1,1121.1 670.9,1120.1 674.8,1119.1 678.7,1118.2 682.6,1117.4 686.5,1116.6 690.5,1115.8 694.4,1115.0 698.3,1114.1 702.2,1113.2 706.1,1112.2 709.9,1111.1 713.8,1110.1 717.6,1109.0 721.5,1107.8 725.3,1106.7 729.1,1105.5 732.9,1104.4 736.8,1103.2 740.6,1102.0 744.4,1100.8 748.2,1099.6 752.0,1098.4 755.9,1097.2 759.7,1096.0 763.5,1094.9 767.3,1093.7 771.1,1092.5 774.9,1091.2 778.7,1090.0 782.5,1088.7 786.3,1087.3 790.0,1085.9 793.7,1084.4 797.4,1082.9 801.1,1081.2 804.7,1079.6 808.3,1077.9 812.0,1076.3 815.7,1074.7 819.4,1073.2 823.1,1071.8 826.9,1070.5 830.7,1069.3 834.6,1068.2 838.4,1067.2 842.3,1066.2 846.2,1065.3 850.1,1064.5 854.1,1063.8 858.0,1063.2 862.0,1062.7 866.0,1062.3 870.0,1062.2 874.0,1062.2 878.0,1062.3 882.0,1062.6 885.9,1063.0 889.9,1063.5 893.9,1064.0 897.8,1064.7 901.8,1065.4 905.7,1066.2 909.6,1067.0 913.5,1067.9 917.4,1068.9 921.2,1070.0 925.0,1071.2 928.8,1072.4 932.6,1073.7 936.4,1074.9 940.3,1076.1 944.1,1077.2 948.0,1078.2 951.9,1079.1 955.8,1079.8 959.8,1080.5 963.7,1081.0 967.7,1081.6 971.6,1082.1 975.6,1082.7 979.5,1083.3 983.5,1084.1 987.3,1085.1 991.2,1086.2 995.0,1087.4 998.8,1088.8 1002.5,1090.2 1006.2,1091.7 1009.9,1093.3 1013.6,1094.9 1017.2,1096.5 1020.9,1098.1 1024.5,1099.8 1028.1,1101.5 1031.7,1103.2 1035.3,1105.0 1038.9,1106.8 1042.5,1108.6 1046.0,1110.4 1049.6,1112.3 1053.1,1114.1 1056.6,1116.0 1060.2,1117.8 1063.8,1119.6 1067.4,1121.4 1071.0,1123.1 1074.6,1124.8 1078.3,1126.4 1082.0,1127.9 1085.7,1129.4 1089.4,1130.8 1093.2,1132.2 1096.9,1133.6 1100.7,1135.0 1104.4,1136.4 1108.2,1137.8 1111.9,1139.3 1115.6,1140.8 1119.2,1142.4 1122.9,1144.1 1126.5,1145.8 1130.0,1147.6 1133.6,1149.5 1137.1,1151.4 1140.5,1153.4 1144.0,1155.5 1147.4,1157.6 1150.8,1159.7 1154.1,1161.9 1157.5,1164.1 1160.8,1166.3 1164.1,1168.6 1167.3,1170.9 1170.6,1173.2 1173.8,1175.6 1177.1,1177.9 1180.2,1180.4 1183.4,1182.8 1186.5,1185.4 1189.6,1187.9 1192.6,1190.6 1195.5,1193.3 1198.4,1196.0 1201.2,1198.9 1204.0,1201.8 1206.7,1204.7 1209.3,1207.7 1211.9,1210.8 1214.5,1213.9 1217.0,1217.0 1219.5,1220.1 1221.9,1223.3 1224.4,1226.4 1226.8,1229.6 1229.2,1232.8 1231.6,1236.0 1234.1,1239.1 1236.5,1242.3 1239.0,1245.5 1241.4,1248.6 1243.9,1251.7 1246.5,1254.8 1249.0,1257.9 1251.6,1261.0 1254.2,1264.0 1256.8,1267.1 1259.3,1270.2 1261.9,1273.2 1264.5,1276.3 1267.1,1279.3 1269.7,1282.4 1272.3,1285.4 1274.9,1288.4 1277.5,1291.4 1280.2,1294.4 1282.9,1297.4 1285.6,1300.3 1288.3,1303.2 1291.1,1306.1 1294.0,1308.9 1296.8,1311.7 1299.8,1314.4 1302.8,1317.1 1305.8,1319.7 1308.9,1322.2 1312.0,1324.7 1315.1,1327.2 1318.3,1329.6 1321.6,1332.0 1324.8,1334.3 1328.1,1336.6 1331.4,1338.9 1334.6,1341.2 1337.9,1343.4 1341.2,1345.7 1344.5,1348.0 1347.8,1350.3 1351.1,1352.5 1354.4,1354.8 1357.7,1357.1 1361.0,1359.3 1364.3,1361.6 1367.6,1363.8 1370.9,1366.1 1374.3,1368.3 1377.6,1370.5 1381.0,1372.7 1384.3,1374.8 1387.7,1377.0 1391.0,1379.2 1394.4,1381.3 1397.8,1383.4 1401.2,1385.6 1404.6,1387.7 1408.0,1389.8 1411.4,1391.8 1414.8,1393.9 1418.3,1396.0 1421.7,1398.0 1425.1,1400.1 1428.6,1402.1 1432.1,1404.1 1435.5,1406.1 1439.0,1408.1 1442.5,1410.1 1446.0,1412.0 1449.4,1414.0 1452.9,1415.9 1456.5,1417.8 1460.0,1419.8 1463.5,1421.7 1467.0,1423.5 1470.5,1425.4 1474.1,1427.3 1477.6,1429.1 1481.2,1431.0 1484.7,1432.8 1488.3,1434.6 1491.9,1436.4 1495.4,1438.2 1499.0,1440.0 1502.6,1441.8 1506.2,1443.5 1509.8,1445.3 1513.4,1447.0 1517.0,1448.8 1520.6,1450.5 1524.2,1452.2 1527.9,1453.8 1531.5,1455.5 1535.1,1457.2 1538.8,1458.8 1542.4,1460.5 1546.1,1462.1 1549.7,1463.7 1553.4,1465.3 1557.1,1466.9 1560.7,1468.5 1564.4,1470.1 1568.1,1471.7 1571.8,1473.2 1575.5,1474.8 1579.2,1476.3 1582.9,1477.8 1586.6,1479.3 1590.3,1480.8 1594.0,1482.3 1597.7,1483.8 1601.4,1485.2 1605.2,1486.7 1608.9,1488.2 1612.6,1489.6 1616.4,1491.0 1620.1,1492.4 1623.9,1493.8 1627.6,1495.2 1631.4,1496.6 1635.1,1498.0 1638.9,1499.4 1642.6,1500.7 1646.4,1502.1 1650.2,1503.4 1653.9,1504.8 1657.7,1506.1 1661.5,1507.4 1665.3,1508.7 1669.0,1510.0 1672.8,1511.3 1676.6,1512.6 1680.4,1513.8 1684.2,1515.1 1688.0,1516.3 1691.8,1517.6 1695.6,1518.8 1699.4,1520.1 1703.2,1521.3 1707.0,1522.5 1710.8,1523.7 1714.7,1524.9 1718.5,1526.1 1722.3,1527.3 1726.1,1528.5 1729.9,1529.7 1733.8,1530.8 1737.6,1532.0 1741.4,1533.2 1745.3,1534.3 1749.1,1535.5 1752.9,1536.6 1756.8,1537.7 1760.6,1538.9 1764.4,1540.0 1768.3,1541.1 1772.1,1542.2 1776.0,1543.3 1779.8,1544.4 1783.6,1545.5 1787.5,1546.6 1791.3,1547.7 1795.2,1548.8 1799.0,1549.9 1802.9,1551.0 1806.7,1552.1 1810.6,1553.1 1814.5,1554.2 1818.3,1555.3 1822.2,1556.3 1826.0,1557.4 1829.9,1558.4 1833.7,1559.5 1837.6,1560.5 1841.5,1561.6 1845.3,1562.6 1849.2,1563.7 1853.1,1564.7 1856.9,1565.7 1860.8,1566.8 1864.6,1567.8 1868.5,1568.8 1872.4,1569.8 1876.3,1570.8 1880.1,1571.9 1884.0,1572.9 1887.9,1573.9 1891.7,1574.9 1895.6,1575.9 1899.5,1576.9 1903.4,1577.9 1907.2,1578.8 1911.1,1579.8 1915.0,1580.8 1918.9,1581.8 1922.7,1582.8 1926.6,1583.7 1930.5,1584.7 1934.4,1585.7 1938.3,1586.6 1942.2,1587.6 1946.0,1588.5 1949.9,1589.5 1953.8,1590.4 1957.7,1591.4 1961.6,1592.3 1965.5,1593.2 1969.4,1594.2 1973.3,1595.1 1977.2,1596.0 1981.1,1596.9 1984.9,1597.8 1988.8,1598.7 1992.7,1599.6 1996.6,1600.5 2000.5,1601.4 2004.4,1602.3 2008.3,1603.2 2012.2,1604.1 2016.1,1605.0 2020.0,1605.9 2023.9,1606.7 2027.8,1607.6 2031.8,1608.5 2035.7,1609.3 2039.6,1610.2 2043.5,1611.0 2047.4,1611.9 2051.3,1612.7 2055.2,1613.6 2059.1,1614.4 2063.0,1615.2 2066.9,1616.1 2070.9,1616.9 2074.8,1617.7 2078.7,1618.5 2082.6,1619.3 2086.5,1620.1 2090.4,1620.9 2094.4,1621.7 2098.3,1622.5 2102.2,1623.3 2106.1,1624.1 2110.1,1624.9 2114.0,1625.7 2117.9,1626.4 2121.8,1627.2 2125.8,1628.0 2129.7,1628.7 2133.6,1629.5 2137.5,1630.2 2141.5,1631.0 2145.4,1631.7 2149.3,1632.4 2153.3,1633.2 2157.2,1633.9 2161.1,1634.6 2165.1,1635.3 2169.0,1636.0 2172.9,1636.7 2176.9,1637.4 2180.8,1638.1 2184.8,1638.8 2188.7,1639.5 2192.6,1640.2 2196.6,1640.9 2200.5,1641.5 2204.5,1642.2 2208.4,1642.9 2212.4,1643.5 2216.3,1644.2 2220.3,1644.8 2224.2,1645.5 2228.2,1646.1 2228.6,1646.2"/>
<path stroke="#FF6600" d="M146.7,1669.0 150.7,1669.0 154.7,1669.0 158.7,1669.0 162.7,1669.0 166.7,1669.0 170.7,1669.0 174.7,1669.0 178.7,1669.0 182.7,1669.0 186.7,1669.0 190.7,1669.0 194.7,1668.9 198.7,1668.9 202.7,1668.8 206.7,1668.7 210.7,1668.7 214.7,1668.6 218.7,1668.5 222.7,1668.4 226.7,1668.4 230.7,1668.3 234.7,1668.2 238.7,1668.1 242.7,1668.0 246.7,1667.9 250.7,1667.8 254.7,1667.7 258.7,1667.6 262.7,1667.4 266.7,1667.3 270.7,1667.0 274.7,1666.8 278.7,1666.4 282.7,1666.1 286.6,1665.7 290.6,1665.3 294.6,1664.8 298.6,1664.4 302.5,1663.9 306.5,1663.5 310.5,1663.0 314.4,1662.4 318.4,1661.8 322.3,1661.1 326.3,1660.4 330.2,1659.6 334.1,1658.7 338.0,1657.7 341.8,1656.6 345.6,1655.4 349.4,1654.1 353.1,1652.6 356.7,1650.8 360.2,1648.8 363.4,1646.5 366.5,1643.9 369.2,1641.0 371.8,1637.9 374.1,1634.7 376.2,1631.3 378.1,1627.8 379.9,1624.2 381.7,1620.6 383.3,1617.0 384.9,1613.3 386.5,1609.6 388.0,1605.9 389.4,1602.2 390.8,1598.4 392.1,1594.6 393.4,1590.8 394.6,1587.0 395.7,1583.2 396.9,1579.4 398.0,1575.5 399.1,1571.7 400.2,1567.8 401.3,1564.0 402.4,1560.2 403.6,1556.3 404.7,1552.5 405.8,1548.6 406.9,1544.8 408.1,1541.0 409.3,1537.2 410.6,1533.4 412.0,1529.6 413.5,1525.9 415.2,1522.3 417.2,1518.9 419.7,1515.7 422.5,1512.9 425.8,1510.6 429.4,1508.9 433.3,1507.9 437.2,1507.4 441.2,1507.3 445.2,1507.6 449.2,1507.8 453.2,1507.8 457.2,1507.5 461.1,1506.8 465.1,1506.0 468.9,1505.1 472.8,1504.1 476.6,1502.8 480.3,1501.3 483.9,1499.5 487.3,1497.5 490.7,1495.3 493.8,1492.9 496.9,1490.3 499.9,1487.6 502.9,1484.9 505.8,1482.2 508.6,1479.4 511.5,1476.6 514.2,1473.7 517.0,1470.8 519.6,1467.8 522.2,1464.7 524.8,1461.7 527.3,1458.5 529.7,1455.4 532.1,1452.2 534.5,1448.9 536.8,1445.7 539.0,1442.4 541.2,1439.0 543.4,1435.7 545.5,1432.3 547.6,1428.8 549.6,1425.4 551.6,1421.9 553.5,1418.4 555.3,1414.9 557.2,1411.3 558.9,1407.7 560.7,1404.1 562.4,1400.5 564.1,1396.9 565.8,1393.2 567.4,1389.6 569.1,1385.9 570.7,1382.3 572.2,1378.6 573.8,1374.9 575.4,1371.3 577.0,1367.6 578.7,1364.0 580.4,1360.3 582.0,1356.7 583.6,1353.0 585.2,1349.3 586.7,1345.6 588.1,1341.9 589.5,1338.1 590.8,1334.4 592.2,1330.6 593.6,1326.9 595.0,1323.1 596.5,1319.4 598.0,1315.7 599.6,1312.1 601.3,1308.4 603.0,1304.8 604.7,1301.2 606.4,1297.6 608.1,1293.9 609.8,1290.3 611.5,1286.7 613.2,1283.1 614.9,1279.4 616.6,1275.8 618.3,1272.2 620.1,1268.6 622.0,1265.1 623.9,1261.6 625.9,1258.1 627.9,1254.7 630.2,1251.4 632.6,1248.2 635.2,1245.1 638.0,1242.3 641.0,1239.6 644.1,1237.1 647.3,1234.7 650.5,1232.3 653.8,1230.1 657.1,1227.8 660.4,1225.6 663.7,1223.4 667.1,1221.2 670.4,1219.0 673.8,1216.9 677.2,1214.8 680.7,1212.7 684.1,1210.7 687.5,1208.6 691.0,1206.5 694.4,1204.4 697.7,1202.3 701.1,1200.1 704.4,1197.9 707.8,1195.7 711.1,1193.5 714.4,1191.2 717.7,1189.0 721.0,1186.7 724.3,1184.5 727.7,1182.3 731.0,1180.1 734.4,1177.9 737.8,1175.8 741.2,1173.7 744.6,1171.7 748.0,1169.6 751.5,1167.6 754.9,1165.6 758.4,1163.5 761.8,1161.5 765.3,1159.4 768.7,1157.3 772.1,1155.2 775.4,1153.1 778.8,1150.9 782.1,1148.7 785.4,1146.4 788.7,1144.2 792.1,1142.0 795.4,1139.7 798.7,1137.5 802.0,1135.2 805.3,1133.0 808.7,1130.9 812.1,1128.7 815.4,1126.5 818.8,1124.4 822.2,1122.2 825.5,1120.1 828.9,1117.9 832.3,1115.9 835.8,1113.8 839.3,1111.9 842.8,1110.0 846.3,1108.1 850.0,1106.4 853.6,1104.8 857.3,1103.2 861.0,1101.7 864.7,1100.2 868.5,1098.8 872.2,1097.6 876.1,1096.3 879.9,1095.2 883.8,1094.2 887.7,1093.3 891.6,1092.5 895.5,1091.8 899.5,1091.2 903.4,1090.7 907.4,1090.3 911.4,1089.9 915.4,1089.5 919.4,1089.1 923.3,1088.7 927.3,1088.4 931.3,1088.0 935.3,1087.7 939.3,1087.4 943.3,1087.2 947.3,1086.9 951.3,1086.7 955.3,1086.5 959.3,1086.3 963.3,1086.2 967.3,1086.0 971.2,1085.9 975.2,1085.8 979.2,1085.6 983.2,1085.6 987.2,1085.5 991.2,1085.5 995.2,1085.5 999.2,1085.5 1003.2,1085.6 1007.2,1085.7 1011.2,1085.9 1015.2,1086.2 1019.2,1086.5 1023.2,1086.9 1027.2,1087.2 1031.2,1087.7 1035.1,1088.1 1039.1,1088.6 1043.1,1089.1 1047.0,1089.6 1051.0,1090.2 1055.0,1090.8 1058.9,1091.4 1062.8,1092.1 1066.8,1092.8 1070.7,1093.5 1074.7,1094.2 1078.6,1094.9 1082.5,1095.7 1086.4,1096.6 1090.3,1097.5 1094.2,1098.5 1098.1,1099.5 1101.9,1100.6 1105.7,1101.8 1109.5,1103.0 1113.3,1104.3 1117.1,1105.7 1120.8,1107.1 1124.5,1108.5 1128.3,1110.0 1131.9,1111.6 1135.6,1113.2 1139.3,1114.8 1142.9,1116.5 1146.5,1118.2 1150.1,1120.0 1153.7,1121.8 1157.2,1123.6 1160.8,1125.5 1164.2,1127.4 1167.7,1129.5 1171.1,1131.6 1174.5,1133.7 1177.7,1136.0 1181.0,1138.4 1184.1,1140.8 1187.2,1143.4 1190.3,1146.0 1193.2,1148.7 1196.2,1151.4 1199.1,1154.1 1201.9,1156.9 1204.8,1159.7 1207.6,1162.6 1210.3,1165.5 1213.0,1168.4 1215.7,1171.4 1218.3,1174.5 1220.8,1177.6 1223.2,1180.8 1225.6,1184.0 1227.8,1187.3 1229.9,1190.7 1231.9,1194.2 1233.8,1197.7 1235.6,1201.3 1237.5,1204.8 1239.4,1208.3 1241.3,1211.9 1243.2,1215.3 1245.3,1218.8 1247.4,1222.2 1249.7,1225.5 1252.0,1228.7 1254.3,1232.0 1256.8,1235.1 1259.2,1238.3 1261.7,1241.4 1264.2,1244.6 1266.7,1247.7 1269.3,1250.7 1271.9,1253.8 1274.5,1256.8 1277.2,1259.8 1279.9,1262.8 1282.6,1265.7 1285.3,1268.6 1288.0,1271.5 1290.8,1274.4 1293.7,1277.2 1296.5,1280.0 1299.4,1282.8 1302.3,1285.5 1305.3,1288.2 1308.4,1290.8 1311.4,1293.3 1314.6,1295.8 1317.7,1298.3 1320.9,1300.7 1324.1,1303.1 1327.3,1305.5 1330.6,1307.8 1333.8,1310.1 1337.1,1312.4 1340.4,1314.8 1343.6,1317.1 1346.9,1319.4 1350.1,1321.7 1353.4,1324.1 1356.6,1326.4 1359.9,1328.7 1363.1,1331.1 1366.4,1333.4 1369.7,1335.7 1373.0,1337.9 1376.2,1340.2 1379.5,1342.5 1382.8,1344.7 1386.1,1347.0 1389.5,1349.2 1392.8,1351.5 1396.1,1353.7 1399.5,1355.9 1402.8,1358.1 1406.1,1360.3 1409.5,1362.4 1412.9,1364.6 1416.2,1366.7 1419.6,1368.9 1423.0,1371.0 1426.4,1373.1 1429.8,1375.2 1433.2,1377.3 1436.6,1379.4 1440.0,1381.5 1443.5,1383.6 1446.9,1385.6 1450.3,1387.7 1453.8,1389.7 1457.2,1391.8 1460.7,1393.8 1464.1,1395.8 1467.6,1397.8 1471.1,1399.8 1474.5,1401.7 1478.0,1403.7 1481.5,1405.6 1485.0,1407.6 1488.5,1409.5 1492.0,1411.4 1495.5,1413.3 1499.1,1415.2 1502.6,1417.1 1506.1,1419.0 1509.7,1420.9 1513.2,1422.7 1516.7,1424.6 1520.3,1426.4 1523.9,1428.2 1527.4,1430.1 1531.0,1431.9 1534.6,1433.7 1538.2,1435.4 1541.7,1437.2 1545.3,1439.0 1548.9,1440.7 1552.5,1442.5 1556.1,1444.2 1559.7,1445.9 1563.4,1447.6 1567.0,1449.3 1570.6,1451.0 1574.2,1452.7 1577.9,1454.4 1581.5,1456.1 1585.1,1457.7 1588.8,1459.3 1592.4,1461.0 1596.1,1462.6 1599.8,1464.2 1603.4,1465.8 1607.1,1467.4 1610.8,1469.0 1614.4,1470.6 1618.1,1472.1 1621.8,1473.7 1625.5,1475.2 1629.2,1476.8 1632.9,1478.3 1636.6,1479.8 1640.3,1481.3 1644.0,1482.8 1647.7,1484.3 1651.4,1485.8 1655.1,1487.3 1658.9,1488.7 1662.6,1490.2 1666.3,1491.7 1670.1,1493.1 1673.8,1494.5 1677.5,1495.9 1681.3,1497.4 1685.0,1498.8 1688.8,1500.2 1692.5,1501.5 1696.3,1502.9 1700.0,1504.3 1703.8,1505.7 1707.5,1507.0 1711.3,1508.4 1715.1,1509.7 1718.8,1511.1 1722.6,1512.4 1726.4,1513.7 1730.2,1515.0 1734.0,1516.3 1737.7,1517.6 1741.5,1518.9 1745.3,1520.2 1749.1,1521.5 1752.9,1522.7 1756.7,1524.0 1760.5,1525.3 1764.3,1526.5 1768.1,1527.7 1771.9,1529.0 1775.7,1530.2 1779.5,1531.4 1783.3,1532.6 1787.1,1533.8 1791.0,1535.0 1794.8,1536.2 1798.6,1537.4 1802.4,1538.6 1806.2,1539.8 1810.1,1540.9 1813.9,1542.1 1817.7,1543.3 1821.6,1544.4 1825.4,1545.5 1829.2,1546.7 1833.1,1547.8 1836.9,1548.9 1840.7,1550.0 1844.6,1551.2 1848.4,1552.3 1852.3,1553.4 1856.1,1554.5 1860.0,1555.5 1863.8,1556.6 1867.7,1557.7 1871.5,1558.8 1875.4,1559.8 1879.2,1560.9 1883.1,1562.0 1887.0,1563.0 1890.8,1564.0 1894.7,1565.1 1898.6,1566.1 1902.4,1567.2 1906.3,1568.2 1910.2,1569.2 1914.0,1570.2 1917.9,1571.2 1921.8,1572.2 1925.6,1573.2 1929.5,1574.2 1933.4,1575.2 1937.3,1576.2 1941.1,1577.2 1945.0,1578.2 1948.9,1579.1 1952.8,1580.1 1956.7,1581.1 1960.5,1582.0 1964.4,1583.0 1968.3,1584.0 1972.2,1584.9 1976.1,1585.8 1980.0,1586.8 1983.9,1587.7 1987.7,1588.7 1991.6,1589.6 1995.5,1590.5 1999.4,1591.5 2003.3,1592.4 2007.2,1593.3 2011.1,1594.2 2015.0,1595.1 2018.9,1596.0 2022.8,1597.0 2026.7,1597.9 2030.6,1598.8 2034.5,1599.7 2038.4,1600.6 2042.3,1601.5 2046.2,1602.3 2050.1,1603.2 2054.0,1604.1 2057.9,1605.0 2061.8,1605.9 2065.7,1606.8 2069.6,1607.7 2073.5,1608.5 2077.4,1609.4 2081.3,1610.3 2085.2,1611.2 2089.1,1612.0 2093.0,1612.9 2096.9,1613.8 2100.8,1614.6 2104.7,1615.5 2108.6,1616.4 2112.5,1617.2 2116.4,1618.1 2120.3,1619.0 2124.2,1619.8 2128.1,1620.7 2132.0,1621.5 2136.0,1622.4 2139.9,1623.3 2143.8,1624.1 2147.7,1625.0 2151.6,1625.8 2155.5,1626.7 2159.4,1627.5 2163.3,1628.4 2167.2,1629.3 2171.1,1630.1 2175.0,1631.0 2178.9,1631.8 2182.8,1632.7 2186.7,1633.5 2190.7,1634.4 2194.6,1635.2 2198.5,1636.1 2202.4,1637.0 2206.3,1637.8 2210.2,1638.7 2214.1,1639.5 2218.0,1640.4 2221.9,1641.3 2225.8,1642.1 2228.5,1642.7"/>
<path stroke="#4198CF" d="M146.7,1669.5 150.7,1669.5 154.7,1669.5 158.7,1669.5 162.7,1669.5 166.7,1669.5 170.7,1669.5 174.7,1669.5 178.7,1669.5 182.7,1669.5 186.7,1669.5 190.7,1669.5 194.7,1669.4 198.7,1669.3 202.7,1669.3 206.7,1669.2 210.7,1669.1 214.7,1669.1 218.7,1669.0 222.7,1669.0 226.7,1669.0 230.7,1668.9 234.7,1668.9 238.7,1668.9 242.7,1668.9 246.7,1668.9 250.7,1668.8 254.7,1668.7 258.7,1668.6 262.7,1668.4 266.7,1668.2 270.7,1668.0 274.7,1667.8 278.7,1667.6 282.7,1667.3 286.7,1667.0 290.7,1666.7 294.6,1666.4 298.6,1666.0 302.6,1665.7 306.6,1665.3 310.6,1664.9 314.6,1664.5 318.5,1664.0 322.5,1663.5 326.4,1662.9 330.4,1662.2 334.3,1661.5 338.2,1660.7 342.2,1659.9 346.0,1659.0 349.9,1657.9 353.7,1656.7 357.5,1655.3 361.1,1653.7 364.7,1651.9 368.1,1649.7 371.2,1647.3 374.2,1644.6 376.9,1641.7 379.4,1638.5 381.6,1635.2 383.7,1631.8 385.7,1628.3 387.5,1624.8 389.3,1621.2 391.0,1617.6 392.6,1613.9 394.2,1610.2 395.6,1606.5 397.1,1602.8 398.5,1599.0 399.9,1595.3 401.4,1591.6 402.8,1587.8 404.2,1584.1 405.7,1580.4 407.1,1576.6 408.7,1573.0 410.5,1569.4 412.7,1566.1 415.2,1563.0 418.1,1560.2 421.3,1557.8 424.8,1555.8 428.5,1554.4 432.4,1553.5 436.4,1553.1 440.4,1552.9 444.4,1552.7 448.4,1552.5 452.3,1552.1 456.3,1551.6 460.3,1550.9 464.2,1550.1 468.1,1549.2 471.9,1548.1 475.7,1546.8 479.3,1545.2 482.8,1543.2 486.1,1540.9 489.3,1538.5 492.4,1536.0 495.5,1533.5 498.5,1530.8 501.5,1528.1 504.3,1525.4 507.1,1522.5 509.8,1519.6 512.6,1516.6 515.4,1513.8 518.4,1511.2 521.5,1508.6 524.6,1506.1 527.7,1503.5 530.7,1500.9 533.7,1498.2 536.5,1495.4 539.3,1492.6 542.0,1489.6 544.5,1486.5 547.0,1483.3 549.4,1480.1 551.7,1476.9 554.0,1473.6 556.2,1470.3 558.4,1466.9 560.5,1463.5 562.5,1460.1 564.6,1456.7 566.8,1453.3 569.1,1450.0 571.4,1446.8 573.8,1443.6 576.2,1440.4 578.5,1437.1 580.6,1433.7 582.6,1430.2 584.4,1426.6 586.1,1423.0 587.7,1419.4 589.2,1415.6 590.6,1411.9 592.0,1408.1 593.2,1404.3 594.3,1400.5 595.4,1396.7 596.4,1392.8 597.3,1388.9 598.1,1385.0 599.0,1381.1 599.8,1377.2 600.7,1373.2 601.6,1369.3 602.5,1365.4 603.4,1361.6 604.4,1357.7 605.4,1353.8 606.6,1350.0 607.8,1346.2 609.2,1342.4 610.6,1338.7 612.2,1335.0 613.9,1331.4 615.7,1327.8 617.6,1324.3 619.5,1320.8 621.5,1317.3 623.6,1313.9 625.8,1310.5 628.0,1307.2 630.3,1303.9 632.6,1300.7 635.1,1297.5 637.6,1294.4 640.2,1291.4 642.9,1288.4 645.6,1285.5 648.4,1282.7 651.3,1279.9 654.2,1277.2 657.2,1274.5 660.2,1271.8 663.2,1269.1 666.2,1266.5 669.2,1264.0 672.3,1261.4 675.5,1258.9 678.6,1256.5 681.8,1254.1 685.0,1251.7 688.3,1249.3 691.5,1247.0 694.7,1244.6 697.9,1242.2 701.1,1239.8 704.3,1237.4 707.6,1235.0 710.8,1232.7 714.0,1230.3 717.2,1228.0 720.5,1225.6 723.7,1223.2 726.9,1220.9 730.2,1218.5 733.4,1216.2 736.6,1213.8 739.8,1211.4 743.1,1209.1 746.3,1206.7 749.5,1204.3 752.8,1202.0 756.0,1199.6 759.2,1197.3 762.4,1194.9 765.7,1192.5 768.9,1190.2 772.1,1187.8 775.3,1185.4 778.5,1183.0 781.8,1180.7 785.0,1178.3 788.2,1175.9 791.4,1173.5 794.6,1171.1 797.8,1168.8 801.1,1166.4 804.3,1164.1 807.6,1161.7 810.8,1159.4 814.1,1157.1 817.4,1154.8 820.7,1152.6 824.0,1150.3 827.3,1148.0 830.6,1145.8 833.9,1143.6 837.3,1141.4 840.6,1139.3 844.0,1137.1 847.4,1135.1 850.9,1133.0 854.3,1130.9 857.7,1128.9 861.2,1126.9 864.7,1124.9 868.2,1122.9 871.7,1121.1 875.3,1119.3 878.9,1117.6 882.6,1116.1 886.3,1114.7 890.1,1113.4 894.0,1112.2 897.8,1111.2 901.7,1110.3 905.7,1109.5 909.6,1108.7 913.5,1108.0 917.4,1107.3 921.4,1106.5 925.3,1105.8 929.2,1105.0 933.2,1104.3 937.1,1103.6 941.0,1102.9 945.0,1102.2 948.9,1101.6 952.9,1101.0 956.9,1100.5 960.8,1099.9 964.8,1099.4 968.7,1098.9 972.7,1098.4 976.7,1098.0 980.7,1097.6 984.7,1097.2 988.6,1096.8 992.6,1096.5 996.6,1096.3 1000.6,1096.0 1004.6,1095.9 1008.6,1095.7 1012.6,1095.6 1016.6,1095.4 1020.6,1095.4 1024.6,1095.3 1028.6,1095.3 1032.6,1095.3 1036.6,1095.4 1040.6,1095.5 1044.6,1095.7 1048.6,1096.0 1052.6,1096.2 1056.6,1096.6 1060.5,1097.0 1064.5,1097.4 1068.5,1097.9 1072.5,1098.4 1076.4,1098.9 1080.4,1099.5 1084.3,1100.2 1088.3,1100.8 1092.2,1101.5 1096.1,1102.3 1100.1,1103.0 1104.0,1103.8 1107.9,1104.7 1111.8,1105.5 1115.7,1106.5 1119.6,1107.4 1123.4,1108.5 1127.3,1109.6 1131.1,1110.8 1134.9,1112.1 1138.6,1113.5 1142.3,1115.0 1146.0,1116.5 1149.7,1118.2 1153.3,1119.8 1156.9,1121.6 1160.4,1123.4 1164.0,1125.3 1167.4,1127.3 1170.9,1129.4 1174.2,1131.6 1177.5,1133.9 1180.7,1136.3 1183.8,1138.8 1186.8,1141.4 1189.8,1144.1 1192.7,1146.8 1195.6,1149.6 1198.4,1152.4 1201.2,1155.3 1204.0,1158.1 1206.8,1161.0 1209.5,1164.0 1212.2,1166.9 1214.9,1169.9 1217.5,1172.9 1220.1,1176.0 1222.6,1179.1 1225.1,1182.2 1227.5,1185.4 1229.9,1188.6 1232.2,1191.9 1234.4,1195.2 1236.6,1198.5 1238.9,1201.9 1241.1,1205.2 1243.4,1208.5 1245.7,1211.7 1248.1,1215.0 1250.5,1218.2 1252.9,1221.3 1255.3,1224.5 1257.8,1227.6 1260.3,1230.8 1262.8,1233.9 1265.2,1237.1 1267.8,1240.2 1270.3,1243.3 1272.8,1246.4 1275.4,1249.4 1277.9,1252.5 1280.6,1255.5 1283.2,1258.5 1285.8,1261.5 1288.5,1264.5 1291.3,1267.4 1294.0,1270.3 1296.9,1273.1 1299.7,1275.9 1302.6,1278.7 1305.6,1281.4 1308.6,1284.0 1311.7,1286.5 1314.8,1289.1 1317.9,1291.5 1321.1,1294.0 1324.3,1296.4 1327.5,1298.7 1330.8,1301.1 1334.0,1303.4 1337.3,1305.8 1340.5,1308.1 1343.8,1310.4 1347.0,1312.8 1350.3,1315.1 1353.5,1317.5 1356.7,1319.8 1360.0,1322.2 1363.2,1324.5 1366.5,1326.8 1369.7,1329.1 1373.0,1331.4 1376.3,1333.7 1379.6,1336.0 1382.9,1338.3 1386.2,1340.5 1389.5,1342.8 1392.8,1345.0 1396.1,1347.2 1399.4,1349.5 1402.8,1351.7 1406.1,1353.9 1409.5,1356.1 1412.8,1358.2 1416.2,1360.4 1419.6,1362.5 1422.9,1364.7 1426.3,1366.8 1429.7,1369.0 1433.1,1371.1 1436.5,1373.2 1439.9,1375.3 1443.3,1377.3 1446.8,1379.4 1450.2,1381.5 1453.6,1383.5 1457.1,1385.6 1460.5,1387.6 1464.0,1389.6 1467.4,1391.6 1470.9,1393.6 1474.4,1395.6 1477.8,1397.6 1481.3,1399.5 1484.8,1401.5 1488.3,1403.4 1491.8,1405.4 1495.3,1407.3 1498.8,1409.2 1502.4,1411.1 1505.9,1413.0 1509.4,1414.9 1512.9,1416.7 1516.5,1418.6 1520.0,1420.5 1523.6,1422.3 1527.1,1424.1 1530.7,1425.9 1534.3,1427.7 1537.8,1429.5 1541.4,1431.3 1545.0,1433.1 1548.6,1434.9 1552.2,1436.6 1555.8,1438.4 1559.4,1440.1 1563.0,1441.8 1566.6,1443.6 1570.2,1445.3 1573.8,1447.0 1577.5,1448.7 1581.1,1450.3 1584.7,1452.0 1588.4,1453.7 1592.0,1455.3 1595.7,1457.0 1599.3,1458.6 1603.0,1460.2 1606.6,1461.8 1610.3,1463.4 1614.0,1465.0 1617.6,1466.6 1621.3,1468.2 1625.0,1469.7 1628.7,1471.3 1632.4,1472.8 1636.1,1474.4 1639.8,1475.9 1643.5,1477.4 1647.2,1479.0 1650.9,1480.5 1654.6,1482.0 1658.3,1483.5 1662.0,1484.9 1665.7,1486.4 1669.4,1487.9 1673.2,1489.3 1676.9,1490.8 1680.6,1492.2 1684.4,1493.7 1688.1,1495.1 1691.8,1496.5 1695.6,1497.9 1699.3,1499.3 1703.1,1500.7 1706.8,1502.1 1710.6,1503.5 1714.3,1504.9 1718.1,1506.3 1721.8,1507.6 1725.6,1509.0 1729.4,1510.3 1733.1,1511.7 1736.9,1513.0 1740.7,1514.3 1744.5,1515.7 1748.2,1517.0 1752.0,1518.3 1755.8,1519.6 1759.6,1520.9 1763.4,1522.2 1767.2,1523.5 1770.9,1524.7 1774.7,1526.0 1778.5,1527.3 1782.3,1528.5 1786.1,1529.8 1789.9,1531.0 1793.7,1532.3 1797.5,1533.5 1801.4,1534.7 1805.2,1535.9 1809.0,1537.2 1812.8,1538.4 1816.6,1539.6 1820.4,1540.8 1824.2,1541.9 1828.1,1543.1 1831.9,1544.3 1835.7,1545.5 1839.5,1546.6 1843.4,1547.8 1847.2,1549.0 1851.0,1550.1 1854.9,1551.2 1858.7,1552.4 1862.5,1553.5 1866.4,1554.6 1870.2,1555.8 1874.0,1556.9 1877.9,1558.0 1881.7,1559.1 1885.6,1560.2 1889.4,1561.3 1893.3,1562.4 1897.1,1563.5 1901.0,1564.5 1904.8,1565.6 1908.7,1566.7 1912.5,1567.7 1916.4,1568.8 1920.3,1569.8 1924.1,1570.9 1928.0,1571.9 1931.8,1573.0 1935.7,1574.0 1939.6,1575.0 1943.4,1576.1 1947.3,1577.1 1951.2,1578.1 1955.0,1579.1 1958.9,1580.1 1962.8,1581.1 1966.7,1582.1 1970.5,1583.1 1974.4,1584.1 1978.3,1585.1 1982.2,1586.1 1986.0,1587.0 1989.9,1588.0 1993.8,1589.0 1997.7,1590.0 2001.6,1590.9 2005.5,1591.9 2009.3,1592.8 2013.2,1593.8 2017.1,1594.7 2021.0,1595.7 2024.9,1596.6 2028.8,1597.5 2032.7,1598.5 2036.6,1599.4 2040.4,1600.3 2044.3,1601.3 2048.2,1602.2 2052.1,1603.1 2056.0,1604.0 2059.9,1604.9 2063.8,1605.8 2067.7,1606.7 2071.6,1607.6 2075.5,1608.5 2079.4,1609.4 2083.3,1610.3 2087.2,1611.2 2091.1,1612.1 2095.0,1613.0 2098.9,1613.9 2102.8,1614.7 2106.7,1615.6 2110.6,1616.5 2114.5,1617.4 2118.4,1618.2 2122.3,1619.1 2126.2,1620.0 2130.1,1620.8 2134.0,1621.7 2137.9,1622.6 2141.9,1623.4 2145.8,1624.3 2149.7,1625.1 2153.6,1626.0 2157.5,1626.9 2161.4,1627.7 2165.3,1628.6 2169.2,1629.4 2173.1,1630.2 2177.0,1631.1 2180.9,1631.9 2184.8,1632.8 2188.8,1633.6 2192.7,1634.5 2196.6,1635.3 2200.5,1636.1 2204.4,1637.0 2208.3,1637.8 2212.2,1638.7 2216.1,1639.5 2220.0,1640.3 2224.0,1641.2 2227.9,1642.0 2228.8,1642.2"/>
<path stroke="#2EB800" d="M146.7,1670.3 150.7,1670.3 154.7,1670.2 158.7,1670.2 162.7,1670.2 166.7,1670.1 170.7,1670.1 174.7,1670.1 178.7,1670.1 182.7,1670.0 186.7,1670.0 190.7,1670.0 194.7,1670.0 198.7,1669.9 202.7,1669.9 206.7,1669.9 210.7,1669.9 214.7,1669.8 218.7,1669.8 222.7,1669.8 226.7,1669.7 230.7,1669.7 234.7,1669.7 238.7,1669.6 242.7,1669.6 246.7,1669.5 250.7,1669.4 254.7,1669.3 258.7,1669.1 262.7,1669.0 266.7,1668.8 270.7,1668.6 274.7,1668.4 278.7,1668.2 282.7,1668.0 286.7,1667.8 290.7,1667.6 294.7,1667.4 298.7,1667.3 302.7,1667.1 306.7,1667.0 310.7,1666.9 314.7,1666.7 318.7,1666.5 322.6,1666.3 326.6,1666.0 330.6,1665.6 334.6,1665.1 338.5,1664.4 342.4,1663.5 346.2,1662.3 350.0,1660.8 353.5,1659.0 356.9,1656.8 360.0,1654.4 363.0,1651.7 366.0,1649.0 368.9,1646.3 371.8,1643.5 374.6,1640.7 377.4,1637.8 380.2,1635.0 383.0,1632.1 385.8,1629.2 388.6,1626.5 391.6,1623.8 394.7,1621.3 397.9,1618.8 401.0,1616.3 404.1,1613.8 407.2,1611.2 410.3,1608.7 413.5,1606.4 417.0,1604.3 420.6,1602.7 424.4,1601.4 428.3,1600.3 432.2,1599.6 436.1,1599.0 440.1,1598.6 444.1,1598.3 448.1,1598.0 452.1,1597.7 456.1,1597.2 460.0,1596.5 463.9,1595.7 467.8,1594.7 471.6,1593.5 475.3,1592.1 478.9,1590.3 482.3,1588.2 485.7,1586.0 489.1,1583.9 492.6,1582.1 496.3,1580.4 499.9,1578.7 503.4,1576.8 506.6,1574.4 509.7,1571.9 512.7,1569.2 515.6,1566.4 518.5,1563.7 521.3,1560.9 524.1,1558.0 526.9,1555.1 529.6,1552.2 532.2,1549.2 534.9,1546.1 537.4,1543.1 540.0,1540.0 542.4,1536.9 544.9,1533.7 547.3,1530.5 549.7,1527.3 552.0,1524.0 554.2,1520.7 556.4,1517.3 558.5,1513.9 560.6,1510.5 562.6,1507.1 564.6,1503.6 566.7,1500.2 568.7,1496.7 570.6,1493.2 572.6,1489.7 574.5,1486.2 576.3,1482.6 578.0,1479.0 579.6,1475.4 581.1,1471.7 582.6,1467.9 584.0,1464.2 585.4,1460.5 586.8,1456.7 588.3,1453.0 589.7,1449.3 591.2,1445.6 592.8,1441.9 594.3,1438.2 595.8,1434.5 597.4,1430.8 599.0,1427.1 600.5,1423.4 602.1,1419.8 603.7,1416.1 605.3,1412.4 607.0,1408.8 608.7,1405.2 610.5,1401.6 612.3,1398.1 614.2,1394.5 616.1,1391.0 618.0,1387.5 619.9,1384.0 621.9,1380.5 623.9,1377.0 626.0,1373.6 628.1,1370.2 630.3,1366.9 632.5,1363.6 634.9,1360.3 637.3,1357.1 639.8,1354.0 642.4,1350.9 645.0,1347.9 647.7,1344.9 650.4,1342.0 653.2,1339.2 656.0,1336.3 658.8,1333.5 661.7,1330.7 664.6,1327.9 667.5,1325.2 670.5,1322.5 673.5,1319.9 676.5,1317.3 679.6,1314.7 682.7,1312.2 685.8,1309.7 688.9,1307.1 692.0,1304.6 695.1,1302.0 698.1,1299.5 701.2,1296.9 704.2,1294.2 707.2,1291.6 710.2,1289.0 713.3,1286.4 716.3,1283.8 719.3,1281.1 722.3,1278.5 725.3,1275.9 728.4,1273.3 731.4,1270.6 734.4,1268.0 737.4,1265.4 740.4,1262.8 743.4,1260.1 746.4,1257.4 749.4,1254.8 752.4,1252.1 755.4,1249.5 758.4,1246.9 761.4,1244.2 764.5,1241.7 767.5,1239.1 770.6,1236.6 773.8,1234.1 776.9,1231.6 780.1,1229.2 783.3,1226.8 786.5,1224.4 789.7,1222.1 793.0,1219.7 796.2,1217.4 799.5,1215.1 802.8,1212.7 806.0,1210.4 809.2,1208.0 812.5,1205.7 815.7,1203.3 818.9,1201.0 822.1,1198.6 825.4,1196.2 828.6,1193.9 831.8,1191.5 835.0,1189.1 838.3,1186.8 841.5,1184.4 844.7,1182.0 847.9,1179.6 851.1,1177.2 854.3,1174.8 857.4,1172.3 860.6,1169.9 863.7,1167.4 866.9,1164.9 870.1,1162.5 873.3,1160.1 876.6,1157.9 879.9,1155.7 883.4,1153.6 886.8,1151.6 890.4,1149.8 894.0,1148.1 897.7,1146.6 901.4,1145.1 905.2,1143.7 908.9,1142.3 912.7,1141.0 916.5,1139.6 920.2,1138.3 924.0,1137.0 927.8,1135.6 931.5,1134.3 935.3,1133.0 939.1,1131.7 942.9,1130.4 946.7,1129.2 950.5,1127.9 954.3,1126.7 958.2,1125.6 962.0,1124.4 965.8,1123.3 969.7,1122.1 973.5,1121.0 977.3,1119.9 981.2,1118.8 985.1,1117.8 988.9,1116.8 992.8,1115.8 996.7,1115.0 1000.6,1114.2 1004.6,1113.5 1008.5,1112.9 1012.5,1112.4 1016.5,1112.0 1020.5,1111.7 1024.5,1111.4 1028.4,1111.1 1032.4,1110.8 1036.4,1110.6 1040.4,1110.4 1044.4,1110.3 1048.4,1110.1 1052.4,1110.0 1056.4,1110.0 1060.4,1110.0 1064.4,1110.1 1068.4,1110.2 1072.4,1110.3 1076.4,1110.4 1080.4,1110.7 1084.4,1110.9 1088.4,1111.2 1092.4,1111.6 1096.3,1112.1 1100.3,1112.6 1104.3,1113.1 1108.2,1113.7 1112.2,1114.3 1116.1,1114.9 1120.1,1115.6 1124.0,1116.4 1127.9,1117.3 1131.7,1118.4 1135.6,1119.5 1139.4,1120.8 1143.1,1122.2 1146.8,1123.7 1150.5,1125.3 1154.1,1127.0 1157.7,1128.7 1161.3,1130.6 1164.8,1132.5 1168.3,1134.5 1171.7,1136.5 1175.1,1138.6 1178.4,1140.8 1181.7,1143.1 1185.0,1145.4 1188.2,1147.9 1191.3,1150.3 1194.3,1152.9 1197.3,1155.6 1200.3,1158.3 1203.1,1161.1 1205.9,1163.9 1208.7,1166.8 1211.4,1169.8 1214.1,1172.7 1216.8,1175.7 1219.4,1178.7 1222.0,1181.8 1224.6,1184.8 1227.2,1187.9 1229.7,1190.9 1232.3,1194.0 1234.9,1197.1 1237.5,1200.1 1240.0,1203.2 1242.6,1206.2 1245.2,1209.3 1247.9,1212.3 1250.5,1215.3 1253.1,1218.3 1255.8,1221.3 1258.4,1224.3 1261.0,1227.4 1263.5,1230.4 1266.1,1233.5 1268.7,1236.6 1271.2,1239.7 1273.8,1242.7 1276.4,1245.8 1279.0,1248.8 1281.6,1251.9 1284.2,1254.9 1286.9,1257.8 1289.6,1260.8 1292.4,1263.7 1295.2,1266.5 1298.1,1269.3 1301.0,1272.0 1304.0,1274.7 1307.0,1277.3 1310.1,1279.9 1313.2,1282.4 1316.3,1284.9 1319.5,1287.3 1322.7,1289.7 1325.9,1292.0 1329.2,1294.4 1332.4,1296.7 1335.7,1299.0 1339.0,1301.3 1342.3,1303.6 1345.5,1305.9 1348.8,1308.2 1352.0,1310.6 1355.3,1312.9 1358.5,1315.2 1361.8,1317.5 1365.1,1319.8 1368.3,1322.1 1371.6,1324.4 1374.9,1326.7 1378.2,1328.9 1381.5,1331.2 1384.8,1333.4 1388.2,1335.7 1391.5,1337.9 1394.8,1340.1 1398.1,1342.3 1401.5,1344.5 1404.8,1346.7 1408.2,1348.9 1411.6,1351.0 1414.9,1353.2 1418.3,1355.3 1421.7,1357.5 1425.1,1359.6 1428.5,1361.7 1431.9,1363.8 1435.3,1365.9 1438.7,1368.0 1442.1,1370.1 1445.5,1372.1 1449.0,1374.2 1452.4,1376.2 1455.9,1378.3 1459.3,1380.3 1462.8,1382.3 1466.2,1384.3 1469.7,1386.3 1473.2,1388.3 1476.6,1390.3 1480.1,1392.2 1483.6,1394.2 1487.1,1396.1 1490.6,1398.1 1494.1,1400.0 1497.6,1401.9 1501.2,1403.8 1504.7,1405.7 1508.2,1407.6 1511.7,1409.5 1515.3,1411.3 1518.8,1413.2 1522.4,1415.0 1525.9,1416.9 1529.5,1418.7 1533.1,1420.5 1536.6,1422.3 1540.2,1424.1 1543.8,1425.9 1547.4,1427.7 1550.9,1429.4 1554.5,1431.2 1558.1,1432.9 1561.7,1434.7 1565.3,1436.4 1569.0,1438.1 1572.6,1439.8 1576.2,1441.5 1579.8,1443.2 1583.4,1444.9 1587.1,1446.6 1590.7,1448.2 1594.4,1449.9 1598.0,1451.5 1601.7,1453.2 1605.3,1454.8 1609.0,1456.4 1612.6,1458.0 1616.3,1459.6 1620.0,1461.2 1623.6,1462.8 1627.3,1464.4 1631.0,1465.9 1634.7,1467.5 1638.4,1469.0 1642.1,1470.6 1645.8,1472.1 1649.5,1473.6 1653.2,1475.2 1656.9,1476.7 1660.6,1478.2 1664.3,1479.7 1668.0,1481.1 1671.7,1482.6 1675.4,1484.1 1679.2,1485.6 1682.9,1487.0 1686.6,1488.4 1690.3,1489.9 1694.1,1491.3 1697.8,1492.7 1701.6,1494.2 1705.3,1495.6 1709.0,1497.0 1712.8,1498.4 1716.5,1499.8 1720.3,1501.1 1724.1,1502.5 1727.8,1503.9 1731.6,1505.2 1735.3,1506.6 1739.1,1508.0 1742.9,1509.3 1746.6,1510.6 1750.4,1512.0 1754.2,1513.3 1758.0,1514.6 1761.7,1515.9 1765.5,1517.2 1769.3,1518.5 1773.1,1519.8 1776.9,1521.1 1780.7,1522.4 1784.4,1523.7 1788.2,1525.0 1792.0,1526.2 1795.8,1527.5 1799.6,1528.8 1803.4,1530.0 1807.2,1531.3 1811.0,1532.5 1814.8,1533.8 1818.6,1535.0 1822.4,1536.3 1826.2,1537.5 1830.0,1538.7 1833.8,1540.0 1837.7,1541.2 1841.5,1542.4 1845.3,1543.6 1849.1,1544.8 1852.9,1546.0 1856.7,1547.2 1860.5,1548.4 1864.4,1549.6 1868.2,1550.8 1872.0,1552.0 1875.8,1553.1 1879.6,1554.3 1883.5,1555.5 1887.3,1556.6 1891.1,1557.8 1895.0,1559.0 1898.8,1560.1 1902.6,1561.3 1906.4,1562.4 1910.3,1563.5 1914.1,1564.7 1918.0,1565.8 1921.8,1566.9 1925.6,1568.1 1929.5,1569.2 1933.3,1570.3 1937.2,1571.4 1941.0,1572.5 1944.8,1573.6 1948.7,1574.7 1952.5,1575.8 1956.4,1576.9 1960.2,1578.0 1964.1,1579.0 1967.9,1580.1 1971.8,1581.2 1975.7,1582.3 1979.5,1583.3 1983.4,1584.4 1987.2,1585.4 1991.1,1586.5 1995.0,1587.5 1998.8,1588.6 2002.7,1589.6 2006.5,1590.6 2010.4,1591.6 2014.3,1592.7 2018.1,1593.7 2022.0,1594.7 2025.9,1595.7 2029.8,1596.7 2033.6,1597.7 2037.5,1598.7 2041.4,1599.7 2045.3,1600.7 2049.1,1601.7 2053.0,1602.6 2056.9,1603.6 2060.8,1604.6 2064.7,1605.5 2068.5,1606.5 2072.4,1607.4 2076.3,1608.4 2080.2,1609.3 2084.1,1610.3 2088.0,1611.2 2091.9,1612.1 2095.8,1613.1 2099.7,1614.0 2103.5,1614.9 2107.4,1615.8 2111.3,1616.7 2115.2,1617.6 2119.1,1618.5 2123.0,1619.4 2126.9,1620.3 2130.8,1621.2 2134.7,1622.1 2138.6,1623.0 2142.5,1623.8 2146.4,1624.7 2150.4,1625.6 2154.3,1626.4 2158.2,1627.3 2162.1,1628.1 2166.0,1628.9 2169.9,1629.8 2173.8,1630.6 2177.7,1631.4 2181.6,1632.3 2185.6,1633.1 2189.5,1633.9 2193.4,1634.7 2197.3,1635.5 2201.2,1636.3 2205.1,1637.1 2209.1,1637.9 2213.0,1638.7 2216.9,1639.5 2220.8,1640.3 2224.8,1641.0 2227.9,1641.6"/>
</g>
<rect x="144.5" y="17.5" width="2086" height="1678" fill="none" stroke="#000" stroke-width="7"/>
<path d="M144.75,1695V1729 M405.50,1695V1729 M666.25,1695V1729 M927.00,1695V1729 M1187.75,1695V1729 M1448.50,1695V1729 M1709.25,1695V1729 M1970.00,1695V1729 M2230.75,1695V1729 " stroke="#000" stroke-width="7" fill="none"/>
<text class="b" x="144.75" y="1806.8" font-size="72" text-anchor="middle">350</text>
<text class="b" x="405.50" y="1806.8" font-size="72" text-anchor="middle">375</text>
<text class="b" x="666.25" y="1806.8" font-size="72" text-anchor="middle">400</text>
<text class="b" x="927.00" y="1806.8" font-size="72" text-anchor="middle">425</text>
<text class="b" x="1187.75" y="1806.8" font-size="72" text-anchor="middle">450</text>
<text class="b" x="1448.50" y="1806.8" font-size="72" text-anchor="middle">475</text>
<text class="b" x="1709.25" y="1806.8" font-size="72" text-anchor="middle">500</text>
<text class="b" x="1970.00" y="1806.8" font-size="72" text-anchor="middle">525</text>
<text class="b" x="2230.75" y="1806.8" font-size="72" text-anchor="middle">550</text>
<text class="b" x="1186.5" y="1918.8" font-size="88" text-anchor="middle">Wavelength (nm)</text>
<text class="b" transform="translate(81.7,786.5) rotate(-90)" font-size="88" text-anchor="middle">PL Intensity (a.u.)</text>
<text class="b" x="1038.5" y="119.8" font-size="88" text-anchor="middle">Turn-off Fluorescence</text>
<text class="b" x="453.75" y="318" font-size="72" text-anchor="middle">380</text>
<text class="b" x="649.5" y="213.3" font-size="72" text-anchor="middle">398</text>
<text class="b" x="1102" y="1071.8" font-size="72" text-anchor="middle">440</text>
<text class="b" x="1206" y="452.8" font-size="72" text-anchor="middle">Fluorescence quenching</text>
<text class="b" x="1213.6" y="542.5" font-size="72" text-anchor="middle">with Hg(II) addition</text>
<text class="b" x="1247.2" y="814.4" font-size="87" text-anchor="middle">0-50 ppm</text>
<path d="M988,605 L1033,605 L1033,900 L1057,900 L1010.5,959 L964,900 L988,900 Z" fill="#FF0000" stroke="#03508F" stroke-width="4" stroke-linejoin="miter"/>
<rect x="1664.5" y="49.5" width="526" height="1298.5" fill="#fff" stroke="#000" stroke-width="3"/>
<rect x="1670" y="102.80" width="207" height="12" rx="3" fill="#767676"/>
<text x="1892" y="138.80" font-size="88.5">0 ppb</text>
<rect x="1670" y="210.05" width="207" height="12" rx="3" fill="#FF3C3C"/>
<text x="1892" y="246.05" font-size="88.5">10 ppb</text>
<rect x="1670" y="317.30" width="207" height="12" rx="3" fill="#006AE0"/>
<text x="1892" y="353.30" font-size="88.5">100 ppb</text>
<rect x="1670" y="424.55" width="207" height="12" rx="3" fill="#00AB64"/>
<text x="1892" y="460.55" font-size="88.5">250 ppb</text>
<rect x="1670" y="531.80" width="207" height="12" rx="3" fill="#C077E0"/>
<text x="1892" y="567.80" font-size="88.5">500 ppb</text>
<rect x="1670" y="639.05" width="207" height="12" rx="3" fill="#DD9900"/>
<text x="1892" y="675.05" font-size="88.5">1.0 ppm</text>
<rect x="1670" y="746.30" width="207" height="12" rx="3" fill="#00CCCC"/>
<text x="1892" y="782.30" font-size="88.5">2.5 ppm</text>
<rect x="1670" y="853.55" width="207" height="12" rx="3" fill="#8A4B4B"/>
<text x="1892" y="889.55" font-size="88.5">5.0 ppm</text>
<rect x="1670" y="960.80" width="207" height="12" rx="3" fill="#8C8C00"/>
<text x="1892" y="996.80" font-size="88.5">10 ppm</text>
<rect x="1670" y="1068.05" width="207" height="12" rx="3" fill="#FF6600"/>
<text x="1892" y="1104.05" font-size="88.5">20 ppm</text>
<rect x="1670" y="1175.30" width="207" height="12" rx="3" fill="#4198CF"/>
<text x="1892" y="1211.30" font-size="88.5">30 ppm</text>
<rect x="1670" y="1282.55" width="207" height="12" rx="3" fill="#2EB800"/>
<text x="1892" y="1318.55" font-size="88.5">50 ppm</text>
</svg>
</body></html>
